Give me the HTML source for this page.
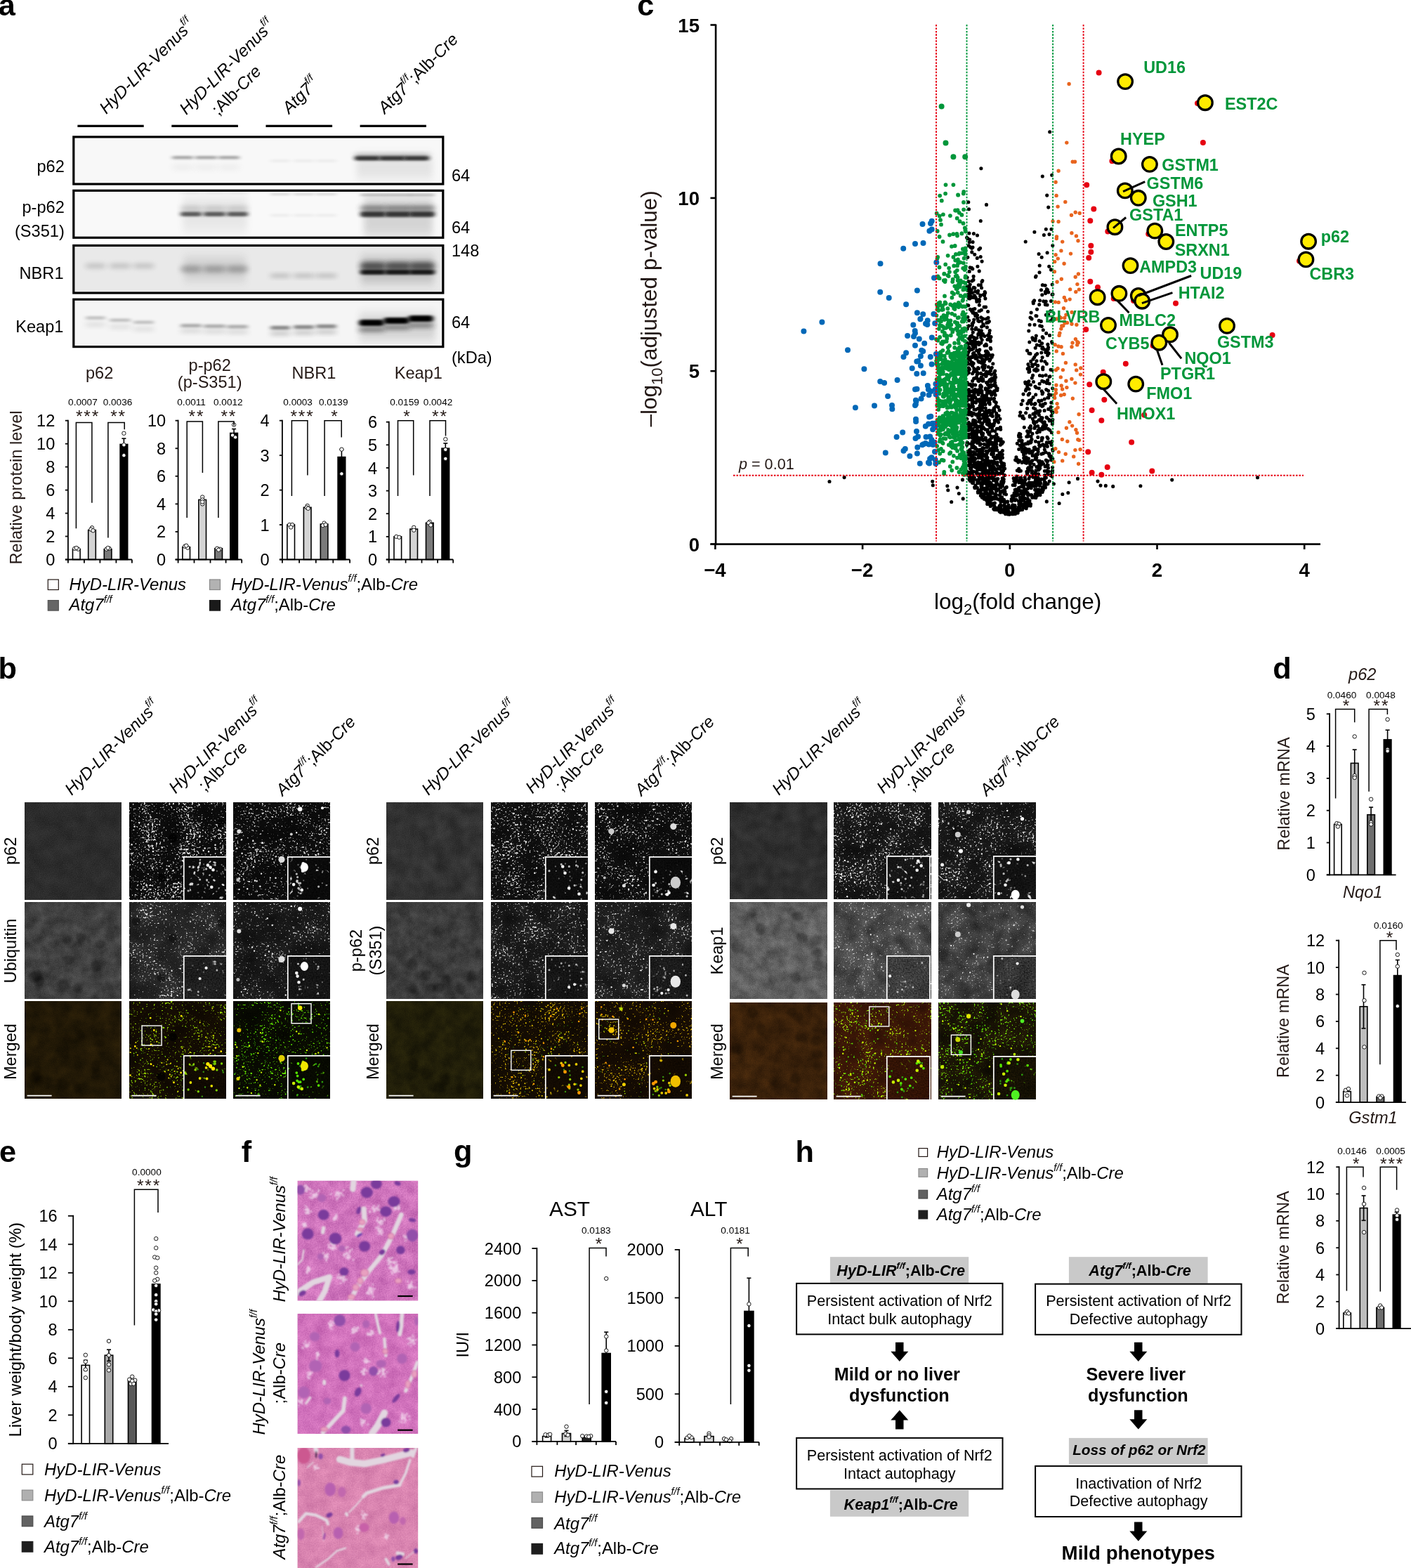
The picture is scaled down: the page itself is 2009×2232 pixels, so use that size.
<!DOCTYPE html>
<html lang="en"><head><meta charset="utf-8"><title>Figure</title>
<style>
html,body{margin:0;padding:0;background:#fff}
body{width:2009px;height:2232px;overflow:hidden}
svg{display:block;font-family:"Liberation Sans",sans-serif}
</style></head><body>
<svg width="2009" height="2232" viewBox="0 0 2009 2232">
<defs>
<filter id="b1" x="-20%" y="-100%" width="140%" height="300%"><feGaussianBlur stdDeviation="3 1.5"/></filter>
<filter id="b2" x="-20%" y="-100%" width="140%" height="300%"><feGaussianBlur stdDeviation="4 3"/></filter>
<filter id="b3" x="-20%" y="-100%" width="140%" height="300%"><feGaussianBlur stdDeviation="5 8"/></filter>
<filter id="sb" x="-5%" y="-5%" width="110%" height="110%"><feGaussianBlur stdDeviation="0.45"/></filter>
<filter id="sb3" x="-30%" y="-30%" width="160%" height="160%"><feGaussianBlur stdDeviation="1.6"/></filter>
<filter id="n1" x="0" y="0" width="100%" height="100%" color-interpolation-filters="sRGB"><feTurbulence type="fractalNoise" baseFrequency="0.85" numOctaves="1" seed="3"/><feColorMatrix values="1 0 0 0 0 1 0 0 0 0 1 0 0 0 0 0 0 0 0 1" result="f"/><feTurbulence type="fractalNoise" baseFrequency="0.05" numOctaves="2" seed="53"/><feColorMatrix values="1 0 0 0 0 1 0 0 0 0 1 0 0 0 0 0 0 0 0 1" result="b"/><feComposite in="f" in2="b" operator="arithmetic" k1="0" k2="0.65" k3="0.35" k4="0"/><feColorMatrix values="0.200 0 0 0 0.073 0.200 0 0 0 0.073 0.200 0 0 0 0.073 0 0 0 0 1" result="g"/></filter>
<filter id="n2" x="0" y="0" width="100%" height="100%" color-interpolation-filters="sRGB"><feTurbulence type="fractalNoise" baseFrequency="0.85" numOctaves="1" seed="8"/><feColorMatrix values="1 0 0 0 0 1 0 0 0 0 1 0 0 0 0 0 0 0 0 1" result="f"/><feTurbulence type="fractalNoise" baseFrequency="0.035" numOctaves="2" seed="58"/><feColorMatrix values="1 0 0 0 0 1 0 0 0 0 1 0 0 0 0 0 0 0 0 1" result="b"/><feComposite in="f" in2="b" operator="arithmetic" k1="0" k2="0.60" k3="0.40" k4="0"/><feColorMatrix values="0.120 0 0 0 -0.009 0.120 0 0 0 -0.009 0.120 0 0 0 -0.009 0 0 0 0 1" result="g"/><feTurbulence type="fractalNoise" baseFrequency="0.37" numOctaves="2" seed="15"/><feColorMatrix values="1 0 0 0 0 1 0 0 0 0 1 0 0 0 0 0 0 0 0 1" result="h"/><feComposite in="h" in2="b" operator="arithmetic" k1="0" k2="7.500" k3="2.500" k4="-5.810"/><feColorMatrix values="0.80 0 0 0 0 0.80 0 0 0 0 0.80 0 0 0 0 0 0 0 0 1"/><feGaussianBlur stdDeviation="0.5" result="s"/><feComposite in="g" in2="s" operator="arithmetic" k1="0" k2="1" k3="1" k4="0"/></filter>
<filter id="n3" x="0" y="0" width="100%" height="100%" color-interpolation-filters="sRGB"><feTurbulence type="fractalNoise" baseFrequency="0.5" numOctaves="1" seed="93"/><feColorMatrix values="1 0 0 0 0 1 0 0 0 0 1 0 0 0 0 0 0 0 0 1" result="f"/><feTurbulence type="fractalNoise" baseFrequency="0.03" numOctaves="2" seed="143"/><feColorMatrix values="1 0 0 0 0 1 0 0 0 0 1 0 0 0 0 0 0 0 0 1" result="b"/><feComposite in="f" in2="b" operator="arithmetic" k1="0" k2="0.70" k3="0.30" k4="0"/><feColorMatrix values="0.108 0 0 0 -0.011 0.108 0 0 0 -0.011 0.108 0 0 0 -0.011 0 0 0 0 1" result="g"/><feTurbulence type="fractalNoise" baseFrequency="0.16" numOctaves="2" seed="100"/><feColorMatrix values="1 0 0 0 0 1 0 0 0 0 1 0 0 0 0 0 0 0 0 1" result="h"/><feComposite in="h" in2="b" operator="arithmetic" k1="0" k2="7.000" k3="3.000" k4="-6.260"/><feColorMatrix values="0.80 0 0 0 0 0.80 0 0 0 0 0.80 0 0 0 0 0 0 0 0 1"/><feGaussianBlur stdDeviation="0.5" result="s"/><feComposite in="g" in2="s" operator="arithmetic" k1="0" k2="1" k3="1" k4="0"/></filter>
<filter id="n4" x="0" y="0" width="100%" height="100%" color-interpolation-filters="sRGB"><feTurbulence type="fractalNoise" baseFrequency="0.85" numOctaves="1" seed="13"/><feColorMatrix values="1 0 0 0 0 1 0 0 0 0 1 0 0 0 0 0 0 0 0 1" result="f"/><feTurbulence type="fractalNoise" baseFrequency="0.035" numOctaves="2" seed="63"/><feColorMatrix values="1 0 0 0 0 1 0 0 0 0 1 0 0 0 0 0 0 0 0 1" result="b"/><feComposite in="f" in2="b" operator="arithmetic" k1="0" k2="0.60" k3="0.40" k4="0"/><feColorMatrix values="0.120 0 0 0 -0.013 0.120 0 0 0 -0.013 0.120 0 0 0 -0.013 0 0 0 0 1" result="g"/><feTurbulence type="fractalNoise" baseFrequency="0.37" numOctaves="2" seed="20"/><feColorMatrix values="1 0 0 0 0 1 0 0 0 0 1 0 0 0 0 0 0 0 0 1" result="h"/><feComposite in="h" in2="b" operator="arithmetic" k1="0" k2="7.500" k3="2.500" k4="-6.060"/><feColorMatrix values="0.80 0 0 0 0 0.80 0 0 0 0 0.80 0 0 0 0 0 0 0 0 1"/><feGaussianBlur stdDeviation="0.5" result="s"/><feComposite in="g" in2="s" operator="arithmetic" k1="0" k2="1" k3="1" k4="0"/></filter>
<filter id="n5" x="0" y="0" width="100%" height="100%" color-interpolation-filters="sRGB"><feTurbulence type="fractalNoise" baseFrequency="0.5" numOctaves="1" seed="96"/><feColorMatrix values="1 0 0 0 0 1 0 0 0 0 1 0 0 0 0 0 0 0 0 1" result="f"/><feTurbulence type="fractalNoise" baseFrequency="0.03" numOctaves="2" seed="146"/><feColorMatrix values="1 0 0 0 0 1 0 0 0 0 1 0 0 0 0 0 0 0 0 1" result="b"/><feComposite in="f" in2="b" operator="arithmetic" k1="0" k2="0.70" k3="0.30" k4="0"/><feColorMatrix values="0.108 0 0 0 -0.015 0.108 0 0 0 -0.015 0.108 0 0 0 -0.015 0 0 0 0 1" result="g"/><feTurbulence type="fractalNoise" baseFrequency="0.16" numOctaves="2" seed="103"/><feColorMatrix values="1 0 0 0 0 1 0 0 0 0 1 0 0 0 0 0 0 0 0 1" result="h"/><feComposite in="h" in2="b" operator="arithmetic" k1="0" k2="7.000" k3="3.000" k4="-6.510"/><feColorMatrix values="0.80 0 0 0 0 0.80 0 0 0 0 0.80 0 0 0 0 0 0 0 0 1"/><feGaussianBlur stdDeviation="0.5" result="s"/><feComposite in="g" in2="s" operator="arithmetic" k1="0" k2="1" k3="1" k4="0"/></filter>
<filter id="n6" x="0" y="0" width="100%" height="100%" color-interpolation-filters="sRGB"><feTurbulence type="fractalNoise" baseFrequency="0.85" numOctaves="1" seed="14"/><feColorMatrix values="1 0 0 0 0 1 0 0 0 0 1 0 0 0 0 0 0 0 0 1" result="f"/><feTurbulence type="fractalNoise" baseFrequency="0.06" numOctaves="3" seed="64"/><feColorMatrix values="1 0 0 0 0 1 0 0 0 0 1 0 0 0 0 0 0 0 0 1" result="b"/><feComposite in="f" in2="b" operator="arithmetic" k1="0" k2="0.45" k3="0.55" k4="0"/><feColorMatrix values="0.340 0 0 0 0.081 0.340 0 0 0 0.081 0.340 0 0 0 0.081 0 0 0 0 1" result="g"/></filter>
<filter id="n7" x="0" y="0" width="100%" height="100%" color-interpolation-filters="sRGB"><feTurbulence type="fractalNoise" baseFrequency="0.85" numOctaves="1" seed="8"/><feColorMatrix values="1 0 0 0 0 1 0 0 0 0 1 0 0 0 0 0 0 0 0 1" result="f"/><feTurbulence type="fractalNoise" baseFrequency="0.035" numOctaves="2" seed="58"/><feColorMatrix values="1 0 0 0 0 1 0 0 0 0 1 0 0 0 0 0 0 0 0 1" result="b"/><feComposite in="f" in2="b" operator="arithmetic" k1="0" k2="0.50" k3="0.50" k4="0"/><feColorMatrix values="0.300 0 0 0 -0.001 0.300 0 0 0 -0.001 0.300 0 0 0 -0.001 0 0 0 0 1" result="g"/><feTurbulence type="fractalNoise" baseFrequency="0.37" numOctaves="2" seed="15"/><feColorMatrix values="1 0 0 0 0 1 0 0 0 0 1 0 0 0 0 0 0 0 0 1" result="h"/><feComposite in="h" in2="b" operator="arithmetic" k1="0" k2="6.000" k3="2.000" k4="-4.928"/><feColorMatrix values="0.80 0 0 0 0 0.80 0 0 0 0 0.80 0 0 0 0 0 0 0 0 1"/><feGaussianBlur stdDeviation="0.5" result="s"/><feComposite in="g" in2="s" operator="arithmetic" k1="0" k2="1" k3="1" k4="0"/></filter>
<filter id="n8" x="0" y="0" width="100%" height="100%" color-interpolation-filters="sRGB"><feTurbulence type="fractalNoise" baseFrequency="0.5" numOctaves="1" seed="93"/><feColorMatrix values="1 0 0 0 0 1 0 0 0 0 1 0 0 0 0 0 0 0 0 1" result="f"/><feTurbulence type="fractalNoise" baseFrequency="0.03" numOctaves="2" seed="143"/><feColorMatrix values="1 0 0 0 0 1 0 0 0 0 1 0 0 0 0 0 0 0 0 1" result="b"/><feComposite in="f" in2="b" operator="arithmetic" k1="0" k2="0.70" k3="0.30" k4="0"/><feColorMatrix values="0.270 0 0 0 -0.010 0.270 0 0 0 -0.010 0.270 0 0 0 -0.010 0 0 0 0 1" result="g"/><feTurbulence type="fractalNoise" baseFrequency="0.16" numOctaves="2" seed="100"/><feColorMatrix values="1 0 0 0 0 1 0 0 0 0 1 0 0 0 0 0 0 0 0 1" result="h"/><feComposite in="h" in2="b" operator="arithmetic" k1="0" k2="5.600" k3="2.400" k4="-5.288"/><feColorMatrix values="0.80 0 0 0 0 0.80 0 0 0 0 0.80 0 0 0 0 0 0 0 0 1"/><feGaussianBlur stdDeviation="0.5" result="s"/><feComposite in="g" in2="s" operator="arithmetic" k1="0" k2="1" k3="1" k4="0"/></filter>
<filter id="n9" x="0" y="0" width="100%" height="100%" color-interpolation-filters="sRGB"><feTurbulence type="fractalNoise" baseFrequency="0.85" numOctaves="1" seed="13"/><feColorMatrix values="1 0 0 0 0 1 0 0 0 0 1 0 0 0 0 0 0 0 0 1" result="f"/><feTurbulence type="fractalNoise" baseFrequency="0.035" numOctaves="2" seed="63"/><feColorMatrix values="1 0 0 0 0 1 0 0 0 0 1 0 0 0 0 0 0 0 0 1" result="b"/><feComposite in="f" in2="b" operator="arithmetic" k1="0" k2="0.50" k3="0.50" k4="0"/><feColorMatrix values="0.220 0 0 0 -0.016 0.220 0 0 0 -0.016 0.220 0 0 0 -0.016 0 0 0 0 1" result="g"/><feTurbulence type="fractalNoise" baseFrequency="0.37" numOctaves="2" seed="20"/><feColorMatrix values="1 0 0 0 0 1 0 0 0 0 1 0 0 0 0 0 0 0 0 1" result="h"/><feComposite in="h" in2="b" operator="arithmetic" k1="0" k2="6.000" k3="2.000" k4="-5.008"/><feColorMatrix values="0.80 0 0 0 0 0.80 0 0 0 0 0.80 0 0 0 0 0 0 0 0 1"/><feGaussianBlur stdDeviation="0.5" result="s"/><feComposite in="g" in2="s" operator="arithmetic" k1="0" k2="1" k3="1" k4="0"/></filter>
<filter id="n10" x="0" y="0" width="100%" height="100%" color-interpolation-filters="sRGB"><feTurbulence type="fractalNoise" baseFrequency="0.5" numOctaves="1" seed="96"/><feColorMatrix values="1 0 0 0 0 1 0 0 0 0 1 0 0 0 0 0 0 0 0 1" result="f"/><feTurbulence type="fractalNoise" baseFrequency="0.03" numOctaves="2" seed="146"/><feColorMatrix values="1 0 0 0 0 1 0 0 0 0 1 0 0 0 0 0 0 0 0 1" result="b"/><feComposite in="f" in2="b" operator="arithmetic" k1="0" k2="0.70" k3="0.30" k4="0"/><feColorMatrix values="0.198 0 0 0 -0.021 0.198 0 0 0 -0.021 0.198 0 0 0 -0.021 0 0 0 0 1" result="g"/><feTurbulence type="fractalNoise" baseFrequency="0.16" numOctaves="2" seed="103"/><feColorMatrix values="1 0 0 0 0 1 0 0 0 0 1 0 0 0 0 0 0 0 0 1" result="h"/><feComposite in="h" in2="b" operator="arithmetic" k1="0" k2="5.600" k3="2.400" k4="-5.368"/><feColorMatrix values="0.80 0 0 0 0 0.80 0 0 0 0 0.80 0 0 0 0 0 0 0 0 1"/><feGaussianBlur stdDeviation="0.5" result="s"/><feComposite in="g" in2="s" operator="arithmetic" k1="0" k2="1" k3="1" k4="0"/></filter>
<filter id="n11" x="0" y="0" width="100%" height="100%" color-interpolation-filters="sRGB"><feTurbulence type="fractalNoise" baseFrequency="0.85" numOctaves="1" seed="25"/><feColorMatrix values="1 0 0 0 0 1 0 0 0 0 1 0 0 0 0 0 0 0 0 1" result="f"/><feTurbulence type="fractalNoise" baseFrequency="0.05" numOctaves="3" seed="75"/><feColorMatrix values="1 0 0 0 0 1 0 0 0 0 1 0 0 0 0 0 0 0 0 1" result="b"/><feComposite in="f" in2="b" operator="arithmetic" k1="0" k2="0.40" k3="0.60" k4="0"/><feColorMatrix values="0.200 0 0 0 0.029 0.140 0 0 0 0.024 0.040 0 0 0 0.004 0 0 0 0 1" result="g"/></filter>
<filter id="n12" x="0" y="0" width="100%" height="100%" color-interpolation-filters="sRGB"><feTurbulence type="fractalNoise" baseFrequency="0.85" numOctaves="1" seed="8"/><feColorMatrix values="1 0 0 0 0 1 0 0 0 0 1 0 0 0 0 0 0 0 0 1" result="f"/><feTurbulence type="fractalNoise" baseFrequency="0.035" numOctaves="2" seed="58"/><feColorMatrix values="1 0 0 0 0 1 0 0 0 0 1 0 0 0 0 0 0 0 0 1" result="b"/><feComposite in="f" in2="b" operator="arithmetic" k1="0" k2="0.50" k3="0.50" k4="0"/><feColorMatrix values="0.140 0 0 0 0.008 0.098 0 0 0 -0.002 0.028 0 0 0 -0.002 0 0 0 0 1" result="g"/><feTurbulence type="fractalNoise" baseFrequency="0.37" numOctaves="2" seed="15"/><feColorMatrix values="1 0 0 0 0 1 0 0 0 0 1 0 0 0 0 0 0 0 0 1" result="h"/><feComposite in="h" in2="b" operator="arithmetic" k1="0" k2="7.500" k3="2.500" k4="-6.120"/><feColorMatrix values="0.50 0 0 0 0 0.78 0 0 0 0 0.00 0 0 0 0 0 0 0 0 1"/><feGaussianBlur stdDeviation="0.5" result="s"/><feComposite in="g" in2="s" operator="arithmetic" k1="0" k2="1" k3="1" k4="0"/></filter>
<filter id="n13" x="0" y="0" width="100%" height="100%" color-interpolation-filters="sRGB"><feTurbulence type="fractalNoise" baseFrequency="0.5" numOctaves="1" seed="93"/><feColorMatrix values="1 0 0 0 0 1 0 0 0 0 1 0 0 0 0 0 0 0 0 1" result="f"/><feTurbulence type="fractalNoise" baseFrequency="0.03" numOctaves="2" seed="143"/><feColorMatrix values="1 0 0 0 0 1 0 0 0 0 1 0 0 0 0 0 0 0 0 1" result="b"/><feComposite in="f" in2="b" operator="arithmetic" k1="0" k2="0.70" k3="0.30" k4="0"/><feColorMatrix values="0.126 0 0 0 0.004 0.088 0 0 0 -0.005 0.025 0 0 0 -0.005 0 0 0 0 1" result="g"/><feTurbulence type="fractalNoise" baseFrequency="0.16" numOctaves="2" seed="100"/><feColorMatrix values="1 0 0 0 0 1 0 0 0 0 1 0 0 0 0 0 0 0 0 1" result="h"/><feComposite in="h" in2="b" operator="arithmetic" k1="0" k2="7.000" k3="3.000" k4="-6.570"/><feColorMatrix values="0.50 0 0 0 0 0.78 0 0 0 0 0.00 0 0 0 0 0 0 0 0 1"/><feGaussianBlur stdDeviation="0.5" result="s"/><feComposite in="g" in2="s" operator="arithmetic" k1="0" k2="1" k3="1" k4="0"/></filter>
<filter id="n14" x="0" y="0" width="100%" height="100%" color-interpolation-filters="sRGB"><feTurbulence type="fractalNoise" baseFrequency="0.85" numOctaves="1" seed="13"/><feColorMatrix values="1 0 0 0 0 1 0 0 0 0 1 0 0 0 0 0 0 0 0 1" result="f"/><feTurbulence type="fractalNoise" baseFrequency="0.035" numOctaves="2" seed="63"/><feColorMatrix values="1 0 0 0 0 1 0 0 0 0 1 0 0 0 0 0 0 0 0 1" result="b"/><feComposite in="f" in2="b" operator="arithmetic" k1="0" k2="0.50" k3="0.50" k4="0"/><feColorMatrix values="0.096 0 0 0 -0.013 0.120 0 0 0 -0.017 0.024 0 0 0 -0.004 0 0 0 0 1" result="g"/><feTurbulence type="fractalNoise" baseFrequency="0.37" numOctaves="2" seed="20"/><feColorMatrix values="1 0 0 0 0 1 0 0 0 0 1 0 0 0 0 0 0 0 0 1" result="h"/><feComposite in="h" in2="b" operator="arithmetic" k1="0" k2="7.500" k3="2.500" k4="-6.150"/><feColorMatrix values="0.35 0 0 0 0 0.85 0 0 0 0 0.00 0 0 0 0 0 0 0 0 1"/><feGaussianBlur stdDeviation="0.5" result="s"/><feComposite in="g" in2="s" operator="arithmetic" k1="0" k2="1" k3="1" k4="0"/></filter>
<filter id="n15" x="0" y="0" width="100%" height="100%" color-interpolation-filters="sRGB"><feTurbulence type="fractalNoise" baseFrequency="0.5" numOctaves="1" seed="96"/><feColorMatrix values="1 0 0 0 0 1 0 0 0 0 1 0 0 0 0 0 0 0 0 1" result="f"/><feTurbulence type="fractalNoise" baseFrequency="0.03" numOctaves="2" seed="146"/><feColorMatrix values="1 0 0 0 0 1 0 0 0 0 1 0 0 0 0 0 0 0 0 1" result="b"/><feComposite in="f" in2="b" operator="arithmetic" k1="0" k2="0.70" k3="0.30" k4="0"/><feColorMatrix values="0.086 0 0 0 -0.016 0.108 0 0 0 -0.019 0.022 0 0 0 -0.007 0 0 0 0 1" result="g"/><feTurbulence type="fractalNoise" baseFrequency="0.16" numOctaves="2" seed="103"/><feColorMatrix values="1 0 0 0 0 1 0 0 0 0 1 0 0 0 0 0 0 0 0 1" result="h"/><feComposite in="h" in2="b" operator="arithmetic" k1="0" k2="7.000" k3="3.000" k4="-6.600"/><feColorMatrix values="0.35 0 0 0 0 0.85 0 0 0 0 0.00 0 0 0 0 0 0 0 0 1"/><feGaussianBlur stdDeviation="0.5" result="s"/><feComposite in="g" in2="s" operator="arithmetic" k1="0" k2="1" k3="1" k4="0"/></filter>
<filter id="n16" x="0" y="0" width="100%" height="100%" color-interpolation-filters="sRGB"><feTurbulence type="fractalNoise" baseFrequency="0.85" numOctaves="1" seed="40"/><feColorMatrix values="1 0 0 0 0 1 0 0 0 0 1 0 0 0 0 0 0 0 0 1" result="f"/><feTurbulence type="fractalNoise" baseFrequency="0.05" numOctaves="2" seed="90"/><feColorMatrix values="1 0 0 0 0 1 0 0 0 0 1 0 0 0 0 0 0 0 0 1" result="b"/><feComposite in="f" in2="b" operator="arithmetic" k1="0" k2="0.50" k3="0.50" k4="0"/><feColorMatrix values="0.250 0 0 0 0.071 0.250 0 0 0 0.071 0.250 0 0 0 0.071 0 0 0 0 1" result="g"/></filter>
<filter id="n17" x="0" y="0" width="100%" height="100%" color-interpolation-filters="sRGB"><feTurbulence type="fractalNoise" baseFrequency="0.85" numOctaves="1" seed="45"/><feColorMatrix values="1 0 0 0 0 1 0 0 0 0 1 0 0 0 0 0 0 0 0 1" result="f"/><feTurbulence type="fractalNoise" baseFrequency="0.035" numOctaves="2" seed="95"/><feColorMatrix values="1 0 0 0 0 1 0 0 0 0 1 0 0 0 0 0 0 0 0 1" result="b"/><feComposite in="f" in2="b" operator="arithmetic" k1="0" k2="0.60" k3="0.40" k4="0"/><feColorMatrix values="0.140 0 0 0 -0.007 0.140 0 0 0 -0.007 0.140 0 0 0 -0.007 0 0 0 0 1" result="g"/><feTurbulence type="fractalNoise" baseFrequency="0.37" numOctaves="2" seed="52"/><feColorMatrix values="1 0 0 0 0 1 0 0 0 0 1 0 0 0 0 0 0 0 0 1" result="h"/><feComposite in="h" in2="b" operator="arithmetic" k1="0" k2="7.500" k3="2.500" k4="-5.910"/><feColorMatrix values="0.80 0 0 0 0 0.80 0 0 0 0 0.80 0 0 0 0 0 0 0 0 1"/><feGaussianBlur stdDeviation="0.5" result="s"/><feComposite in="g" in2="s" operator="arithmetic" k1="0" k2="1" k3="1" k4="0"/></filter>
<filter id="n18" x="0" y="0" width="100%" height="100%" color-interpolation-filters="sRGB"><feTurbulence type="fractalNoise" baseFrequency="0.5" numOctaves="1" seed="124"/><feColorMatrix values="1 0 0 0 0 1 0 0 0 0 1 0 0 0 0 0 0 0 0 1" result="f"/><feTurbulence type="fractalNoise" baseFrequency="0.03" numOctaves="2" seed="174"/><feColorMatrix values="1 0 0 0 0 1 0 0 0 0 1 0 0 0 0 0 0 0 0 1" result="b"/><feComposite in="f" in2="b" operator="arithmetic" k1="0" k2="0.70" k3="0.30" k4="0"/><feColorMatrix values="0.126 0 0 0 -0.012 0.126 0 0 0 -0.012 0.126 0 0 0 -0.012 0 0 0 0 1" result="g"/><feTurbulence type="fractalNoise" baseFrequency="0.16" numOctaves="2" seed="131"/><feColorMatrix values="1 0 0 0 0 1 0 0 0 0 1 0 0 0 0 0 0 0 0 1" result="h"/><feComposite in="h" in2="b" operator="arithmetic" k1="0" k2="7.000" k3="3.000" k4="-6.360"/><feColorMatrix values="0.80 0 0 0 0 0.80 0 0 0 0 0.80 0 0 0 0 0 0 0 0 1"/><feGaussianBlur stdDeviation="0.5" result="s"/><feComposite in="g" in2="s" operator="arithmetic" k1="0" k2="1" k3="1" k4="0"/></filter>
<filter id="n19" x="0" y="0" width="100%" height="100%" color-interpolation-filters="sRGB"><feTurbulence type="fractalNoise" baseFrequency="0.85" numOctaves="1" seed="50"/><feColorMatrix values="1 0 0 0 0 1 0 0 0 0 1 0 0 0 0 0 0 0 0 1" result="f"/><feTurbulence type="fractalNoise" baseFrequency="0.035" numOctaves="2" seed="100"/><feColorMatrix values="1 0 0 0 0 1 0 0 0 0 1 0 0 0 0 0 0 0 0 1" result="b"/><feComposite in="f" in2="b" operator="arithmetic" k1="0" k2="0.60" k3="0.40" k4="0"/><feColorMatrix values="0.140 0 0 0 -0.015 0.140 0 0 0 -0.015 0.140 0 0 0 -0.015 0 0 0 0 1" result="g"/><feTurbulence type="fractalNoise" baseFrequency="0.37" numOctaves="2" seed="57"/><feColorMatrix values="1 0 0 0 0 1 0 0 0 0 1 0 0 0 0 0 0 0 0 1" result="h"/><feComposite in="h" in2="b" operator="arithmetic" k1="0" k2="7.500" k3="2.500" k4="-6.060"/><feColorMatrix values="0.80 0 0 0 0 0.80 0 0 0 0 0.80 0 0 0 0 0 0 0 0 1"/><feGaussianBlur stdDeviation="0.5" result="s"/><feComposite in="g" in2="s" operator="arithmetic" k1="0" k2="1" k3="1" k4="0"/></filter>
<filter id="n20" x="0" y="0" width="100%" height="100%" color-interpolation-filters="sRGB"><feTurbulence type="fractalNoise" baseFrequency="0.5" numOctaves="1" seed="127"/><feColorMatrix values="1 0 0 0 0 1 0 0 0 0 1 0 0 0 0 0 0 0 0 1" result="f"/><feTurbulence type="fractalNoise" baseFrequency="0.03" numOctaves="2" seed="177"/><feColorMatrix values="1 0 0 0 0 1 0 0 0 0 1 0 0 0 0 0 0 0 0 1" result="b"/><feComposite in="f" in2="b" operator="arithmetic" k1="0" k2="0.70" k3="0.30" k4="0"/><feColorMatrix values="0.126 0 0 0 -0.020 0.126 0 0 0 -0.020 0.126 0 0 0 -0.020 0 0 0 0 1" result="g"/><feTurbulence type="fractalNoise" baseFrequency="0.16" numOctaves="2" seed="134"/><feColorMatrix values="1 0 0 0 0 1 0 0 0 0 1 0 0 0 0 0 0 0 0 1" result="h"/><feComposite in="h" in2="b" operator="arithmetic" k1="0" k2="7.000" k3="3.000" k4="-6.510"/><feColorMatrix values="0.80 0 0 0 0 0.80 0 0 0 0 0.80 0 0 0 0 0 0 0 0 1"/><feGaussianBlur stdDeviation="0.5" result="s"/><feComposite in="g" in2="s" operator="arithmetic" k1="0" k2="1" k3="1" k4="0"/></filter>
<filter id="n21" x="0" y="0" width="100%" height="100%" color-interpolation-filters="sRGB"><feTurbulence type="fractalNoise" baseFrequency="0.85" numOctaves="1" seed="51"/><feColorMatrix values="1 0 0 0 0 1 0 0 0 0 1 0 0 0 0 0 0 0 0 1" result="f"/><feTurbulence type="fractalNoise" baseFrequency="0.06" numOctaves="3" seed="101"/><feColorMatrix values="1 0 0 0 0 1 0 0 0 0 1 0 0 0 0 0 0 0 0 1" result="b"/><feComposite in="f" in2="b" operator="arithmetic" k1="0" k2="0.45" k3="0.55" k4="0"/><feColorMatrix values="0.320 0 0 0 0.075 0.320 0 0 0 0.075 0.320 0 0 0 0.075 0 0 0 0 1" result="g"/></filter>
<filter id="n22" x="0" y="0" width="100%" height="100%" color-interpolation-filters="sRGB"><feTurbulence type="fractalNoise" baseFrequency="0.85" numOctaves="1" seed="45"/><feColorMatrix values="1 0 0 0 0 1 0 0 0 0 1 0 0 0 0 0 0 0 0 1" result="f"/><feTurbulence type="fractalNoise" baseFrequency="0.035" numOctaves="2" seed="95"/><feColorMatrix values="1 0 0 0 0 1 0 0 0 0 1 0 0 0 0 0 0 0 0 1" result="b"/><feComposite in="f" in2="b" operator="arithmetic" k1="0" k2="0.50" k3="0.50" k4="0"/><feColorMatrix values="0.250 0 0 0 -0.023 0.250 0 0 0 -0.023 0.250 0 0 0 -0.023 0 0 0 0 1" result="g"/><feTurbulence type="fractalNoise" baseFrequency="0.37" numOctaves="2" seed="52"/><feColorMatrix values="1 0 0 0 0 1 0 0 0 0 1 0 0 0 0 0 0 0 0 1" result="h"/><feComposite in="h" in2="b" operator="arithmetic" k1="0" k2="6.000" k3="2.000" k4="-4.848"/><feColorMatrix values="0.80 0 0 0 0 0.80 0 0 0 0 0.80 0 0 0 0 0 0 0 0 1"/><feGaussianBlur stdDeviation="0.5" result="s"/><feComposite in="g" in2="s" operator="arithmetic" k1="0" k2="1" k3="1" k4="0"/></filter>
<filter id="n23" x="0" y="0" width="100%" height="100%" color-interpolation-filters="sRGB"><feTurbulence type="fractalNoise" baseFrequency="0.5" numOctaves="1" seed="124"/><feColorMatrix values="1 0 0 0 0 1 0 0 0 0 1 0 0 0 0 0 0 0 0 1" result="f"/><feTurbulence type="fractalNoise" baseFrequency="0.03" numOctaves="2" seed="174"/><feColorMatrix values="1 0 0 0 0 1 0 0 0 0 1 0 0 0 0 0 0 0 0 1" result="b"/><feComposite in="f" in2="b" operator="arithmetic" k1="0" k2="0.70" k3="0.30" k4="0"/><feColorMatrix values="0.225 0 0 0 -0.026 0.225 0 0 0 -0.026 0.225 0 0 0 -0.026 0 0 0 0 1" result="g"/><feTurbulence type="fractalNoise" baseFrequency="0.16" numOctaves="2" seed="131"/><feColorMatrix values="1 0 0 0 0 1 0 0 0 0 1 0 0 0 0 0 0 0 0 1" result="h"/><feComposite in="h" in2="b" operator="arithmetic" k1="0" k2="5.600" k3="2.400" k4="-5.208"/><feColorMatrix values="0.80 0 0 0 0 0.80 0 0 0 0 0.80 0 0 0 0 0 0 0 0 1"/><feGaussianBlur stdDeviation="0.5" result="s"/><feComposite in="g" in2="s" operator="arithmetic" k1="0" k2="1" k3="1" k4="0"/></filter>
<filter id="n24" x="0" y="0" width="100%" height="100%" color-interpolation-filters="sRGB"><feTurbulence type="fractalNoise" baseFrequency="0.85" numOctaves="1" seed="50"/><feColorMatrix values="1 0 0 0 0 1 0 0 0 0 1 0 0 0 0 0 0 0 0 1" result="f"/><feTurbulence type="fractalNoise" baseFrequency="0.035" numOctaves="2" seed="100"/><feColorMatrix values="1 0 0 0 0 1 0 0 0 0 1 0 0 0 0 0 0 0 0 1" result="b"/><feComposite in="f" in2="b" operator="arithmetic" k1="0" k2="0.50" k3="0.50" k4="0"/><feColorMatrix values="0.280 0 0 0 -0.022 0.280 0 0 0 -0.022 0.280 0 0 0 -0.022 0 0 0 0 1" result="g"/><feTurbulence type="fractalNoise" baseFrequency="0.37" numOctaves="2" seed="57"/><feColorMatrix values="1 0 0 0 0 1 0 0 0 0 1 0 0 0 0 0 0 0 0 1" result="h"/><feComposite in="h" in2="b" operator="arithmetic" k1="0" k2="6.000" k3="2.000" k4="-4.928"/><feColorMatrix values="0.80 0 0 0 0 0.80 0 0 0 0 0.80 0 0 0 0 0 0 0 0 1"/><feGaussianBlur stdDeviation="0.5" result="s"/><feComposite in="g" in2="s" operator="arithmetic" k1="0" k2="1" k3="1" k4="0"/></filter>
<filter id="n25" x="0" y="0" width="100%" height="100%" color-interpolation-filters="sRGB"><feTurbulence type="fractalNoise" baseFrequency="0.5" numOctaves="1" seed="127"/><feColorMatrix values="1 0 0 0 0 1 0 0 0 0 1 0 0 0 0 0 0 0 0 1" result="f"/><feTurbulence type="fractalNoise" baseFrequency="0.03" numOctaves="2" seed="177"/><feColorMatrix values="1 0 0 0 0 1 0 0 0 0 1 0 0 0 0 0 0 0 0 1" result="b"/><feComposite in="f" in2="b" operator="arithmetic" k1="0" k2="0.70" k3="0.30" k4="0"/><feColorMatrix values="0.252 0 0 0 -0.028 0.252 0 0 0 -0.028 0.252 0 0 0 -0.028 0 0 0 0 1" result="g"/><feTurbulence type="fractalNoise" baseFrequency="0.16" numOctaves="2" seed="134"/><feColorMatrix values="1 0 0 0 0 1 0 0 0 0 1 0 0 0 0 0 0 0 0 1" result="h"/><feComposite in="h" in2="b" operator="arithmetic" k1="0" k2="5.600" k3="2.400" k4="-5.288"/><feColorMatrix values="0.80 0 0 0 0 0.80 0 0 0 0 0.80 0 0 0 0 0 0 0 0 1"/><feGaussianBlur stdDeviation="0.5" result="s"/><feComposite in="g" in2="s" operator="arithmetic" k1="0" k2="1" k3="1" k4="0"/></filter>
<filter id="n26" x="0" y="0" width="100%" height="100%" color-interpolation-filters="sRGB"><feTurbulence type="fractalNoise" baseFrequency="0.85" numOctaves="1" seed="62"/><feColorMatrix values="1 0 0 0 0 1 0 0 0 0 1 0 0 0 0 0 0 0 0 1" result="f"/><feTurbulence type="fractalNoise" baseFrequency="0.05" numOctaves="3" seed="112"/><feColorMatrix values="1 0 0 0 0 1 0 0 0 0 1 0 0 0 0 0 0 0 0 1" result="b"/><feComposite in="f" in2="b" operator="arithmetic" k1="0" k2="0.40" k3="0.60" k4="0"/><feColorMatrix values="0.200 0 0 0 0.029 0.180 0 0 0 0.028 0.050 0 0 0 0.010 0 0 0 0 1" result="g"/></filter>
<filter id="n27" x="0" y="0" width="100%" height="100%" color-interpolation-filters="sRGB"><feTurbulence type="fractalNoise" baseFrequency="0.85" numOctaves="1" seed="45"/><feColorMatrix values="1 0 0 0 0 1 0 0 0 0 1 0 0 0 0 0 0 0 0 1" result="f"/><feTurbulence type="fractalNoise" baseFrequency="0.035" numOctaves="2" seed="95"/><feColorMatrix values="1 0 0 0 0 1 0 0 0 0 1 0 0 0 0 0 0 0 0 1" result="b"/><feComposite in="f" in2="b" operator="arithmetic" k1="0" k2="0.50" k3="0.50" k4="0"/><feColorMatrix values="0.140 0 0 0 0.008 0.084 0 0 0 0.005 0.028 0 0 0 -0.002 0 0 0 0 1" result="g"/><feTurbulence type="fractalNoise" baseFrequency="0.37" numOctaves="2" seed="52"/><feColorMatrix values="1 0 0 0 0 1 0 0 0 0 1 0 0 0 0 0 0 0 0 1" result="h"/><feComposite in="h" in2="b" operator="arithmetic" k1="0" k2="7.500" k3="2.500" k4="-6.100"/><feColorMatrix values="0.75 0 0 0 0 0.65 0 0 0 0 0.00 0 0 0 0 0 0 0 0 1"/><feGaussianBlur stdDeviation="0.5" result="s"/><feComposite in="g" in2="s" operator="arithmetic" k1="0" k2="1" k3="1" k4="0"/></filter>
<filter id="n28" x="0" y="0" width="100%" height="100%" color-interpolation-filters="sRGB"><feTurbulence type="fractalNoise" baseFrequency="0.5" numOctaves="1" seed="124"/><feColorMatrix values="1 0 0 0 0 1 0 0 0 0 1 0 0 0 0 0 0 0 0 1" result="f"/><feTurbulence type="fractalNoise" baseFrequency="0.03" numOctaves="2" seed="174"/><feColorMatrix values="1 0 0 0 0 1 0 0 0 0 1 0 0 0 0 0 0 0 0 1" result="b"/><feComposite in="f" in2="b" operator="arithmetic" k1="0" k2="0.70" k3="0.30" k4="0"/><feColorMatrix values="0.126 0 0 0 0.004 0.076 0 0 0 0.001 0.025 0 0 0 -0.005 0 0 0 0 1" result="g"/><feTurbulence type="fractalNoise" baseFrequency="0.16" numOctaves="2" seed="131"/><feColorMatrix values="1 0 0 0 0 1 0 0 0 0 1 0 0 0 0 0 0 0 0 1" result="h"/><feComposite in="h" in2="b" operator="arithmetic" k1="0" k2="7.000" k3="3.000" k4="-6.550"/><feColorMatrix values="0.75 0 0 0 0 0.65 0 0 0 0 0.00 0 0 0 0 0 0 0 0 1"/><feGaussianBlur stdDeviation="0.5" result="s"/><feComposite in="g" in2="s" operator="arithmetic" k1="0" k2="1" k3="1" k4="0"/></filter>
<filter id="n29" x="0" y="0" width="100%" height="100%" color-interpolation-filters="sRGB"><feTurbulence type="fractalNoise" baseFrequency="0.85" numOctaves="1" seed="50"/><feColorMatrix values="1 0 0 0 0 1 0 0 0 0 1 0 0 0 0 0 0 0 0 1" result="f"/><feTurbulence type="fractalNoise" baseFrequency="0.035" numOctaves="2" seed="100"/><feColorMatrix values="1 0 0 0 0 1 0 0 0 0 1 0 0 0 0 0 0 0 0 1" result="b"/><feComposite in="f" in2="b" operator="arithmetic" k1="0" k2="0.50" k3="0.50" k4="0"/><feColorMatrix values="0.140 0 0 0 0.016 0.084 0 0 0 0.005 0.028 0 0 0 -0.002 0 0 0 0 1" result="g"/><feTurbulence type="fractalNoise" baseFrequency="0.37" numOctaves="2" seed="57"/><feColorMatrix values="1 0 0 0 0 1 0 0 0 0 1 0 0 0 0 0 0 0 0 1" result="h"/><feComposite in="h" in2="b" operator="arithmetic" k1="0" k2="7.500" k3="2.500" k4="-6.200"/><feColorMatrix values="0.75 0 0 0 0 0.65 0 0 0 0 0.00 0 0 0 0 0 0 0 0 1"/><feGaussianBlur stdDeviation="0.5" result="s"/><feComposite in="g" in2="s" operator="arithmetic" k1="0" k2="1" k3="1" k4="0"/></filter>
<filter id="n30" x="0" y="0" width="100%" height="100%" color-interpolation-filters="sRGB"><feTurbulence type="fractalNoise" baseFrequency="0.5" numOctaves="1" seed="127"/><feColorMatrix values="1 0 0 0 0 1 0 0 0 0 1 0 0 0 0 0 0 0 0 1" result="f"/><feTurbulence type="fractalNoise" baseFrequency="0.03" numOctaves="2" seed="177"/><feColorMatrix values="1 0 0 0 0 1 0 0 0 0 1 0 0 0 0 0 0 0 0 1" result="b"/><feComposite in="f" in2="b" operator="arithmetic" k1="0" k2="0.70" k3="0.30" k4="0"/><feColorMatrix values="0.126 0 0 0 0.008 0.076 0 0 0 0.001 0.025 0 0 0 -0.005 0 0 0 0 1" result="g"/><feTurbulence type="fractalNoise" baseFrequency="0.16" numOctaves="2" seed="134"/><feColorMatrix values="1 0 0 0 0 1 0 0 0 0 1 0 0 0 0 0 0 0 0 1" result="h"/><feComposite in="h" in2="b" operator="arithmetic" k1="0" k2="7.000" k3="3.000" k4="-6.650"/><feColorMatrix values="0.75 0 0 0 0 0.65 0 0 0 0 0.00 0 0 0 0 0 0 0 0 1"/><feGaussianBlur stdDeviation="0.5" result="s"/><feComposite in="g" in2="s" operator="arithmetic" k1="0" k2="1" k3="1" k4="0"/></filter>
<filter id="n31" x="0" y="0" width="100%" height="100%" color-interpolation-filters="sRGB"><feTurbulence type="fractalNoise" baseFrequency="0.85" numOctaves="1" seed="77"/><feColorMatrix values="1 0 0 0 0 1 0 0 0 0 1 0 0 0 0 0 0 0 0 1" result="f"/><feTurbulence type="fractalNoise" baseFrequency="0.05" numOctaves="2" seed="127"/><feColorMatrix values="1 0 0 0 0 1 0 0 0 0 1 0 0 0 0 0 0 0 0 1" result="b"/><feComposite in="f" in2="b" operator="arithmetic" k1="0" k2="0.50" k3="0.50" k4="0"/><feColorMatrix values="0.250 0 0 0 0.055 0.250 0 0 0 0.055 0.250 0 0 0 0.055 0 0 0 0 1" result="g"/></filter>
<filter id="n32" x="0" y="0" width="100%" height="100%" color-interpolation-filters="sRGB"><feTurbulence type="fractalNoise" baseFrequency="0.85" numOctaves="1" seed="82"/><feColorMatrix values="1 0 0 0 0 1 0 0 0 0 1 0 0 0 0 0 0 0 0 1" result="f"/><feTurbulence type="fractalNoise" baseFrequency="0.035" numOctaves="2" seed="132"/><feColorMatrix values="1 0 0 0 0 1 0 0 0 0 1 0 0 0 0 0 0 0 0 1" result="b"/><feComposite in="f" in2="b" operator="arithmetic" k1="0" k2="0.50" k3="0.50" k4="0"/><feColorMatrix values="0.200 0 0 0 -0.006 0.200 0 0 0 -0.006 0.200 0 0 0 -0.006 0 0 0 0 1" result="g"/><feTurbulence type="fractalNoise" baseFrequency="0.37" numOctaves="2" seed="89"/><feColorMatrix values="1 0 0 0 0 1 0 0 0 0 1 0 0 0 0 0 0 0 0 1" result="h"/><feComposite in="h" in2="b" operator="arithmetic" k1="0" k2="7.500" k3="2.500" k4="-5.910"/><feColorMatrix values="0.80 0 0 0 0 0.80 0 0 0 0 0.80 0 0 0 0 0 0 0 0 1"/><feGaussianBlur stdDeviation="0.5" result="s"/><feComposite in="g" in2="s" operator="arithmetic" k1="0" k2="1" k3="1" k4="0"/></filter>
<filter id="n33" x="0" y="0" width="100%" height="100%" color-interpolation-filters="sRGB"><feTurbulence type="fractalNoise" baseFrequency="0.5" numOctaves="1" seed="155"/><feColorMatrix values="1 0 0 0 0 1 0 0 0 0 1 0 0 0 0 0 0 0 0 1" result="f"/><feTurbulence type="fractalNoise" baseFrequency="0.03" numOctaves="2" seed="205"/><feColorMatrix values="1 0 0 0 0 1 0 0 0 0 1 0 0 0 0 0 0 0 0 1" result="b"/><feComposite in="f" in2="b" operator="arithmetic" k1="0" k2="0.70" k3="0.30" k4="0"/><feColorMatrix values="0.180 0 0 0 -0.012 0.180 0 0 0 -0.012 0.180 0 0 0 -0.012 0 0 0 0 1" result="g"/><feTurbulence type="fractalNoise" baseFrequency="0.16" numOctaves="2" seed="162"/><feColorMatrix values="1 0 0 0 0 1 0 0 0 0 1 0 0 0 0 0 0 0 0 1" result="h"/><feComposite in="h" in2="b" operator="arithmetic" k1="0" k2="7.000" k3="3.000" k4="-6.360"/><feColorMatrix values="0.80 0 0 0 0 0.80 0 0 0 0 0.80 0 0 0 0 0 0 0 0 1"/><feGaussianBlur stdDeviation="0.5" result="s"/><feComposite in="g" in2="s" operator="arithmetic" k1="0" k2="1" k3="1" k4="0"/></filter>
<filter id="n34" x="0" y="0" width="100%" height="100%" color-interpolation-filters="sRGB"><feTurbulence type="fractalNoise" baseFrequency="0.85" numOctaves="1" seed="87"/><feColorMatrix values="1 0 0 0 0 1 0 0 0 0 1 0 0 0 0 0 0 0 0 1" result="f"/><feTurbulence type="fractalNoise" baseFrequency="0.035" numOctaves="2" seed="137"/><feColorMatrix values="1 0 0 0 0 1 0 0 0 0 1 0 0 0 0 0 0 0 0 1" result="b"/><feComposite in="f" in2="b" operator="arithmetic" k1="0" k2="0.50" k3="0.50" k4="0"/><feColorMatrix values="0.200 0 0 0 -0.006 0.200 0 0 0 -0.006 0.200 0 0 0 -0.006 0 0 0 0 1" result="g"/><feTurbulence type="fractalNoise" baseFrequency="0.37" numOctaves="2" seed="94"/><feColorMatrix values="1 0 0 0 0 1 0 0 0 0 1 0 0 0 0 0 0 0 0 1" result="h"/><feComposite in="h" in2="b" operator="arithmetic" k1="0" k2="7.500" k3="2.500" k4="-6.060"/><feColorMatrix values="0.80 0 0 0 0 0.80 0 0 0 0 0.80 0 0 0 0 0 0 0 0 1"/><feGaussianBlur stdDeviation="0.5" result="s"/><feComposite in="g" in2="s" operator="arithmetic" k1="0" k2="1" k3="1" k4="0"/></filter>
<filter id="n35" x="0" y="0" width="100%" height="100%" color-interpolation-filters="sRGB"><feTurbulence type="fractalNoise" baseFrequency="0.5" numOctaves="1" seed="158"/><feColorMatrix values="1 0 0 0 0 1 0 0 0 0 1 0 0 0 0 0 0 0 0 1" result="f"/><feTurbulence type="fractalNoise" baseFrequency="0.03" numOctaves="2" seed="208"/><feColorMatrix values="1 0 0 0 0 1 0 0 0 0 1 0 0 0 0 0 0 0 0 1" result="b"/><feComposite in="f" in2="b" operator="arithmetic" k1="0" k2="0.70" k3="0.30" k4="0"/><feColorMatrix values="0.180 0 0 0 -0.012 0.180 0 0 0 -0.012 0.180 0 0 0 -0.012 0 0 0 0 1" result="g"/><feTurbulence type="fractalNoise" baseFrequency="0.16" numOctaves="2" seed="165"/><feColorMatrix values="1 0 0 0 0 1 0 0 0 0 1 0 0 0 0 0 0 0 0 1" result="h"/><feComposite in="h" in2="b" operator="arithmetic" k1="0" k2="7.000" k3="3.000" k4="-6.510"/><feColorMatrix values="0.80 0 0 0 0 0.80 0 0 0 0 0.80 0 0 0 0 0 0 0 0 1"/><feGaussianBlur stdDeviation="0.5" result="s"/><feComposite in="g" in2="s" operator="arithmetic" k1="0" k2="1" k3="1" k4="0"/></filter>
<filter id="n36" x="0" y="0" width="100%" height="100%" color-interpolation-filters="sRGB"><feTurbulence type="fractalNoise" baseFrequency="0.85" numOctaves="1" seed="88"/><feColorMatrix values="1 0 0 0 0 1 0 0 0 0 1 0 0 0 0 0 0 0 0 1" result="f"/><feTurbulence type="fractalNoise" baseFrequency="0.06" numOctaves="3" seed="138"/><feColorMatrix values="1 0 0 0 0 1 0 0 0 0 1 0 0 0 0 0 0 0 0 1" result="b"/><feComposite in="f" in2="b" operator="arithmetic" k1="0" k2="0.45" k3="0.55" k4="0"/><feColorMatrix values="0.450 0 0 0 0.148 0.450 0 0 0 0.148 0.450 0 0 0 0.148 0 0 0 0 1" result="g"/></filter>
<filter id="n37" x="0" y="0" width="100%" height="100%" color-interpolation-filters="sRGB"><feTurbulence type="fractalNoise" baseFrequency="0.85" numOctaves="1" seed="82"/><feColorMatrix values="1 0 0 0 0 1 0 0 0 0 1 0 0 0 0 0 0 0 0 1" result="f"/><feTurbulence type="fractalNoise" baseFrequency="0.045" numOctaves="3" seed="132"/><feColorMatrix values="1 0 0 0 0 1 0 0 0 0 1 0 0 0 0 0 0 0 0 1" result="b"/><feComposite in="f" in2="b" operator="arithmetic" k1="0" k2="0.45" k3="0.55" k4="0"/><feColorMatrix values="0.500 0 0 0 0.040 0.500 0 0 0 0.040 0.500 0 0 0 0.040 0 0 0 0 1" result="g"/><feTurbulence type="fractalNoise" baseFrequency="0.37" numOctaves="2" seed="89"/><feColorMatrix values="1 0 0 0 0 1 0 0 0 0 1 0 0 0 0 0 0 0 0 1" result="h"/><feComposite in="h" in2="b" operator="arithmetic" k1="0" k2="4.500" k3="1.500" k4="-3.816"/><feColorMatrix values="0.80 0 0 0 0 0.80 0 0 0 0 0.80 0 0 0 0 0 0 0 0 1"/><feGaussianBlur stdDeviation="0.5" result="s"/><feComposite in="g" in2="s" operator="arithmetic" k1="0" k2="1" k3="1" k4="0"/></filter>
<filter id="n38" x="0" y="0" width="100%" height="100%" color-interpolation-filters="sRGB"><feTurbulence type="fractalNoise" baseFrequency="0.5" numOctaves="1" seed="155"/><feColorMatrix values="1 0 0 0 0 1 0 0 0 0 1 0 0 0 0 0 0 0 0 1" result="f"/><feTurbulence type="fractalNoise" baseFrequency="0.03" numOctaves="2" seed="205"/><feColorMatrix values="1 0 0 0 0 1 0 0 0 0 1 0 0 0 0 0 0 0 0 1" result="b"/><feComposite in="f" in2="b" operator="arithmetic" k1="0" k2="0.70" k3="0.30" k4="0"/><feColorMatrix values="0.450 0 0 0 0.018 0.450 0 0 0 0.018 0.450 0 0 0 0.018 0 0 0 0 1" result="g"/><feTurbulence type="fractalNoise" baseFrequency="0.16" numOctaves="2" seed="162"/><feColorMatrix values="1 0 0 0 0 1 0 0 0 0 1 0 0 0 0 0 0 0 0 1" result="h"/><feComposite in="h" in2="b" operator="arithmetic" k1="0" k2="4.200" k3="1.800" k4="-4.086"/><feColorMatrix values="0.80 0 0 0 0 0.80 0 0 0 0 0.80 0 0 0 0 0 0 0 0 1"/><feGaussianBlur stdDeviation="0.5" result="s"/><feComposite in="g" in2="s" operator="arithmetic" k1="0" k2="1" k3="1" k4="0"/></filter>
<filter id="n39" x="0" y="0" width="100%" height="100%" color-interpolation-filters="sRGB"><feTurbulence type="fractalNoise" baseFrequency="0.85" numOctaves="1" seed="87"/><feColorMatrix values="1 0 0 0 0 1 0 0 0 0 1 0 0 0 0 0 0 0 0 1" result="f"/><feTurbulence type="fractalNoise" baseFrequency="0.04" numOctaves="3" seed="137"/><feColorMatrix values="1 0 0 0 0 1 0 0 0 0 1 0 0 0 0 0 0 0 0 1" result="b"/><feComposite in="f" in2="b" operator="arithmetic" k1="0" k2="0.40" k3="0.60" k4="0"/><feColorMatrix values="0.500 0 0 0 -0.007 0.500 0 0 0 -0.007 0.500 0 0 0 -0.007 0 0 0 0 1" result="g"/><feTurbulence type="fractalNoise" baseFrequency="0.37" numOctaves="2" seed="94"/><feColorMatrix values="1 0 0 0 0 1 0 0 0 0 1 0 0 0 0 0 0 0 0 1" result="h"/><feComposite in="h" in2="b" operator="arithmetic" k1="0" k2="4.500" k3="1.500" k4="-3.876"/><feColorMatrix values="0.80 0 0 0 0 0.80 0 0 0 0 0.80 0 0 0 0 0 0 0 0 1"/><feGaussianBlur stdDeviation="0.5" result="s"/><feComposite in="g" in2="s" operator="arithmetic" k1="0" k2="1" k3="1" k4="0"/></filter>
<filter id="n40" x="0" y="0" width="100%" height="100%" color-interpolation-filters="sRGB"><feTurbulence type="fractalNoise" baseFrequency="0.5" numOctaves="1" seed="158"/><feColorMatrix values="1 0 0 0 0 1 0 0 0 0 1 0 0 0 0 0 0 0 0 1" result="f"/><feTurbulence type="fractalNoise" baseFrequency="0.03" numOctaves="2" seed="208"/><feColorMatrix values="1 0 0 0 0 1 0 0 0 0 1 0 0 0 0 0 0 0 0 1" result="b"/><feComposite in="f" in2="b" operator="arithmetic" k1="0" k2="0.70" k3="0.30" k4="0"/><feColorMatrix values="0.450 0 0 0 -0.021 0.450 0 0 0 -0.021 0.450 0 0 0 -0.021 0 0 0 0 1" result="g"/><feTurbulence type="fractalNoise" baseFrequency="0.16" numOctaves="2" seed="165"/><feColorMatrix values="1 0 0 0 0 1 0 0 0 0 1 0 0 0 0 0 0 0 0 1" result="h"/><feComposite in="h" in2="b" operator="arithmetic" k1="0" k2="4.200" k3="1.800" k4="-4.146"/><feColorMatrix values="0.80 0 0 0 0 0.80 0 0 0 0 0.80 0 0 0 0 0 0 0 0 1"/><feGaussianBlur stdDeviation="0.5" result="s"/><feComposite in="g" in2="s" operator="arithmetic" k1="0" k2="1" k3="1" k4="0"/></filter>
<filter id="n41" x="0" y="0" width="100%" height="100%" color-interpolation-filters="sRGB"><feTurbulence type="fractalNoise" baseFrequency="0.85" numOctaves="1" seed="99"/><feColorMatrix values="1 0 0 0 0 1 0 0 0 0 1 0 0 0 0 0 0 0 0 1" result="f"/><feTurbulence type="fractalNoise" baseFrequency="0.05" numOctaves="3" seed="149"/><feColorMatrix values="1 0 0 0 0 1 0 0 0 0 1 0 0 0 0 0 0 0 0 1" result="b"/><feComposite in="f" in2="b" operator="arithmetic" k1="0" k2="0.40" k3="0.60" k4="0"/><feColorMatrix values="0.300 0 0 0 0.077 0.180 0 0 0 0.039 0.060 0 0 0 0.009 0 0 0 0 1" result="g"/></filter>
<filter id="n42" x="0" y="0" width="100%" height="100%" color-interpolation-filters="sRGB"><feTurbulence type="fractalNoise" baseFrequency="0.85" numOctaves="1" seed="82"/><feColorMatrix values="1 0 0 0 0 1 0 0 0 0 1 0 0 0 0 0 0 0 0 1" result="f"/><feTurbulence type="fractalNoise" baseFrequency="0.045" numOctaves="2" seed="132"/><feColorMatrix values="1 0 0 0 0 1 0 0 0 0 1 0 0 0 0 0 0 0 0 1" result="b"/><feComposite in="f" in2="b" operator="arithmetic" k1="0" k2="0.40" k3="0.60" k4="0"/><feColorMatrix values="0.300 0 0 0 0.085 0.135 0 0 0 0.023 0.045 0 0 0 0.005 0 0 0 0 1" result="g"/><feTurbulence type="fractalNoise" baseFrequency="0.37" numOctaves="2" seed="89"/><feColorMatrix values="1 0 0 0 0 1 0 0 0 0 1 0 0 0 0 0 0 0 0 1" result="h"/><feComposite in="h" in2="b" operator="arithmetic" k1="0" k2="7.500" k3="2.500" k4="-6.100"/><feColorMatrix values="0.40 0 0 0 0 0.85 0 0 0 0 0.00 0 0 0 0 0 0 0 0 1"/><feGaussianBlur stdDeviation="0.5" result="s"/><feComposite in="g" in2="s" operator="arithmetic" k1="0" k2="1" k3="1" k4="0"/></filter>
<filter id="n43" x="0" y="0" width="100%" height="100%" color-interpolation-filters="sRGB"><feTurbulence type="fractalNoise" baseFrequency="0.5" numOctaves="1" seed="155"/><feColorMatrix values="1 0 0 0 0 1 0 0 0 0 1 0 0 0 0 0 0 0 0 1" result="f"/><feTurbulence type="fractalNoise" baseFrequency="0.03" numOctaves="2" seed="205"/><feColorMatrix values="1 0 0 0 0 1 0 0 0 0 1 0 0 0 0 0 0 0 0 1" result="b"/><feComposite in="f" in2="b" operator="arithmetic" k1="0" k2="0.70" k3="0.30" k4="0"/><feColorMatrix values="0.270 0 0 0 0.065 0.122 0 0 0 0.014 0.041 0 0 0 -0.001 0 0 0 0 1" result="g"/><feTurbulence type="fractalNoise" baseFrequency="0.16" numOctaves="2" seed="162"/><feColorMatrix values="1 0 0 0 0 1 0 0 0 0 1 0 0 0 0 0 0 0 0 1" result="h"/><feComposite in="h" in2="b" operator="arithmetic" k1="0" k2="7.000" k3="3.000" k4="-6.550"/><feColorMatrix values="0.40 0 0 0 0 0.85 0 0 0 0 0.00 0 0 0 0 0 0 0 0 1"/><feGaussianBlur stdDeviation="0.5" result="s"/><feComposite in="g" in2="s" operator="arithmetic" k1="0" k2="1" k3="1" k4="0"/></filter>
<filter id="n44" x="0" y="0" width="100%" height="100%" color-interpolation-filters="sRGB"><feTurbulence type="fractalNoise" baseFrequency="0.85" numOctaves="1" seed="87"/><feColorMatrix values="1 0 0 0 0 1 0 0 0 0 1 0 0 0 0 0 0 0 0 1" result="f"/><feTurbulence type="fractalNoise" baseFrequency="0.045" numOctaves="2" seed="137"/><feColorMatrix values="1 0 0 0 0 1 0 0 0 0 1 0 0 0 0 0 0 0 0 1" result="b"/><feComposite in="f" in2="b" operator="arithmetic" k1="0" k2="0.40" k3="0.60" k4="0"/><feColorMatrix values="0.250 0 0 0 -0.023 0.175 0 0 0 -0.009 0.050 0 0 0 -0.005 0 0 0 0 1" result="g"/><feTurbulence type="fractalNoise" baseFrequency="0.37" numOctaves="2" seed="94"/><feColorMatrix values="1 0 0 0 0 1 0 0 0 0 1 0 0 0 0 0 0 0 0 1" result="h"/><feComposite in="h" in2="b" operator="arithmetic" k1="0" k2="7.500" k3="2.500" k4="-6.150"/><feColorMatrix values="0.35 0 0 0 0 0.85 0 0 0 0 0.00 0 0 0 0 0 0 0 0 1"/><feGaussianBlur stdDeviation="0.5" result="s"/><feComposite in="g" in2="s" operator="arithmetic" k1="0" k2="1" k3="1" k4="0"/></filter>
<filter id="n45" x="0" y="0" width="100%" height="100%" color-interpolation-filters="sRGB"><feTurbulence type="fractalNoise" baseFrequency="0.5" numOctaves="1" seed="158"/><feColorMatrix values="1 0 0 0 0 1 0 0 0 0 1 0 0 0 0 0 0 0 0 1" result="f"/><feTurbulence type="fractalNoise" baseFrequency="0.03" numOctaves="2" seed="208"/><feColorMatrix values="1 0 0 0 0 1 0 0 0 0 1 0 0 0 0 0 0 0 0 1" result="b"/><feComposite in="f" in2="b" operator="arithmetic" k1="0" k2="0.70" k3="0.30" k4="0"/><feColorMatrix values="0.225 0 0 0 -0.026 0.158 0 0 0 -0.012 0.045 0 0 0 -0.007 0 0 0 0 1" result="g"/><feTurbulence type="fractalNoise" baseFrequency="0.16" numOctaves="2" seed="165"/><feColorMatrix values="1 0 0 0 0 1 0 0 0 0 1 0 0 0 0 0 0 0 0 1" result="h"/><feComposite in="h" in2="b" operator="arithmetic" k1="0" k2="7.000" k3="3.000" k4="-6.600"/><feColorMatrix values="0.35 0 0 0 0 0.85 0 0 0 0 0.00 0 0 0 0 0 0 0 0 1"/><feGaussianBlur stdDeviation="0.5" result="s"/><feComposite in="g" in2="s" operator="arithmetic" k1="0" k2="1" k3="1" k4="0"/></filter>
<filter id="fb" x="0" y="0" width="100%" height="100%"><feGaussianBlur stdDeviation="1.1"/></filter>
<filter id="fb2" x="-30%" y="-30%" width="160%" height="160%"><feGaussianBlur stdDeviation="1.3"/></filter>
<filter id="n46" x="0" y="0" width="100%" height="100%" color-interpolation-filters="sRGB"><feTurbulence type="fractalNoise" baseFrequency="0.6" numOctaves="1" seed="200"/><feColorMatrix values="1 0 0 0 0 1 0 0 0 0 1 0 0 0 0 0 0 0 0 1" result="f"/><feTurbulence type="fractalNoise" baseFrequency="0.06" numOctaves="3" seed="250"/><feColorMatrix values="1 0 0 0 0 1 0 0 0 0 1 0 0 0 0 0 0 0 0 1" result="b"/><feComposite in="f" in2="b" operator="arithmetic" k1="0" k2="0.50" k3="0.50" k4="0"/><feColorMatrix values="0.350 0 0 0 0.637 0.385 0 0 0 0.262 0.297 0 0 0 0.589 0 0 0 0 1" result="g"/></filter>
<filter id="n47" x="0" y="0" width="100%" height="100%" color-interpolation-filters="sRGB"><feTurbulence type="fractalNoise" baseFrequency="0.6" numOctaves="1" seed="201"/><feColorMatrix values="1 0 0 0 0 1 0 0 0 0 1 0 0 0 0 0 0 0 0 1" result="f"/><feTurbulence type="fractalNoise" baseFrequency="0.06" numOctaves="3" seed="251"/><feColorMatrix values="1 0 0 0 0 1 0 0 0 0 1 0 0 0 0 0 0 0 0 1" result="b"/><feComposite in="f" in2="b" operator="arithmetic" k1="0" k2="0.50" k3="0.50" k4="0"/><feColorMatrix values="0.300 0 0 0 0.670 0.330 0 0 0 0.282 0.255 0 0 0 0.610 0 0 0 0 1" result="g"/></filter>
<filter id="n48" x="0" y="0" width="100%" height="100%" color-interpolation-filters="sRGB"><feTurbulence type="fractalNoise" baseFrequency="0.6" numOctaves="1" seed="202"/><feColorMatrix values="1 0 0 0 0 1 0 0 0 0 1 0 0 0 0 0 0 0 0 1" result="f"/><feTurbulence type="fractalNoise" baseFrequency="0.06" numOctaves="3" seed="252"/><feColorMatrix values="1 0 0 0 0 1 0 0 0 0 1 0 0 0 0 0 0 0 0 1" result="b"/><feComposite in="f" in2="b" operator="arithmetic" k1="0" k2="0.50" k3="0.50" k4="0"/><feColorMatrix values="0.250 0 0 0 0.726 0.275 0 0 0 0.380 0.212 0 0 0 0.584 0 0 0 0 1" result="g"/></filter>
</defs>
<rect width="2009" height="2232" fill="#fff"/>
<g id="pa">
<text x="-2.2" y="22.3" font-size="43.3" font-weight="bold">a</text>
<line x1="110.4" y1="179.3" x2="204.7" y2="179.3" stroke="#000" stroke-width="3.2"/>
<line x1="244.3" y1="179.3" x2="338.9" y2="179.3" stroke="#000" stroke-width="3.2"/>
<line x1="378.5" y1="179.3" x2="473.1" y2="179.3" stroke="#000" stroke-width="3.2"/>
<line x1="512.6" y1="179.3" x2="606.9" y2="179.3" stroke="#000" stroke-width="3.2"/>
<text x="0" y="0" font-size="24" transform="translate(151.3 163.3) rotate(-45)"><tspan font-style="italic">HyD-LIR-Venus</tspan><tspan font-style="italic" font-size="14.4" dy="-11.3">f/f</tspan></text>
<text x="0" y="0" font-size="24" transform="translate(265.3 164.3) rotate(-45)"><tspan font-style="italic">HyD-LIR-Venus</tspan><tspan font-style="italic" font-size="14.4" dy="-11.3">f/f</tspan></text>
<text x="0" y="0" font-size="24" transform="translate(311 165.3) rotate(-45)"><tspan>;Alb-</tspan><tspan font-style="italic">Cre</tspan></text>
<text x="0" y="0" font-size="24" transform="translate(411.7 163.1) rotate(-45)"><tspan font-style="italic">Atg7</tspan><tspan font-style="italic" font-size="14.4" dy="-11.3">f/f</tspan></text>
<text x="0" y="0" font-size="24" transform="translate(548 163.1) rotate(-45)"><tspan font-style="italic">Atg7</tspan><tspan font-style="italic" font-size="14.4" dy="-11.3">f/f</tspan><tspan dy="11.3">;Alb-</tspan><tspan font-style="italic">Cre</tspan></text>
<clipPath id="cb0"><rect x="103.2" y="193.3" width="529.2" height="70.3"/></clipPath>
<rect x="103.2" y="193.3" width="529.2" height="70.3" fill="#f8f8f8"/>
<g clip-path="url(#cb0)">
<rect x="245" y="222.1" width="30" height="4.5" rx="2.2" fill="#555" opacity="0.5" filter="url(#b1)"/>
<rect x="278" y="222.1" width="31" height="4.5" rx="2.2" fill="#555" opacity="0.5" filter="url(#b1)"/>
<rect x="311" y="222.1" width="30" height="4.5" rx="2.2" fill="#555" opacity="0.5" filter="url(#b1)"/>
<rect x="245" y="233" width="30" height="10" rx="5" fill="#888" opacity="0.08" filter="url(#b2)"/>
<rect x="278" y="233" width="31" height="10" rx="5" fill="#888" opacity="0.08" filter="url(#b2)"/>
<rect x="311" y="233" width="30" height="10" rx="5" fill="#888" opacity="0.08" filter="url(#b2)"/>
<rect x="385" y="227.2" width="28" height="3.5" rx="1.8" fill="#777" opacity="0.1" filter="url(#b1)"/>
<rect x="418" y="227.2" width="29" height="3.5" rx="1.8" fill="#777" opacity="0.1" filter="url(#b1)"/>
<rect x="450" y="227.2" width="29" height="3.5" rx="1.8" fill="#777" opacity="0.1" filter="url(#b1)"/>
<rect x="508" y="222" width="108" height="32" fill="#555" opacity="0.12" filter="url(#b3)"/>
<rect x="505" y="221.9" width="36" height="6.5" rx="3.2" fill="#1a1a1a" opacity="0.88" filter="url(#b1)"/>
<rect x="540" y="221.9" width="37" height="6.5" rx="3.2" fill="#1a1a1a" opacity="0.88" filter="url(#b1)"/>
<rect x="575" y="221.9" width="36" height="6.5" rx="3.2" fill="#1a1a1a" opacity="0.88" filter="url(#b1)"/>
<rect x="505" y="219" width="36" height="5" rx="2.5" fill="#444" opacity="0.4" filter="url(#b2)"/>
<rect x="540" y="219" width="37" height="5" rx="2.5" fill="#444" opacity="0.4" filter="url(#b2)"/>
<rect x="575" y="219" width="36" height="5" rx="2.5" fill="#444" opacity="0.4" filter="url(#b2)"/>
</g>
<rect x="104.8" y="194.9" width="526" height="67.1" fill="none" stroke="#000" stroke-width="3.2"/>
<clipPath id="cb1"><rect x="103.2" y="269.7" width="529.2" height="70.2"/></clipPath>
<rect x="103.2" y="269.7" width="529.2" height="70.2" fill="#f9f9f9"/>
<g clip-path="url(#cb1)">
<rect x="260" y="280" width="92" height="50" fill="#555" opacity="0.1" filter="url(#b3)"/>
<rect x="257" y="301.4" width="30" height="6.5" rx="3.2" fill="#2a2a2a" opacity="0.75" filter="url(#b1)"/>
<rect x="290" y="301.4" width="31" height="6.5" rx="3.2" fill="#2a2a2a" opacity="0.75" filter="url(#b1)"/>
<rect x="323" y="301.4" width="30" height="6.5" rx="3.2" fill="#2a2a2a" opacity="0.75" filter="url(#b1)"/>
<rect x="257" y="293" width="30" height="8" rx="4" fill="#777" opacity="0.3" filter="url(#b2)"/>
<rect x="290" y="293" width="31" height="8" rx="4" fill="#777" opacity="0.3" filter="url(#b2)"/>
<rect x="323" y="293" width="30" height="8" rx="4" fill="#777" opacity="0.3" filter="url(#b2)"/>
<rect x="385" y="304.8" width="28" height="3.5" rx="1.8" fill="#777" opacity="0.1" filter="url(#b1)"/>
<rect x="418" y="304.8" width="29" height="3.5" rx="1.8" fill="#777" opacity="0.1" filter="url(#b1)"/>
<rect x="450" y="304.8" width="29" height="3.5" rx="1.8" fill="#777" opacity="0.1" filter="url(#b1)"/>
<rect x="385" y="275.4" width="28" height="2.2" rx="1.1" fill="#555" opacity="0.3" filter="url(#b1)"/>
<rect x="418" y="275.4" width="29" height="2.2" rx="1.1" fill="#555" opacity="0.3" filter="url(#b1)"/>
<rect x="450" y="275.4" width="29" height="2.2" rx="1.1" fill="#555" opacity="0.3" filter="url(#b1)"/>
<rect x="257" y="273.9" width="30" height="2.2" rx="1.1" fill="#555" opacity="0.1" filter="url(#b1)"/>
<rect x="290" y="273.9" width="31" height="2.2" rx="1.1" fill="#555" opacity="0.1" filter="url(#b1)"/>
<rect x="323" y="273.9" width="30" height="2.2" rx="1.1" fill="#555" opacity="0.1" filter="url(#b1)"/>
<rect x="518" y="280" width="98" height="56" fill="#555" opacity="0.22" filter="url(#b3)"/>
<rect x="513" y="276.2" width="36" height="2.5" rx="1.2" fill="#333" opacity="0.35" filter="url(#b1)"/>
<rect x="548" y="276.2" width="37" height="2.5" rx="1.2" fill="#333" opacity="0.35" filter="url(#b1)"/>
<rect x="583" y="276.2" width="36" height="2.5" rx="1.2" fill="#333" opacity="0.35" filter="url(#b1)"/>
<rect x="513" y="293" width="36" height="7" rx="3.5" fill="#333" opacity="0.6" filter="url(#b2)"/>
<rect x="548" y="293" width="37" height="7" rx="3.5" fill="#333" opacity="0.6" filter="url(#b2)"/>
<rect x="583" y="293" width="36" height="7" rx="3.5" fill="#333" opacity="0.6" filter="url(#b2)"/>
<rect x="513" y="301" width="36" height="8" rx="4" fill="#1a1a1a" opacity="0.85" filter="url(#b1)"/>
<rect x="548" y="301" width="37" height="8" rx="4" fill="#1a1a1a" opacity="0.85" filter="url(#b1)"/>
<rect x="583" y="301" width="36" height="8" rx="4" fill="#1a1a1a" opacity="0.85" filter="url(#b1)"/>
</g>
<rect x="104.8" y="271.3" width="526" height="67" fill="none" stroke="#000" stroke-width="3.2"/>
<clipPath id="cb2"><rect x="103.2" y="347.9" width="529.2" height="70.7"/></clipPath>
<rect x="103.2" y="347.9" width="529.2" height="70.7" fill="#e9e9e9"/>
<g clip-path="url(#cb2)">
<rect x="122" y="375" width="28" height="7" rx="3.5" fill="#666" opacity="0.3" filter="url(#b2)"/>
<rect x="156" y="375" width="30" height="7" rx="3.5" fill="#666" opacity="0.3" filter="url(#b2)"/>
<rect x="190" y="375" width="29" height="7" rx="3.5" fill="#666" opacity="0.3" filter="url(#b2)"/>
<rect x="262" y="368" width="88" height="30" fill="#777" opacity="0.25" filter="url(#b3)"/>
<rect x="257" y="378" width="30" height="10" rx="5" fill="#444" opacity="0.35" filter="url(#b2)"/>
<rect x="290" y="378" width="31" height="10" rx="5" fill="#444" opacity="0.35" filter="url(#b2)"/>
<rect x="323" y="378" width="30" height="10" rx="5" fill="#444" opacity="0.35" filter="url(#b2)"/>
<rect x="385" y="390" width="28" height="5" rx="2.5" fill="#555" opacity="0.35" filter="url(#b2)"/>
<rect x="418" y="390" width="29" height="5" rx="2.5" fill="#555" opacity="0.35" filter="url(#b2)"/>
<rect x="450" y="390" width="29" height="5" rx="2.5" fill="#555" opacity="0.35" filter="url(#b2)"/>
<rect x="514" y="366" width="104" height="36" fill="#555" opacity="0.3" filter="url(#b3)"/>
<rect x="513" y="373" width="36" height="12" rx="6" fill="#222" opacity="0.7" filter="url(#b2)"/>
<rect x="548" y="373" width="37" height="12" rx="6" fill="#222" opacity="0.7" filter="url(#b2)"/>
<rect x="583" y="373" width="36" height="12" rx="6" fill="#222" opacity="0.7" filter="url(#b2)"/>
<rect x="513" y="384" width="36" height="7" rx="3.5" fill="#000" opacity="0.85" filter="url(#b1)"/>
<rect x="548" y="384" width="37" height="7" rx="3.5" fill="#000" opacity="0.85" filter="url(#b1)"/>
<rect x="583" y="384" width="36" height="7" rx="3.5" fill="#000" opacity="0.85" filter="url(#b1)"/>
</g>
<rect x="104.8" y="349.5" width="526" height="67.5" fill="none" stroke="#000" stroke-width="3.2"/>
<clipPath id="cb3"><rect x="103.2" y="424.6" width="529.2" height="70.6"/></clipPath>
<rect x="103.2" y="424.6" width="529.2" height="70.6" fill="#f5f5f5"/>
<g clip-path="url(#cb3)">
<rect x="122" y="450.2" width="28" height="4.5" rx="2.2" fill="#555" opacity="0.33" filter="url(#b1)"/>
<rect x="156" y="453.4" width="30" height="4.5" rx="2.2" fill="#555" opacity="0.33" filter="url(#b1)"/>
<rect x="190" y="456.6" width="29" height="4.5" rx="2.2" fill="#555" opacity="0.33" filter="url(#b1)"/>
<rect x="122" y="459.5" width="28" height="5" rx="2.5" fill="#777" opacity="0.22" filter="url(#b2)"/>
<rect x="156" y="462.7" width="30" height="5" rx="2.5" fill="#777" opacity="0.22" filter="url(#b2)"/>
<rect x="190" y="465.9" width="29" height="5" rx="2.5" fill="#777" opacity="0.22" filter="url(#b2)"/>
<rect x="257" y="461" width="30" height="5" rx="2.5" fill="#555" opacity="0.45" filter="url(#b1)"/>
<rect x="290" y="461.8" width="31" height="5" rx="2.5" fill="#555" opacity="0.45" filter="url(#b1)"/>
<rect x="323" y="462.6" width="30" height="5" rx="2.5" fill="#555" opacity="0.45" filter="url(#b1)"/>
<rect x="257" y="468.5" width="30" height="5" rx="2.5" fill="#777" opacity="0.28" filter="url(#b2)"/>
<rect x="290" y="469.3" width="31" height="5" rx="2.5" fill="#777" opacity="0.28" filter="url(#b2)"/>
<rect x="323" y="470.1" width="30" height="5" rx="2.5" fill="#777" opacity="0.28" filter="url(#b2)"/>
<rect x="385" y="463.8" width="28" height="5.5" rx="2.8" fill="#333" opacity="0.55" filter="url(#b1)"/>
<rect x="418" y="462.8" width="29" height="5.5" rx="2.8" fill="#333" opacity="0.55" filter="url(#b1)"/>
<rect x="450" y="461.8" width="29" height="5.5" rx="2.8" fill="#333" opacity="0.55" filter="url(#b1)"/>
<rect x="385" y="472" width="28" height="5" rx="2.5" fill="#555" opacity="0.35" filter="url(#b2)"/>
<rect x="418" y="471" width="29" height="5" rx="2.5" fill="#555" opacity="0.35" filter="url(#b2)"/>
<rect x="450" y="470" width="29" height="5" rx="2.5" fill="#555" opacity="0.35" filter="url(#b2)"/>
<rect x="512" y="448" width="108" height="36" fill="#555" opacity="0.22" filter="url(#b3)"/>
<rect x="511" y="455" width="36" height="9" rx="4.5" fill="#000" opacity="1" filter="url(#b1)"/>
<rect x="546" y="452" width="37" height="9" rx="4.5" fill="#000" opacity="1" filter="url(#b1)"/>
<rect x="581" y="449" width="36" height="9" rx="4.5" fill="#000" opacity="1" filter="url(#b1)"/>
<rect x="511" y="466" width="36" height="6" rx="3" fill="#222" opacity="0.55" filter="url(#b2)"/>
<rect x="546" y="463" width="37" height="6" rx="3" fill="#222" opacity="0.55" filter="url(#b2)"/>
<rect x="581" y="460" width="36" height="6" rx="3" fill="#222" opacity="0.55" filter="url(#b2)"/>
</g>
<rect x="104.8" y="426.2" width="526" height="67.4" fill="none" stroke="#000" stroke-width="3.2"/>
<text x="91.8" y="245.3" font-size="23.6" text-anchor="end">p62</text>
<text x="91.8" y="303.2" font-size="23.6" text-anchor="end">p-p62</text>
<text x="91.8" y="336.5" font-size="23.6" text-anchor="end">(S351)</text>
<text x="90.5" y="396.8" font-size="23.6" text-anchor="end">NBR1</text>
<text x="90.5" y="472.7" font-size="23.6" text-anchor="end">Keap1</text>
<text x="643" y="258" font-size="23.6">64</text>
<text x="643" y="331.7" font-size="23.6">64</text>
<text x="643" y="364.7" font-size="23.6">148</text>
<text x="643" y="466.8" font-size="23.6">64</text>
<text x="643" y="516.5" font-size="23.6">(kDa)</text>
<rect x="103.5" y="781.7" width="10.6" height="14.8" fill="#fff" stroke="#000" stroke-width="1.6"/>
<circle cx="106.3" cy="780.8" r="2.7" fill="#fff" stroke="#000" stroke-width="0.9"/>
<circle cx="111.3" cy="781.7" r="2.7" fill="#fff" stroke="#000" stroke-width="0.9"/>
<circle cx="108.8" cy="780" r="2.7" fill="#fff" stroke="#000" stroke-width="0.9"/>
<rect x="125.7" y="754.5" width="10.6" height="42" fill="#d4d4d4" stroke="#000" stroke-width="1.6"/>
<circle cx="131" cy="751.2" r="2.7" fill="#fff" stroke="#000" stroke-width="0.9"/>
<circle cx="129.5" cy="753.6" r="2.7" fill="#fff" stroke="#000" stroke-width="0.9"/>
<circle cx="132.5" cy="755.3" r="2.7" fill="#fff" stroke="#000" stroke-width="0.9"/>
<rect x="148.3" y="781.7" width="10.6" height="14.8" fill="#7a7a7a" stroke="#000" stroke-width="1.6"/>
<circle cx="151.6" cy="781.7" r="2.7" fill="#fff" stroke="#000" stroke-width="0.9"/>
<circle cx="155.6" cy="780.8" r="2.7" fill="#fff" stroke="#000" stroke-width="0.9"/>
<circle cx="153.6" cy="780" r="2.7" fill="#fff" stroke="#000" stroke-width="0.9"/>
<rect x="171.1" y="632.5" width="10.6" height="164" fill="#000" stroke="#000" stroke-width="1.6"/>
<line x1="176.4" y1="624.2" x2="176.4" y2="632.5" stroke="#000" stroke-width="1.6"/>
<line x1="173.4" y1="624.2" x2="179.4" y2="624.2" stroke="#000" stroke-width="1.6"/>
<circle cx="176.4" cy="616.8" r="2.7" fill="#fff" stroke="#000" stroke-width="0.9"/>
<circle cx="176.4" cy="633.3" r="2.7" fill="#fff" stroke="#000" stroke-width="0.9"/>
<circle cx="176.4" cy="648.2" r="2.7" fill="#fff" stroke="#000" stroke-width="0.9"/>
<line x1="96.9" y1="597.7" x2="96.9" y2="797.5" stroke="#000" stroke-width="1.8"/>
<line x1="92.9" y1="796.5" x2="187.9" y2="796.5" stroke="#000" stroke-width="1.8"/>
<line x1="92.9" y1="796.5" x2="96.9" y2="796.5" stroke="#000" stroke-width="1.8"/>
<text x="78.3" y="805" font-size="23.6" text-anchor="end">0</text>
<line x1="92.9" y1="763.5" x2="96.9" y2="763.5" stroke="#000" stroke-width="1.8"/>
<text x="78.3" y="772" font-size="23.6" text-anchor="end">2</text>
<line x1="92.9" y1="730.6" x2="96.9" y2="730.6" stroke="#000" stroke-width="1.8"/>
<text x="78.3" y="739.1" font-size="23.6" text-anchor="end">4</text>
<line x1="92.9" y1="697.6" x2="96.9" y2="697.6" stroke="#000" stroke-width="1.8"/>
<text x="78.3" y="706.1" font-size="23.6" text-anchor="end">6</text>
<line x1="92.9" y1="664.6" x2="96.9" y2="664.6" stroke="#000" stroke-width="1.8"/>
<text x="78.3" y="673.1" font-size="23.6" text-anchor="end">8</text>
<line x1="92.9" y1="631.7" x2="96.9" y2="631.7" stroke="#000" stroke-width="1.8"/>
<text x="78.3" y="640.2" font-size="23.6" text-anchor="end">10</text>
<line x1="92.9" y1="598.7" x2="96.9" y2="598.7" stroke="#000" stroke-width="1.8"/>
<text x="78.3" y="607.2" font-size="23.6" text-anchor="end">12</text>
<line x1="96.9" y1="796.5" x2="96.9" y2="801.5" stroke="#000" stroke-width="1.8"/>
<line x1="119.9" y1="796.5" x2="119.9" y2="801.5" stroke="#000" stroke-width="1.8"/>
<line x1="142.4" y1="796.5" x2="142.4" y2="801.5" stroke="#000" stroke-width="1.8"/>
<line x1="165.4" y1="796.5" x2="165.4" y2="801.5" stroke="#000" stroke-width="1.8"/>
<line x1="187.9" y1="796.5" x2="187.9" y2="801.5" stroke="#000" stroke-width="1.8"/>
<path d="M108.4 752.2V601.4H130.9V715.8" fill="none" stroke="#000" stroke-width="1.5"/>
<path d="M153.9 765.6V601.4H177.2V611.3" fill="none" stroke="#000" stroke-width="1.5"/>
<text x="117.9" y="577" font-size="13.6" text-anchor="middle">0.0007</text>
<text x="125" y="601" font-size="24.5" text-anchor="middle" fill="#231815" letter-spacing="1.8">***</text>
<text x="167.5" y="577" font-size="13.6" text-anchor="middle">0.0036</text>
<text x="168.5" y="601" font-size="24.5" text-anchor="middle" fill="#231815" letter-spacing="1.8">**</text>
<text x="141.6" y="539.3" font-size="23.6" text-anchor="middle" fill="#231815">p62</text>
<rect x="259.9" y="778.7" width="10.6" height="17.8" fill="#fff" stroke="#000" stroke-width="1.6"/>
<circle cx="263.2" cy="777.7" r="2.7" fill="#fff" stroke="#000" stroke-width="0.9"/>
<circle cx="267.2" cy="779.7" r="2.7" fill="#fff" stroke="#000" stroke-width="0.9"/>
<circle cx="265.2" cy="776.7" r="2.7" fill="#fff" stroke="#000" stroke-width="0.9"/>
<rect x="282.9" y="711.4" width="10.6" height="85.1" fill="#d4d4d4" stroke="#000" stroke-width="1.6"/>
<circle cx="288.2" cy="707.5" r="2.7" fill="#fff" stroke="#000" stroke-width="0.9"/>
<circle cx="288.2" cy="711.4" r="2.7" fill="#fff" stroke="#000" stroke-width="0.9"/>
<circle cx="288.2" cy="717.4" r="2.7" fill="#fff" stroke="#000" stroke-width="0.9"/>
<circle cx="288.2" cy="714.4" r="2.7" fill="#fff" stroke="#000" stroke-width="0.9"/>
<rect x="305.9" y="780.7" width="10.6" height="15.8" fill="#7a7a7a" stroke="#000" stroke-width="1.6"/>
<circle cx="309.2" cy="780.7" r="2.7" fill="#fff" stroke="#000" stroke-width="0.9"/>
<circle cx="313.2" cy="781.7" r="2.7" fill="#fff" stroke="#000" stroke-width="0.9"/>
<circle cx="311.2" cy="782.7" r="2.7" fill="#fff" stroke="#000" stroke-width="0.9"/>
<rect x="327.8" y="616.5" width="10.6" height="180" fill="#000" stroke="#000" stroke-width="1.6"/>
<line x1="333.1" y1="610.6" x2="333.1" y2="616.5" stroke="#000" stroke-width="1.6"/>
<line x1="330.1" y1="610.6" x2="336.1" y2="610.6" stroke="#000" stroke-width="1.6"/>
<circle cx="333.1" cy="604.6" r="2.7" fill="#fff" stroke="#000" stroke-width="0.9"/>
<circle cx="331.1" cy="619.5" r="2.7" fill="#fff" stroke="#000" stroke-width="0.9"/>
<circle cx="335.1" cy="622.4" r="2.7" fill="#fff" stroke="#000" stroke-width="0.9"/>
<line x1="253.6" y1="597.7" x2="253.6" y2="797.5" stroke="#000" stroke-width="1.8"/>
<line x1="249.6" y1="796.5" x2="344.2" y2="796.5" stroke="#000" stroke-width="1.8"/>
<line x1="249.6" y1="796.5" x2="253.6" y2="796.5" stroke="#000" stroke-width="1.8"/>
<text x="236.2" y="805" font-size="23.6" text-anchor="end">0</text>
<line x1="249.6" y1="756.9" x2="253.6" y2="756.9" stroke="#000" stroke-width="1.8"/>
<text x="236.2" y="765.4" font-size="23.6" text-anchor="end">2</text>
<line x1="249.6" y1="717.4" x2="253.6" y2="717.4" stroke="#000" stroke-width="1.8"/>
<text x="236.2" y="725.9" font-size="23.6" text-anchor="end">4</text>
<line x1="249.6" y1="677.8" x2="253.6" y2="677.8" stroke="#000" stroke-width="1.8"/>
<text x="236.2" y="686.3" font-size="23.6" text-anchor="end">6</text>
<line x1="249.6" y1="638.3" x2="253.6" y2="638.3" stroke="#000" stroke-width="1.8"/>
<text x="236.2" y="646.8" font-size="23.6" text-anchor="end">8</text>
<line x1="249.6" y1="598.7" x2="253.6" y2="598.7" stroke="#000" stroke-width="1.8"/>
<text x="236.2" y="607.2" font-size="23.6" text-anchor="end">10</text>
<line x1="253.6" y1="796.5" x2="253.6" y2="801.5" stroke="#000" stroke-width="1.8"/>
<line x1="276.5" y1="796.5" x2="276.5" y2="801.5" stroke="#000" stroke-width="1.8"/>
<line x1="299.5" y1="796.5" x2="299.5" y2="801.5" stroke="#000" stroke-width="1.8"/>
<line x1="321.6" y1="796.5" x2="321.6" y2="801.5" stroke="#000" stroke-width="1.8"/>
<line x1="344.2" y1="796.5" x2="344.2" y2="801.5" stroke="#000" stroke-width="1.8"/>
<path d="M266.2 737.1V599.9H288.4V673.1" fill="none" stroke="#000" stroke-width="1.5"/>
<path d="M310.9 737.1V599.9H333.1V605.8" fill="none" stroke="#000" stroke-width="1.5"/>
<text x="272.6" y="577" font-size="13.6" text-anchor="middle">0.0011</text>
<text x="279.9" y="601" font-size="24.5" text-anchor="middle" fill="#231815" letter-spacing="1.8">**</text>
<text x="324.8" y="577" font-size="13.6" text-anchor="middle">0.0012</text>
<text x="325.8" y="601" font-size="24.5" text-anchor="middle" fill="#231815" letter-spacing="1.8">**</text>
<text x="298.7" y="527.5" font-size="23.6" text-anchor="middle" fill="#231815">p-p62</text>
<text x="298.7" y="551.5" font-size="23.6" text-anchor="middle" fill="#231815">(p-S351)</text>
<rect x="408.9" y="747" width="10.6" height="49.4" fill="#fff" stroke="#000" stroke-width="1.6"/>
<circle cx="412.2" cy="747" r="2.7" fill="#fff" stroke="#000" stroke-width="0.9"/>
<circle cx="416.2" cy="747" r="2.7" fill="#fff" stroke="#000" stroke-width="0.9"/>
<circle cx="414.2" cy="750.5" r="2.7" fill="#fff" stroke="#000" stroke-width="0.9"/>
<rect x="432.4" y="722.3" width="10.6" height="74.2" fill="#d4d4d4" stroke="#000" stroke-width="1.6"/>
<circle cx="437.7" cy="719.9" r="2.7" fill="#fff" stroke="#000" stroke-width="0.9"/>
<circle cx="436.7" cy="722.3" r="2.7" fill="#fff" stroke="#000" stroke-width="0.9"/>
<circle cx="438.7" cy="723.8" r="2.7" fill="#fff" stroke="#000" stroke-width="0.9"/>
<rect x="456.3" y="746.1" width="10.6" height="50.4" fill="#7a7a7a" stroke="#000" stroke-width="1.6"/>
<circle cx="461.6" cy="744.6" r="2.7" fill="#fff" stroke="#000" stroke-width="0.9"/>
<circle cx="459.6" cy="748" r="2.7" fill="#fff" stroke="#000" stroke-width="0.9"/>
<circle cx="463.6" cy="747" r="2.7" fill="#fff" stroke="#000" stroke-width="0.9"/>
<rect x="481.1" y="650.6" width="10.6" height="145.9" fill="#000" stroke="#000" stroke-width="1.6"/>
<line x1="486.4" y1="639.7" x2="486.4" y2="650.6" stroke="#000" stroke-width="1.6"/>
<line x1="483.4" y1="639.7" x2="489.4" y2="639.7" stroke="#000" stroke-width="1.6"/>
<circle cx="486.4" cy="639.7" r="2.7" fill="#fff" stroke="#000" stroke-width="0.9"/>
<circle cx="486.4" cy="674.4" r="2.7" fill="#fff" stroke="#000" stroke-width="0.9"/>
<line x1="401.9" y1="597.7" x2="401.9" y2="797.5" stroke="#000" stroke-width="1.8"/>
<line x1="397.9" y1="796.5" x2="498.1" y2="796.5" stroke="#000" stroke-width="1.8"/>
<line x1="397.9" y1="796.5" x2="401.9" y2="796.5" stroke="#000" stroke-width="1.8"/>
<text x="383.7" y="805" font-size="23.6" text-anchor="end">0</text>
<line x1="397.9" y1="747" x2="401.9" y2="747" stroke="#000" stroke-width="1.8"/>
<text x="383.7" y="755.5" font-size="23.6" text-anchor="end">1</text>
<line x1="397.9" y1="697.6" x2="401.9" y2="697.6" stroke="#000" stroke-width="1.8"/>
<text x="383.7" y="706.1" font-size="23.6" text-anchor="end">2</text>
<line x1="397.9" y1="648.2" x2="401.9" y2="648.2" stroke="#000" stroke-width="1.8"/>
<text x="383.7" y="656.6" font-size="23.6" text-anchor="end">3</text>
<line x1="397.9" y1="598.7" x2="401.9" y2="598.7" stroke="#000" stroke-width="1.8"/>
<text x="383.7" y="607.2" font-size="23.6" text-anchor="end">4</text>
<line x1="401.9" y1="796.5" x2="401.9" y2="801.5" stroke="#000" stroke-width="1.8"/>
<line x1="426.1" y1="796.5" x2="426.1" y2="801.5" stroke="#000" stroke-width="1.8"/>
<line x1="449.8" y1="796.5" x2="449.8" y2="801.5" stroke="#000" stroke-width="1.8"/>
<line x1="474.3" y1="796.5" x2="474.3" y2="801.5" stroke="#000" stroke-width="1.8"/>
<line x1="498.1" y1="796.5" x2="498.1" y2="801.5" stroke="#000" stroke-width="1.8"/>
<path d="M415.4 705.9V598.8H437.9V676.6" fill="none" stroke="#000" stroke-width="1.5"/>
<path d="M462.1 705.9V598.8H486.2V622.4" fill="none" stroke="#000" stroke-width="1.5"/>
<text x="424.1" y="577" font-size="13.6" text-anchor="middle">0.0003</text>
<text x="430.5" y="601" font-size="24.5" text-anchor="middle" fill="#231815" letter-spacing="1.8">***</text>
<text x="474.7" y="577" font-size="13.6" text-anchor="middle">0.0139</text>
<text x="476.9" y="601" font-size="24.5" text-anchor="middle" fill="#231815" letter-spacing="1.8">*</text>
<text x="447" y="539.3" font-size="23.6" text-anchor="middle" fill="#231815">NBR1</text>
<rect x="561" y="763.9" width="10.6" height="32.6" fill="#fff" stroke="#000" stroke-width="1.6"/>
<circle cx="564.3" cy="763.9" r="2.7" fill="#fff" stroke="#000" stroke-width="0.9"/>
<circle cx="568.3" cy="764.8" r="2.7" fill="#fff" stroke="#000" stroke-width="0.9"/>
<rect x="583.9" y="753.1" width="10.6" height="43.4" fill="#d4d4d4" stroke="#000" stroke-width="1.6"/>
<circle cx="589.2" cy="750.8" r="2.7" fill="#fff" stroke="#000" stroke-width="0.9"/>
<circle cx="589.2" cy="754.7" r="2.7" fill="#fff" stroke="#000" stroke-width="0.9"/>
<rect x="606.5" y="744.3" width="10.6" height="52.2" fill="#7a7a7a" stroke="#000" stroke-width="1.6"/>
<circle cx="611.8" cy="742.7" r="2.7" fill="#fff" stroke="#000" stroke-width="0.9"/>
<circle cx="610.3" cy="744.3" r="2.7" fill="#fff" stroke="#000" stroke-width="0.9"/>
<circle cx="613.3" cy="747.5" r="2.7" fill="#fff" stroke="#000" stroke-width="0.9"/>
<rect x="629" y="638.2" width="10.6" height="158.3" fill="#000" stroke="#000" stroke-width="1.6"/>
<line x1="634.3" y1="631" x2="634.3" y2="638.2" stroke="#000" stroke-width="1.6"/>
<line x1="631.3" y1="631" x2="637.3" y2="631" stroke="#000" stroke-width="1.6"/>
<circle cx="634.3" cy="625.2" r="2.7" fill="#fff" stroke="#000" stroke-width="0.9"/>
<circle cx="634.3" cy="639.9" r="2.7" fill="#fff" stroke="#000" stroke-width="0.9"/>
<circle cx="634.3" cy="652.9" r="2.7" fill="#fff" stroke="#000" stroke-width="0.9"/>
<line x1="553.8" y1="599.7" x2="553.8" y2="797.5" stroke="#000" stroke-width="1.8"/>
<line x1="549.8" y1="796.5" x2="645.2" y2="796.5" stroke="#000" stroke-width="1.8"/>
<line x1="549.8" y1="796.5" x2="553.8" y2="796.5" stroke="#000" stroke-width="1.8"/>
<text x="537.2" y="805" font-size="23.6" text-anchor="end">0</text>
<line x1="549.8" y1="763.9" x2="553.8" y2="763.9" stroke="#000" stroke-width="1.8"/>
<text x="537.2" y="772.4" font-size="23.6" text-anchor="end">1</text>
<line x1="549.8" y1="731.2" x2="553.8" y2="731.2" stroke="#000" stroke-width="1.8"/>
<text x="537.2" y="739.7" font-size="23.6" text-anchor="end">2</text>
<line x1="549.8" y1="698.6" x2="553.8" y2="698.6" stroke="#000" stroke-width="1.8"/>
<text x="537.2" y="707.1" font-size="23.6" text-anchor="end">3</text>
<line x1="549.8" y1="666" x2="553.8" y2="666" stroke="#000" stroke-width="1.8"/>
<text x="537.2" y="674.5" font-size="23.6" text-anchor="end">4</text>
<line x1="549.8" y1="633.3" x2="553.8" y2="633.3" stroke="#000" stroke-width="1.8"/>
<text x="537.2" y="641.8" font-size="23.6" text-anchor="end">5</text>
<line x1="549.8" y1="600.7" x2="553.8" y2="600.7" stroke="#000" stroke-width="1.8"/>
<text x="537.2" y="609.2" font-size="23.6" text-anchor="end">6</text>
<line x1="553.8" y1="796.5" x2="553.8" y2="801.5" stroke="#000" stroke-width="1.8"/>
<line x1="577.6" y1="796.5" x2="577.6" y2="801.5" stroke="#000" stroke-width="1.8"/>
<line x1="600.5" y1="796.5" x2="600.5" y2="801.5" stroke="#000" stroke-width="1.8"/>
<line x1="623.1" y1="796.5" x2="623.1" y2="801.5" stroke="#000" stroke-width="1.8"/>
<line x1="645.2" y1="796.5" x2="645.2" y2="801.5" stroke="#000" stroke-width="1.8"/>
<path d="M566.5 705.9V598.8H588.7V676.6" fill="none" stroke="#000" stroke-width="1.5"/>
<path d="M612 705.9V598.8H634.5V620.4" fill="none" stroke="#000" stroke-width="1.5"/>
<text x="576" y="577" font-size="13.6" text-anchor="middle">0.0159</text>
<text x="579.8" y="601" font-size="24.5" text-anchor="middle" fill="#231815" letter-spacing="1.8">*</text>
<text x="623.5" y="577" font-size="13.6" text-anchor="middle">0.0042</text>
<text x="626.4" y="601" font-size="24.5" text-anchor="middle" fill="#231815" letter-spacing="1.8">**</text>
<text x="595.8" y="539.3" font-size="23.6" text-anchor="middle" fill="#231815">Keap1</text>
<text x="0" y="0" font-size="23.6" text-anchor="middle" fill="#231815" transform="translate(31.2 694) rotate(-90)">Relative protein level</text>
<rect x="68.3" y="825" width="15" height="14.5" fill="#fff" stroke="#231815" stroke-width="1.2"/>
<text x="98.5" y="839.6" font-size="23.9" font-style="italic">HyD-LIR-Venus</text>
<rect x="298.5" y="825" width="15" height="14.5" fill="#b2b2b2" stroke="#8a8a8a" stroke-width="1.2"/>
<text x="329.1" y="839.6" font-size="23.9"><tspan font-style="italic">HyD-LIR-Venus</tspan><tspan font-style="italic" font-size="14.3" dy="-11.2">f/f</tspan><tspan dy="11.2">;Alb-</tspan><tspan font-style="italic">Cre</tspan></text>
<rect x="68.3" y="854.6" width="15" height="14.5" fill="#666" stroke="#555" stroke-width="1.2"/>
<text x="98.5" y="869.2" font-size="23.9"><tspan font-style="italic">Atg7</tspan><tspan font-style="italic" font-size="14.3" dy="-11.2">f/f</tspan></text>
<rect x="298.5" y="854.6" width="15" height="14.5" fill="#1a1a1a" stroke="#1a1a1a" stroke-width="1.2"/>
<text x="329.1" y="869.2" font-size="23.9"><tspan font-style="italic">Atg7</tspan><tspan font-style="italic" font-size="14.3" dy="-11.2">f/f</tspan><tspan dy="11.2">;Alb-</tspan><tspan font-style="italic">Cre</tspan></text>
</g>
<g id="pc">
<text x="907.3" y="22.4" font-size="43.3" font-weight="bold">c</text>
<path d="M1428.2 729.1h0M1426.2 725.9h0M1427.3 728.7h0M1431.8 731h0M1423 727.9h0M1434.8 731.6h0M1431.5 731.6h0M1435.9 727.4h0M1416.3 725.5h0M1425.5 727.7h0M1437.1 731.1h0M1435.7 728.6h0M1434.4 730.9h0M1435.1 732h0M1424.6 729.2h0M1426.4 728.6h0M1426.3 728.8h0M1432.2 729.1h0M1415.6 725.3h0M1422.3 726.4h0M1433.7 730.1h0M1436 730.2h0M1428.4 726.9h0M1428.2 726.4h0M1418.7 725.6h0M1437.1 732.2h0M1448.2 725.9h0M1447.1 725.5h0M1442.2 731.7h0M1443.7 726.9h0M1440.5 731.6h0M1454.6 725.6h0M1440.2 731.4h0M1438.7 731.5h0M1442 726.7h0M1445.7 728.4h0M1445.5 730.9h0M1443.6 731.3h0M1441.6 731.4h0M1441.1 730.8h0M1455.6 725.5h0M1449.2 730.1h0M1442.4 730.8h0M1451.4 726.3h0M1445.5 731.5h0M1441 730.8h0M1444.8 726.9h0M1439.2 730.2h0M1442.3 731.6h0M1444.9 730.6h0M1444.5 729.7h0M1448.8 725.6h0M1403.7 711.2h0M1431.1 720.8h0M1399.6 703h0M1429.5 719.2h0M1398.2 707.1h0M1410.2 720.5h0M1408 703.6h0M1431.4 714.9h0M1414.8 724.4h0M1415.2 719.5h0M1411.7 719h0M1422.9 710.6h0M1416.2 721h0M1430.1 723.6h0M1404.5 711.6h0M1423.3 710.2h0M1424.2 702.7h0M1429.7 724.9h0M1433.1 714.4h0M1425.1 721h0M1429.5 711.2h0M1407.5 716.4h0M1404.7 701.2h0M1411.3 708.3h0M1435.2 721.9h0M1416.5 724.9h0M1398.2 708.1h0M1421.8 724.8h0M1409.7 713.5h0M1405.7 717.5h0M1422.5 723.5h0M1399.6 707.2h0M1406.4 707.2h0M1398 705.8h0M1413.5 716.7h0M1397.7 703.1h0M1409.2 715.1h0M1409.4 704.1h0M1419.3 709.9h0M1412 711h0M1420.3 723.4h0M1395.9 700.9h0M1418.1 707.4h0M1410.8 707.2h0M1407.3 714.5h0M1417.8 723.3h0M1422.3 724.6h0M1426.2 713.5h0M1414.3 708.1h0M1401.2 710.2h0M1435.9 719h0M1414.6 717.9h0M1430.5 720.3h0M1405.6 703h0M1405.7 714.4h0M1414.5 717.3h0M1423.1 720.4h0M1397.8 705.5h0M1416.7 703.6h0M1422.2 711h0M1422.4 722h0M1399.6 704.7h0M1398.4 707.8h0M1429.9 718.5h0M1424.9 714.2h0M1423.3 720.1h0M1415.3 709.9h0M1410 717.6h0M1412.9 701.1h0M1435.6 723.5h0M1432.5 703.8h0M1411.5 707.9h0M1411.4 717.7h0M1432.9 724.9h0M1434.7 714.1h0M1423.3 704.9h0M1434.8 721.9h0M1417 709.8h0M1409.7 709.8h0M1396.3 705.4h0M1425.9 708.5h0M1428.2 713.6h0M1425.4 725.1h0M1426.6 707.7h0M1424.5 718.6h0M1413.5 708.2h0M1406.6 710.2h0M1409.6 715.6h0M1429.9 703h0M1402.8 702.4h0M1423.6 722.1h0M1401.4 709.9h0M1416.4 716h0M1400.8 703.7h0M1412.8 702.1h0M1425.9 709.3h0M1402.6 707.5h0M1407.4 709.5h0M1410.9 720.1h0M1392.4 701.2h0M1406.8 712.1h0M1408 717.4h0M1418.4 704.2h0M1424.7 723.3h0M1407.3 711.8h0M1440.5 713.3h0M1442.8 705.4h0M1447.1 705.6h0M1463.8 717.1h0M1442.7 721.9h0M1465 712.6h0M1468.6 704.6h0M1461.6 702h0M1444.1 701.9h0M1453.9 719.9h0M1461.1 718.2h0M1459.5 709.6h0M1463.3 704.5h0M1450.8 717.7h0M1477.4 704.5h0M1462.8 720.2h0M1463.2 701.5h0M1447 711.2h0M1457.5 712.1h0M1440.8 710.4h0M1462.8 701.4h0M1465.5 715.5h0M1457.4 711.5h0M1442.5 708.3h0M1454.3 712.1h0M1480.3 701.8h0M1453.1 718.7h0M1450 722.2h0M1476.9 705.2h0M1450.4 713.6h0M1455.9 720.6h0M1445.9 702.5h0M1441 706.1h0M1445.2 720.5h0M1452.3 708.4h0M1458.9 716.6h0M1457.1 722.7h0M1451.9 722.3h0M1444.8 719.2h0M1455.1 712.3h0M1452.6 716.1h0M1445.2 712.3h0M1456.6 720.3h0M1459.7 709.6h0M1465.5 704.4h0M1449.9 704.2h0M1472 707.1h0M1453.7 703.1h0M1467.5 717.6h0M1467.2 720h0M1445.9 703.5h0M1460 719.4h0M1441.9 718.9h0M1457.5 704.8h0M1445.2 705.9h0M1461.8 715.4h0M1443.1 724.9h0M1474.9 708.5h0M1445.5 701.5h0M1466 712.9h0M1463.5 712.9h0M1440.9 720.7h0M1439.7 722.7h0M1458.1 711.7h0M1445 711.3h0M1444.5 720.8h0M1481 704.6h0M1444.5 702.5h0M1461.2 723.8h0M1465.5 713.9h0M1453.7 717.3h0M1454.7 712.6h0M1440.2 710.5h0M1472.6 708.1h0M1451.3 720.9h0M1456 707.1h0M1443.5 720.5h0M1440.1 712.7h0M1474.1 703.3h0M1473.3 708h0M1454.9 709.8h0M1458.3 710.6h0M1475.5 701.1h0M1465.8 719h0M1470.8 707h0M1456.7 705.3h0M1477.4 703.2h0M1469.6 708.2h0M1456.2 706.5h0M1442.7 707.5h0M1453.9 716.9h0M1446.4 725.1h0M1463.3 709.6h0M1466 719.6h0M1452.7 708.9h0M1400.9 684.4h0M1410.9 687.6h0M1394.2 676.1h0M1391.2 683.4h0M1430.6 676.6h0M1393.3 685.5h0M1412.6 694.4h0M1423.8 699.5h0M1427.4 691.4h0M1390.8 694.5h0M1404.9 687.1h0M1398 676.9h0M1394.4 676.2h0M1427.2 680.8h0M1392.5 686h0M1393.1 699.6h0M1410.3 696.8h0M1409.2 696.5h0M1429.1 685.6h0M1406.1 677.4h0M1400.8 687.7h0M1417.3 691.7h0M1401.3 684.6h0M1398.3 693.7h0M1433.2 693.4h0M1431.3 694.7h0M1398.4 696.8h0M1389.1 691.1h0M1429.2 682.3h0M1379.1 676.3h0M1393.6 698.9h0M1407.5 690.1h0M1415.9 676.7h0M1385.5 687.8h0M1405.3 682.9h0M1385.4 676.6h0M1425.5 685.8h0M1406.8 685.3h0M1430.8 695.7h0M1425.2 687.7h0M1398.5 689.8h0M1418 689.5h0M1409 686.4h0M1401.7 681.5h0M1378.7 676.1h0M1417.6 682.6h0M1393.5 697.9h0M1396.9 681.4h0M1418.1 691.8h0M1400.8 683.8h0M1398.5 686.1h0M1420.3 682.1h0M1387.9 694.6h0M1383 678.1h0M1430.9 699.7h0M1411.4 694h0M1426.2 685.3h0M1428.4 687.4h0M1402.5 698.6h0M1399 687.1h0M1408 691.5h0M1415.7 695.5h0M1387 682.3h0M1427.5 698.9h0M1396.7 680.8h0M1418.8 681.8h0M1418.4 690.2h0M1409.9 680.7h0M1381.3 684.6h0M1405.2 692.7h0M1383.2 682.3h0M1412.7 690.2h0M1394.4 698.3h0M1429.5 698.8h0M1405.9 686.8h0M1414.5 683.8h0M1427.3 681.6h0M1401.5 695.4h0M1418.5 698.7h0M1394.1 682.8h0M1425.3 693.7h0M1397 691.9h0M1426.3 691.7h0M1400.4 683.2h0M1380 678.1h0M1405.4 678.2h0M1413.4 680.9h0M1412.2 692.9h0M1382 677.7h0M1414.5 694.6h0M1413.5 691.7h0M1412.1 690.9h0M1405.9 695.9h0M1401 681.1h0M1399.5 680.1h0M1397.9 696.3h0M1414.2 679h0M1409.9 700.1h0M1402.1 687.3h0M1393.7 676.9h0M1428 680.9h0M1391.8 687.2h0M1429.5 698.6h0M1384.3 682.5h0M1404.3 698.6h0M1398.9 697.2h0M1417.7 684.7h0M1397.1 695.3h0M1393.2 687.8h0M1414.5 691h0M1392.6 676.8h0M1404 688.5h0M1393.5 682.9h0M1406.8 678.2h0M1394.4 680.3h0M1387.3 679.7h0M1383.5 680.2h0M1394.4 677.1h0M1395.7 687.8h0M1407.1 680.9h0M1424.4 690.3h0M1380 682.4h0M1423.5 691.4h0M1412 695.7h0M1387.6 693.5h0M1418.5 699.2h0M1403.3 697.9h0M1420.8 681.6h0M1411.8 699.2h0M1385.9 686.3h0M1428.3 699.8h0M1421.9 696.1h0M1398.9 694.9h0M1419.2 686h0M1418.8 696.1h0M1398 696.4h0M1405.4 693h0M1404 680.6h0M1391.4 694.3h0M1410.6 678.2h0M1384.3 687.2h0M1420 688.8h0M1392.4 699.5h0M1409.1 681h0M1404.7 687.7h0M1488.5 693.9h0M1454.5 684.5h0M1461.3 700.4h0M1480.5 691.5h0M1474.5 683.1h0M1448.1 696.8h0M1453.8 692.8h0M1471 679.3h0M1494.2 685h0M1466.6 694.1h0M1476.4 697h0M1476.5 700.7h0M1487.7 679.8h0M1452.9 698.7h0M1447.3 683h0M1465.3 688.9h0M1475.7 677.2h0M1459.2 679.6h0M1465 681.3h0M1447.6 678.1h0M1453.8 680.3h0M1468.7 687.3h0M1479.3 696.8h0M1456.2 693h0M1454.4 698.8h0M1477.6 689.2h0M1475 691.8h0M1458.7 698.1h0M1490.2 689.3h0M1478.2 680.3h0M1457.2 700.4h0M1454.8 683.2h0M1465.4 686.8h0M1484.2 700.4h0M1453.6 681h0M1457.1 685.5h0M1467.9 691.4h0M1457.4 693.3h0M1474.4 691h0M1450.6 694.4h0M1459.8 682.7h0M1474.2 677.4h0M1459.9 682.9h0M1447.4 680.3h0M1445.2 697.2h0M1479.6 684h0M1459.6 696.3h0M1475 680.1h0M1451 698.5h0M1446.6 696.8h0M1445 690.7h0M1466.4 678h0M1474.7 688.1h0M1486.7 681.8h0M1457.7 691.2h0M1442.2 690.5h0M1476.1 690.8h0M1487.3 676.5h0M1474.2 684.4h0M1455.2 700.2h0M1473 692.3h0M1457.9 698.1h0M1481.8 688.1h0M1475.9 680.4h0M1476.3 696.8h0M1473.1 678.4h0M1465.8 692h0M1473.6 697.2h0M1471.8 676.4h0M1486.8 683.1h0M1485.1 695.8h0M1452.3 685.2h0M1451.7 698.6h0M1477.9 686.5h0M1486.4 692.6h0M1464 691.8h0M1485.3 697.6h0M1482.3 697.4h0M1470.5 687.3h0M1455.4 686.9h0M1497.9 678.3h0M1475.3 680.6h0M1478.5 697.7h0M1484.3 693.6h0M1468.2 694.8h0M1452.5 680.2h0M1445.6 687.2h0M1448.6 699.9h0M1495.7 676.4h0M1458.2 684.5h0M1481.1 684.2h0M1470.5 691.3h0M1443.2 680.9h0M1462.9 695.8h0M1458.6 697.2h0M1450.8 686.7h0M1455.1 687.9h0M1458.9 686.7h0M1443.9 684.9h0M1449.7 684.2h0M1476.5 677.1h0M1462.3 689.1h0M1478 685.3h0M1482.8 682h0M1492 688.7h0M1489.4 680h0M1463 690.6h0M1488.6 686.8h0M1468.6 687.7h0M1486.7 690h0M1426.7 660.3h0M1381 640.3h0M1395.2 640h0M1410.1 639h0M1424.5 646.8h0M1404.1 669.9h0M1405.9 651.3h0M1391.4 673.5h0M1414.4 650.1h0M1406.5 661h0M1426.1 664.4h0M1377.9 631.2h0M1382.6 643.3h0M1385.6 655.3h0M1388.6 665.1h0M1380.9 648.1h0M1386.5 671.2h0M1399.4 670h0M1428.2 629.2h0M1411.9 664h0M1426.2 660.1h0M1384.8 632h0M1408.3 656.5h0M1426.2 647.2h0M1381.4 674.5h0M1401 660.9h0M1377.5 630h0M1416.5 652.8h0M1380.1 661.5h0M1415.6 631.9h0M1407.2 634.8h0M1418.5 652.8h0M1376.7 632.7h0M1394.4 666.1h0M1382.2 666.6h0M1424.3 673.6h0M1409.7 640.3h0M1382.3 631.7h0M1419.8 640.9h0M1379.3 641.8h0M1424.5 654.1h0M1411.5 665.1h0M1416.2 641.1h0M1415.8 667.1h0M1386.1 643.3h0M1392.6 657.7h0M1395.3 632.5h0M1411.9 664.8h0M1391.6 630.4h0M1393.9 662.4h0M1377.3 671.6h0M1399.2 654.4h0M1426.5 649.9h0M1411.6 646.5h0M1385.9 663.7h0M1413.2 671.8h0M1413.3 638.8h0M1398.5 662.3h0M1381.4 666.9h0M1425.2 627.4h0M1388.2 653.3h0M1379.8 657.1h0M1417.9 651.4h0M1393.2 648.7h0M1392.8 658.3h0M1399.1 637.5h0M1383.7 651.1h0M1399.1 642.3h0M1416.6 629.2h0M1417.8 637.6h0M1414.4 646.1h0M1387.1 654.4h0M1386 637.3h0M1401.7 664.4h0M1397 665.2h0M1427.4 651.5h0M1389.8 646.7h0M1382.3 647.8h0M1420.8 667.2h0M1401.7 675.2h0M1403.7 654.6h0M1386.1 663.1h0M1380.9 672.5h0M1398.2 648h0M1413.6 637.1h0M1411.5 668.9h0M1411.7 674h0M1399 645.5h0M1396.5 663h0M1385.1 671.7h0M1414.7 667.6h0M1391.5 668.2h0M1386.1 635.1h0M1406.3 673h0M1416.3 658.1h0M1424.7 628.2h0M1387.7 651.9h0M1418.2 627.5h0M1388.5 653.6h0M1415.9 674.1h0M1418.7 632.2h0M1411.5 656.7h0M1424.8 655.1h0M1376.6 674.4h0M1388.7 638.5h0M1414.6 664.7h0M1414.2 648.9h0M1379.6 653.3h0M1409.5 658.1h0M1394.2 627.7h0M1406.7 674.1h0M1425 644h0M1391.1 659.2h0M1395.3 633.5h0M1401.5 632.4h0M1383.8 656.7h0M1386.8 657.3h0M1409.3 665.4h0M1398.6 667h0M1417.7 668h0M1402.8 665.5h0M1403.7 660.9h0M1390.9 627.1h0M1415.2 633.6h0M1425.2 657.2h0M1407.2 642h0M1429.7 662.5h0M1414.2 667.1h0M1380 656.7h0M1412.1 640.8h0M1420.1 658.3h0M1406.6 629.9h0M1389.2 638.3h0M1426.6 631.4h0M1407 660.2h0M1382.1 672h0M1387.4 660h0M1425.9 650.5h0M1414.9 656.6h0M1421.4 674h0M1427.2 646.7h0M1404.9 660.7h0M1420.4 649.3h0M1412.6 641.2h0M1391.9 640.3h0M1417.7 668.8h0M1390.2 662.2h0M1406.7 656.1h0M1414 633.4h0M1409.2 661.7h0M1428.2 665.4h0M1394.7 674.9h0M1385.3 648.2h0M1409.7 628h0M1380.1 643h0M1391.5 665.4h0M1378.5 643.2h0M1413.5 633.3h0M1423 644.9h0M1406.3 655h0M1407.7 673.1h0M1401 659.9h0M1420.1 662.3h0M1402 656.2h0M1392.8 667.8h0M1424.4 664.2h0M1404.9 659.2h0M1397 668.6h0M1397.5 641.5h0M1427.4 641.6h0M1407.9 656.8h0M1406.6 673h0M1401.7 673.4h0M1401.9 647.2h0M1414.3 660h0M1409.9 674.9h0M1396.5 632.1h0M1392.5 663.2h0M1402.8 666.9h0M1378.5 645.7h0M1396.9 658.2h0M1386.7 629.6h0M1394.3 645.2h0M1405.1 655.8h0M1384.6 662.5h0M1405.6 632.7h0M1425.3 631.2h0M1400.9 669.4h0M1408.3 660.9h0M1417.9 627.9h0M1416.2 666.6h0M1414.1 642.5h0M1399.3 676h0M1414.8 656.7h0M1393 651.7h0M1394.2 649.1h0M1384.3 648.4h0M1407.9 628.3h0M1381.8 659h0M1390.1 660.6h0M1391 641.8h0M1384.3 628.6h0M1395 668.2h0M1397.3 651.9h0M1412.3 657.9h0M1398.3 639.2h0M1414.8 664.4h0M1418.7 660h0M1421.2 650.7h0M1426.8 672.9h0M1390.9 671h0M1403.9 670.5h0M1400.9 638h0M1382.9 668.1h0M1424.4 633.2h0M1400.7 663.6h0M1405.3 636.8h0M1413.1 640.8h0M1409 640.8h0M1387.9 659.6h0M1384.2 634.5h0M1404.5 648.1h0M1394 641.2h0M1385.5 635.1h0M1407.9 669.9h0M1414.4 643.1h0M1430.6 667h0M1379.2 647.2h0M1418.9 628.2h0M1404.2 642.2h0M1405.5 644.9h0M1377 630.1h0M1390.5 673.7h0M1428.5 670.2h0M1389.3 662h0M1419.6 627.1h0M1428.8 659.8h0M1401.3 649.3h0M1411 657.7h0M1383.8 636.6h0M1406.7 662.1h0M1387.3 645.6h0M1405 627.7h0M1397.8 641.9h0M1418.8 636.6h0M1423.7 667.4h0M1412.3 630.1h0M1421.6 652h0M1429.5 660.1h0M1419.9 648.2h0M1412.1 645.3h0M1402 664.8h0M1413.8 658h0M1427.2 673.5h0M1409.4 632.1h0M1419.3 672.2h0M1376.6 652.2h0M1382.8 666.1h0M1405 652.2h0M1405.1 636.3h0M1398.8 673.2h0M1394.1 643.7h0M1379.3 662.4h0M1376.7 633.5h0M1384.2 654.2h0M1417.3 640.3h0M1420.3 674.7h0M1426.2 670.2h0M1388.2 658.4h0M1400.2 660.8h0M1417.9 675.5h0M1427.2 628.8h0M1385.3 650.1h0M1388.6 637h0M1385.7 656.4h0M1486.9 635.3h0M1452.7 627.5h0M1468.1 629.2h0M1459.4 641.3h0M1448.3 631.2h0M1457.6 647.6h0M1464.7 656.9h0M1489 643.7h0M1479.3 658.1h0M1459.7 658.6h0M1463.8 631.5h0M1461.9 671.4h0M1457.4 639.5h0M1475.1 639.4h0M1455.4 642.5h0M1451.2 670.8h0M1468 658.8h0M1471.1 675.6h0M1462.1 656.2h0M1496.6 649.6h0M1492.5 666h0M1485.6 660.2h0M1498.4 670.7h0M1497.1 654.9h0M1466.4 665.2h0M1455.5 641.3h0M1481.3 662.6h0M1464 629.4h0M1463.4 667h0M1455.1 627.3h0M1465.9 644.8h0M1457.1 644.3h0M1493.1 645.7h0M1479.7 633.9h0M1475.8 651.2h0M1490.1 670.4h0M1470.1 642.1h0M1468.2 643.3h0M1457.1 657.1h0M1476.2 646.5h0M1446.9 650.7h0M1469.6 645.2h0M1477.4 646.8h0M1455.1 630.2h0M1498.8 653h0M1462.8 639.7h0M1498.6 639.8h0M1491.9 656.2h0M1498.6 669.8h0M1457.7 651.9h0M1480.8 634.7h0M1490.3 629.9h0M1473.4 636.8h0M1450.8 627.1h0M1484.1 633.2h0M1488.5 663.7h0M1474 653.7h0M1457.1 633.4h0M1479.5 662.3h0M1474.2 672.4h0M1472.3 637.3h0M1488.1 664.1h0M1487.1 633.9h0M1494.1 649h0M1454.5 636.8h0M1449.9 658h0M1462.3 674.2h0M1490.5 633.4h0M1453.4 670.3h0M1490.9 656.9h0M1493.9 645.7h0M1498.5 672.5h0M1478.6 665.9h0M1484.9 632.9h0M1480.7 666.4h0M1445.6 654.8h0M1461.6 659.3h0M1460.6 645h0M1482.8 646.3h0M1450.7 667.2h0M1470.8 641.9h0M1449.8 669.7h0M1478.9 629.7h0M1455.1 658.4h0M1483.2 627h0M1465.3 639.8h0M1466.6 660.8h0M1478.6 668.9h0M1489.3 655.1h0M1469.5 655.9h0M1496 651.1h0M1482.9 659h0M1475.9 664.5h0M1492.1 662h0M1491.1 661.9h0M1470.1 642.7h0M1467.3 630.1h0M1478.1 639.4h0M1448.3 654h0M1460 655.4h0M1496.7 654.3h0M1482.3 661.6h0M1458.9 642.9h0M1451.9 655.8h0M1460.1 631.9h0M1463.3 655.3h0M1491.3 635.6h0M1474.8 647h0M1493.3 671.2h0M1463.5 671.7h0M1484 657.6h0M1464.2 643.1h0M1496.5 631.8h0M1478.5 674.9h0M1464.5 652.9h0M1462 653.2h0M1478.1 643h0M1497.9 628.2h0M1467.9 627.2h0M1480.8 635.2h0M1499 641.5h0M1469 672.8h0M1480.4 656.3h0M1498.6 665.3h0M1464.2 665.7h0M1465.4 669h0M1450.7 639.5h0M1479.6 667.8h0M1485.3 645.4h0M1488.7 663.6h0M1487.3 640h0M1469.5 670.2h0M1491.2 675.3h0M1493.7 629.5h0M1462.6 674.9h0M1474 649.7h0M1487.4 670.6h0M1472 661.2h0M1475 669.9h0M1448.3 669.7h0M1461 650.8h0M1459.4 637.8h0M1447.6 655.7h0M1468.8 665.3h0M1470.1 648.6h0M1452.2 634.1h0M1454.9 634.2h0M1474.5 628.3h0M1478 656h0M1497.2 633.5h0M1423.9 596.2h0M1384.4 615.4h0M1388 572.5h0M1397.4 615.2h0M1420 624.7h0M1377.9 604.6h0M1382.6 579.3h0M1403.4 623.4h0M1411.2 621h0M1380 618.5h0M1398.8 602.5h0M1381 578.5h0M1393.3 556.8h0M1380.4 589.8h0M1407.6 597.6h0M1407.8 572.2h0M1401.5 599.6h0M1404.4 591.5h0M1400.2 595h0M1383.7 623.1h0M1397.9 622.2h0M1402.1 586.3h0M1419.4 610.3h0M1407 599.3h0M1410.6 591h0M1397.4 571.4h0M1404 626.1h0M1419.9 555.4h0M1378 582.9h0M1393.7 599.8h0M1407.7 599.5h0M1393.4 581.8h0M1398.5 603.5h0M1386.6 588.6h0M1420.9 622.9h0M1409.8 608.2h0M1399.9 568h0M1400.7 563.2h0M1390.3 605.7h0M1377.2 620.5h0M1404.1 565.3h0M1384.1 603.3h0M1390.7 568.5h0M1387 622.6h0M1393.4 623.2h0M1379.4 586h0M1421.3 579.6h0M1386 557.7h0M1423 583.9h0M1400.5 572.3h0M1377.1 576.6h0M1416 559h0M1399.3 569h0M1402.2 571.2h0M1400.8 593.7h0M1407.9 618.1h0M1417.5 572.5h0M1383.7 618.2h0M1395.1 577.6h0M1418.9 618.4h0M1378.4 603.9h0M1379.6 585.4h0M1402.8 611.2h0M1383 587.2h0M1382 617.7h0M1421.9 591.9h0M1403.7 594.9h0M1379.3 577h0M1389.4 590.3h0M1385.8 598.1h0M1387.8 619h0M1394.9 614.5h0M1406.2 611.9h0M1406.2 614.7h0M1396.5 583.1h0M1394.7 598.1h0M1402.7 564.5h0M1398.3 583.6h0M1403.4 554.3h0M1409.2 575.2h0M1388.1 607.5h0M1408.8 584.3h0M1384.2 622h0M1388.5 598.9h0M1392.7 594.8h0M1377.4 585.4h0M1398.1 559.6h0M1410.5 590.8h0M1415.6 571.1h0M1382.9 604.1h0M1390 624.2h0M1395.2 584.8h0M1415.7 602.2h0M1385.5 556.5h0M1415.5 567.2h0M1409.5 568.8h0M1397.1 612.1h0M1415.6 581.7h0M1393.3 570.3h0M1379.4 560.3h0M1403.1 575.8h0M1387.3 556.5h0M1382.5 605.3h0M1407.6 573.1h0M1424.4 608.4h0M1409.2 587.1h0M1410.5 605.1h0M1399.7 617.1h0M1409 606.6h0M1398.1 606.3h0M1411.8 562.2h0M1382.1 563.3h0M1395.4 581.8h0M1395.4 572.5h0M1379.7 578h0M1407.6 569.5h0M1379.2 622.8h0M1385.4 600h0M1400.9 609.5h0M1387.9 599.4h0M1395.9 557.1h0M1404.4 585h0M1378.6 609.6h0M1379 618.6h0M1418 578.2h0M1414.6 560.1h0M1415.9 585h0M1404.1 553.7h0M1417.1 562.3h0M1418.2 577.5h0M1395.9 624.6h0M1388.5 554.2h0M1384.8 563.6h0M1418.7 588.3h0M1412.7 587.8h0M1404.3 587.9h0M1412.2 589.9h0M1400.7 574.7h0M1418.8 590.9h0M1395.2 590.8h0M1393.5 554.9h0M1408.9 616.8h0M1389.2 602h0M1377.4 557.4h0M1379.3 556.6h0M1379 563.3h0M1399.9 625.3h0M1389.4 583.1h0M1392.4 581.5h0M1415.3 557.8h0M1378.1 588.4h0M1419.9 624.4h0M1378.1 562.6h0M1425.1 625h0M1388.7 565.5h0M1394.1 588.4h0M1384.1 570.8h0M1422.8 626.7h0M1377.4 568.1h0M1400.5 565.2h0M1405.6 602h0M1386.7 625.7h0M1394.6 607.4h0M1405.2 587.9h0M1399.1 576.9h0M1381.5 609.5h0M1416.7 613.8h0M1399.6 608.1h0M1404.1 568.9h0M1391.5 609.2h0M1397.5 607.6h0M1381.7 607.9h0M1412.2 613.2h0M1406.6 604.5h0M1389.6 573.1h0M1395 568.4h0M1386.9 621h0M1412.6 608.7h0M1376.9 596.2h0M1404.9 599.4h0M1376.8 559.5h0M1416.2 598.2h0M1385 568.4h0M1385.3 601.8h0M1408.3 598.7h0M1387 582.9h0M1384 591.6h0M1399.4 625.8h0M1420.4 598.7h0M1412.4 559.2h0M1381.7 611.6h0M1379 555.8h0M1379.4 601.5h0M1389 616.3h0M1409.8 556.9h0M1390.7 616.8h0M1387.1 561.6h0M1398.1 556.6h0M1417.2 599.3h0M1379 606.6h0M1415.4 621.5h0M1421.6 601.1h0M1414.1 604.1h0M1397.7 617.7h0M1394.6 586.9h0M1395.7 570.5h0M1415.4 556.8h0M1420.8 610.3h0M1386.7 603.9h0M1396.1 558.5h0M1407.2 614.9h0M1407 584.8h0M1377.5 568.2h0M1393.3 592.8h0M1398 564.3h0M1378.9 612.7h0M1418.5 554.5h0M1401.2 570.4h0M1416.7 623h0M1388 614h0M1424.7 611.2h0M1385.1 610.6h0M1391 589.9h0M1413.2 592.4h0M1409.2 625.7h0M1411.4 623.7h0M1403.2 581.1h0M1392.3 591.8h0M1405.2 603.4h0M1393 561.5h0M1396.2 596h0M1405.7 592.8h0M1408 559.3h0M1382.1 557.6h0M1411.6 561.6h0M1377.1 589.2h0M1414.9 605.5h0M1409 573.3h0M1413.8 583.7h0M1405.5 556.8h0M1390.3 619.6h0M1395.5 601.1h0M1379.6 590h0M1403.2 588.8h0M1399.6 626.7h0M1395.1 606.9h0M1398.9 580.1h0M1399.3 620.1h0M1391.5 591.2h0M1405.6 555.1h0M1418.8 594.1h0M1408.6 567.7h0M1384.3 565.5h0M1380.6 608h0M1401.1 589.5h0M1378.6 585.8h0M1398.6 590.6h0M1383.2 605.3h0M1405 589.6h0M1413 612.3h0M1384.1 565.1h0M1379.6 554.5h0M1384.6 576.2h0M1384 574.2h0M1411.5 567.6h0M1405.3 566.6h0M1379.9 608.8h0M1398.8 625.1h0M1385.3 601.4h0M1380 581.7h0M1390.3 557.9h0M1391.3 622h0M1377.2 618.7h0M1404.7 562.4h0M1389.9 613h0M1377 570.8h0M1415.3 580.8h0M1418.3 573.1h0M1385.5 562.7h0M1381.4 568.7h0M1378.7 584.7h0M1397.6 579.6h0M1405 598.4h0M1417 625.1h0M1408.9 568h0M1385.5 578.5h0M1396.4 575.5h0M1409.4 603.4h0M1392 612.9h0M1378.7 576.1h0M1379.5 602.4h0M1405.4 559.4h0M1391.2 556.4h0M1385.1 555.7h0M1408.9 602.2h0M1474.8 588.2h0M1492.1 624.2h0M1474.1 587.2h0M1464.8 571.8h0M1478.1 612.1h0M1465.7 609h0M1450.7 621.6h0M1476 600.5h0M1483.2 556.7h0M1470.4 596.2h0M1472.9 609.4h0M1460.4 555.9h0M1484 594.8h0M1478.8 570.4h0M1496.3 579.4h0M1465.8 560.1h0M1499 586.8h0M1460.6 587.8h0M1456.1 570.2h0M1476.5 615.7h0M1485.2 606.6h0M1467.8 573.1h0M1483.1 570.1h0M1474.1 574.6h0M1456 594.8h0M1497 591.7h0M1457 561.1h0M1461.8 621.5h0M1473.1 575.5h0M1470 617.3h0M1487.1 584.4h0M1482.1 597h0M1481.3 576.4h0M1484.3 623.4h0M1451.3 617.3h0M1452 591.8h0M1468 621.4h0M1456.2 592.2h0M1492.6 556.3h0M1479.4 590.8h0M1498.3 603.5h0M1463.9 617.9h0M1492.4 610.5h0M1471 589.2h0M1493.7 597.3h0M1488.8 607.8h0M1473.7 574.5h0M1471.6 599.8h0M1466.2 593.3h0M1471.6 580.7h0M1487.9 604.3h0M1473.8 593.2h0M1474.7 561.8h0M1494.2 599h0M1489.7 554.6h0M1483.2 597.1h0M1466.9 572h0M1496.8 573.3h0M1483.7 578.3h0M1482.4 594.6h0M1487.7 610.1h0M1498.2 586.9h0M1485 601.5h0M1469.1 625.6h0M1465.3 570.2h0M1462.6 581.4h0M1498.8 597.3h0M1494.8 612.3h0M1477.8 622.4h0M1491.8 566.1h0M1479.2 597.9h0M1488.2 574.2h0M1479.8 571.6h0M1484.5 608.2h0M1477.6 585.3h0M1461.2 553.8h0M1468.4 569.1h0M1496.9 573.1h0M1477.7 606.5h0M1475.1 587.7h0M1480.3 614.4h0M1484.1 560.8h0M1489.6 605.4h0M1457.8 595.7h0M1473.8 582h0M1498.7 587.6h0M1496.9 584.7h0M1487.3 600.7h0M1463.4 621.2h0M1484.8 575.7h0M1471.1 565.6h0M1467.4 606.6h0M1452.8 587.1h0M1482.4 599.1h0M1464.4 615.8h0M1496.2 562.3h0M1458.3 608.3h0M1452.8 618.1h0M1487.3 568.1h0M1473.8 607.2h0M1454.2 575.4h0M1492.8 566.3h0M1484.3 611.2h0M1468.5 575.1h0M1464.2 561.9h0M1466.2 591.8h0M1490.1 594.1h0M1480.7 584.7h0M1465.1 553.8h0M1480.2 610.3h0M1497.3 615.7h0M1471.7 601.6h0M1490.8 594.9h0M1484.8 559.1h0M1466.7 614.1h0M1463 574.6h0M1493.4 561.6h0M1467.4 610.1h0M1485.1 609.9h0M1483.5 623.3h0M1491 622.2h0M1479.4 586.6h0M1450.5 619.8h0M1498.4 600.7h0M1492.7 582.4h0M1453.2 622.2h0M1483.5 625.2h0M1462.6 613.8h0M1485 577.5h0M1473 603h0M1392.5 531.5h0M1400.2 526.6h0M1403.5 534.5h0M1416.8 533.6h0M1391.3 529.9h0M1411.5 533h0M1393.9 490.4h0M1401.3 515.1h0M1384.2 487.3h0M1388 506.9h0M1393.4 501.7h0M1398.7 522.4h0M1395.3 515.6h0M1392.8 513.8h0M1379.9 494.6h0M1416.8 536.3h0M1415.6 530.6h0M1388.9 494h0M1407.7 531.8h0M1381.6 488.7h0M1386.7 502.4h0M1394.8 497.9h0M1392.5 523.5h0M1376.7 487.8h0M1381.6 485.1h0M1406.5 547.4h0M1390.9 481.1h0M1401.4 514.8h0M1392.2 489.2h0M1408 479.7h0M1411 479.5h0M1399.9 541.9h0M1409 505.6h0M1378.5 511.3h0M1384.7 520.7h0M1390.8 509.1h0M1396.8 540.1h0M1386.8 486.3h0M1397.3 536.9h0M1400.2 512.7h0M1389.1 510.2h0M1408 551.6h0M1404.5 504.4h0M1385.4 547.5h0M1377.9 528.2h0M1410 511.6h0M1402.6 505.8h0M1385.3 492.7h0M1410.7 496.8h0M1384.1 550.4h0M1408.2 542.5h0M1410.7 550.7h0M1377.9 517.9h0M1404.5 529.1h0M1404.6 491.7h0M1389.5 505.9h0M1409.9 483.8h0M1398.3 511.3h0M1401.9 492h0M1405.3 500h0M1377.5 516.3h0M1404.2 535.2h0M1386.7 485.1h0M1409.3 548h0M1403.7 535.4h0M1386.1 490.5h0M1386.7 480.5h0M1398 506.5h0M1393.5 499.9h0M1396.1 548.5h0M1393.4 524.5h0M1417.8 549.3h0M1396.7 480.2h0M1409.4 528.5h0M1379.3 509.1h0M1395.3 539.6h0M1384.5 516h0M1404 511.1h0M1386.6 538.9h0M1381.5 547.1h0M1409.4 550.4h0M1381.8 518.3h0M1385 507.1h0M1385.5 496.6h0M1383 549.1h0M1410 542h0M1417.8 550.1h0M1396.9 488.1h0M1416.4 546.5h0M1389.3 490.3h0M1410.4 485.2h0M1404.5 544.6h0M1412.1 538.8h0M1389.8 538.1h0M1409.5 540.5h0M1398.7 513.3h0M1392.7 541.8h0M1398.3 515.3h0M1413.8 517.8h0M1405.6 507.4h0M1416.7 528.1h0M1389.7 487.3h0M1392.9 523.9h0M1406 483.4h0M1386.8 524.5h0M1386.9 525.4h0M1410.3 485.8h0M1403.3 531.9h0M1383.5 497.4h0M1378.9 501.2h0M1399.6 539.2h0M1383.9 489.9h0M1377.2 544.6h0M1380.8 498.2h0M1390.6 526.1h0M1379.6 482h0M1380.1 510.2h0M1381.4 479.1h0M1377.8 504.4h0M1399.4 542.3h0M1408.6 511.2h0M1410.2 495.2h0M1402 506.4h0M1390.7 529h0M1397.4 538.7h0M1376.9 489.5h0M1400.4 533.5h0M1405.2 501.6h0M1403.9 490.1h0M1400 511.7h0M1420.1 552.8h0M1403.2 552.7h0M1376.8 532.5h0M1411.2 505.8h0M1403.4 500h0M1386.1 517.3h0M1378.5 489.6h0M1401.6 521.8h0M1401.9 523.5h0M1394.5 498.1h0M1406.9 502.2h0M1377.5 495h0M1390.7 537.9h0M1416.4 540.9h0M1407.3 522.3h0M1390.7 498.9h0M1377.5 503h0M1413.7 548.6h0M1397.5 550.2h0M1386.7 492h0M1381.3 512.4h0M1410.8 525.4h0M1413.2 505.5h0M1416.2 535.9h0M1414.8 540.9h0M1409 513.6h0M1382.3 508.3h0M1410.6 527.4h0M1385.5 503.3h0M1390.8 487.6h0M1381 509.9h0M1377.3 502.8h0M1384.6 531.7h0M1394.8 506.1h0M1396.9 552.1h0M1391.1 533.4h0M1393.7 515.2h0M1412 548.5h0M1387.2 508h0M1382.8 479.7h0M1396.6 531.4h0M1383.2 515.5h0M1379.2 523.7h0M1398.1 517.1h0M1399.7 517.4h0M1409.3 479h0M1412.3 523.3h0M1407 502.8h0M1398.5 541.9h0M1384.4 508.4h0M1402.4 520h0M1380.4 525.7h0M1417.6 537.1h0M1393.3 487.4h0M1411.3 543.1h0M1384.4 487.1h0M1388.7 548.1h0M1397.3 537.1h0M1412.2 508.2h0M1398.2 483.7h0M1384.6 542.2h0M1416.7 544.8h0M1394.6 504.7h0M1383 486.3h0M1415.5 537.6h0M1394.8 508.3h0M1379.4 530.6h0M1389.6 537.5h0M1379.3 547.5h0M1388.5 482.8h0M1386.3 529.2h0M1382.9 486.1h0M1395.6 549.9h0M1393.6 542.5h0M1380.6 482.7h0M1480.4 534.5h0M1464.9 529.4h0M1490.1 497.9h0M1475.4 528h0M1488.8 501.4h0M1463.9 518.6h0M1463.4 545.8h0M1480.5 491.8h0M1474.7 505.3h0M1465.6 525.6h0M1485.1 480.9h0M1486.4 543.4h0M1484.1 508.7h0M1484.5 496h0M1498 488.1h0M1484.9 522.8h0M1475.1 525.2h0M1484.8 525.8h0M1472.6 526.8h0M1491.8 490.3h0M1493.2 502.9h0M1484.6 524.4h0M1470.6 534.3h0M1490.5 545.4h0M1474 484.8h0M1463.2 524.9h0M1483.7 542.4h0M1465.8 487h0M1489.1 534.1h0M1494 536.2h0M1477.6 526.8h0M1469.3 538h0M1470.1 521.5h0M1462.5 499h0M1491.5 505.7h0M1465.9 528.8h0M1459.7 544h0M1484.4 494.3h0M1475.3 551.8h0M1472.7 508.6h0M1474 550.3h0M1498 526.8h0M1496 526.3h0M1483.6 488.7h0M1490.9 543.6h0M1480.1 546.2h0M1460.1 545.7h0M1465.1 522.5h0M1484.2 479.6h0M1497.6 486.6h0M1485.9 496.9h0M1490.3 517.9h0M1466.9 503.4h0M1476 513.7h0M1487.8 514.8h0M1482.8 502h0M1492.6 494.6h0M1462.4 546.1h0M1462.7 549.4h0M1474.4 482h0M1477.7 520.4h0M1471 511.2h0M1474.2 495.3h0M1491.9 490.4h0M1479.3 552.8h0M1494.1 546h0M1467.5 547.8h0M1483.8 496.1h0M1476.7 503.6h0M1467.7 514.4h0M1469.5 518.7h0M1465 503h0M1464.9 542.7h0M1482.7 513.5h0M1498.6 552.7h0M1476.3 491.1h0M1491.7 541.1h0M1469.9 480.7h0M1492.3 497h0M1470.7 483.6h0M1463.4 544h0M1495 535.8h0M1480.1 485.6h0M1471.5 543.5h0M1484.4 535.1h0M1490.7 499.7h0M1477.3 520.6h0M1474 518.3h0M1385.1 445.3h0M1394.4 426.4h0M1401.1 437.1h0M1395.9 475.6h0M1407 452.4h0M1394.4 473.1h0M1380.3 409.3h0M1398.4 476.7h0M1396.8 451.7h0M1388.8 468.8h0M1392.2 417h0M1405.4 465.9h0M1383.6 477.9h0M1384.5 461.9h0M1401.6 420.5h0M1397.6 465h0M1383 422.2h0M1392.6 456.6h0M1391.7 452.7h0M1395.9 420.3h0M1378.4 419.1h0M1377.5 434.6h0M1397.6 409.7h0M1396.4 405.7h0M1400.2 419.5h0M1392.9 456.6h0M1384.3 417h0M1379.4 463.9h0M1388.6 415h0M1399.4 475.2h0M1393.7 457.4h0M1386.2 409.3h0M1401.8 418.4h0M1384.2 460.8h0M1399.7 453.8h0M1408.6 474.3h0M1389.3 448.5h0M1388.8 449.4h0M1408.4 457.5h0M1394.3 429.1h0M1394 442.7h0M1406.9 459h0M1397.6 457.1h0M1409.2 470.5h0M1406.6 443.5h0M1392.6 414h0M1389.8 446.2h0M1406.6 477.2h0M1387.7 420.9h0M1395.1 442.5h0M1389.2 423.5h0M1380.5 420.4h0M1383.1 412.9h0M1390.7 429.2h0M1387.9 439.6h0M1381.3 440.2h0M1402.2 415.6h0M1386.2 423.4h0M1378.8 434.8h0M1392.9 475.3h0M1377.9 451.2h0M1389.6 466.8h0M1383.8 468.3h0M1383.6 442.8h0M1379.7 456.3h0M1401.9 478.5h0M1379.5 424.8h0M1395.6 421.5h0M1385.3 473h0M1402.9 424.9h0M1387.9 409.9h0M1392.8 476.5h0M1404.2 454h0M1378 413.5h0M1393.5 469.8h0M1385.9 458.8h0M1397.4 470.9h0M1391.5 448.7h0M1387.7 446.8h0M1378.1 409.5h0M1380.5 411.9h0M1399.8 462.1h0M1386.3 445h0M1394.3 434.2h0M1393.3 405.7h0M1407.1 477.5h0M1384.3 463.5h0M1402.7 416.8h0M1399.8 461.5h0M1379 420.9h0M1404.8 459.5h0M1377.1 407.5h0M1390.2 426h0M1382.3 423.8h0M1397.3 441.3h0M1385.6 440.2h0M1386.8 455h0M1377.3 468.1h0M1400.6 463.4h0M1377.6 408h0M1380.2 410.6h0M1380.8 416.3h0M1403.6 437.1h0M1380.6 424.9h0M1402.6 417.1h0M1489.7 474.4h0M1495.8 442.9h0M1484.3 405.8h0M1489.2 429.1h0M1480.5 427.7h0M1471.3 431.7h0M1491.5 412.5h0M1483.8 419.7h0M1480.7 463.8h0M1485.8 428.7h0M1464.8 471h0M1475 449.6h0M1473.1 462.2h0M1489.4 448.3h0M1490.3 411.5h0M1494.5 477.4h0M1491 434h0M1479.7 433.6h0M1469 453.9h0M1471.1 429.9h0M1496.5 428.6h0M1487.5 429.6h0M1498 419.3h0M1498.9 418.9h0M1468.1 445h0M1488.3 433.6h0M1488.3 415.2h0M1467 452.1h0M1488.6 417.6h0M1488.2 406.2h0M1492.8 416h0M1484.7 405.8h0M1482.5 412.7h0M1475.3 478.1h0M1498.9 453h0M1475.9 449.8h0M1472.6 427.9h0M1479.3 456.4h0M1485.3 469.8h0M1492.8 447.7h0M1498.4 453.9h0M1483.3 464.5h0M1466.1 462.3h0M1495.7 456.7h0M1482.3 457.4h0M1476.5 440.3h0M1396.2 365.5h0M1391.9 379.3h0M1380.3 344.8h0M1383.7 353.3h0M1380.7 341h0M1398 401h0M1379.2 349.8h0M1379.9 332h0M1386.1 393.4h0M1383.8 358.9h0M1377.1 395.1h0M1391.3 367.4h0M1386.4 332.6h0M1384 399.9h0M1394.2 385.9h0M1384.8 382.7h0M1383.5 381.4h0M1376.6 338.2h0M1377.7 339.4h0M1380.2 386.4h0M1386 398.4h0M1398.8 399.5h0M1391.5 335h0M1385 352.1h0M1381.2 405h0M1379 400.6h0M1385.1 344.6h0M1398.1 372.1h0M1395.6 353.3h0M1377.9 366.2h0M1393.8 355h0M1381.7 351.8h0M1381.2 380.7h0M1387.8 362.3h0M1483.2 366.2h0M1496.5 383.9h0M1493.7 379.2h0M1480.2 378h0M1498.2 405h0M1498.8 349.5h0M1479.1 361.5h0M1475.1 393h0M1491.1 359.8h0M1486.4 334.5h0M1480 387.8h0M1474.5 394.2h0M1534.5 681.4h0M1522.1 686.8h0M1500.4 688.8h0M1563 685.1h0M1567 691.1h0M1574.3 691.4h0M1584.7 692.4h0M1623.9 691.8h0M1668.7 683.1h0M1790.5 679.7h0M1520.8 701.5h0M1512.8 703.5h0M1508.1 716.5h0M1487.3 686.4h0M1490.3 713.9h0M1181 685.5h0M1202.1 679.6h0M1327.7 685.2h0M1328.3 690.8h0M1348.8 691.8h0M1349.8 697.7h0M1363 694.1h0M1365.3 702.6h0M1354.7 714.5h0M1371.2 709.9h0M1370.5 682.9h0M1396.9 239.7h0M1404.5 291.4h0M1378.8 287.8h0M1379.5 297.7h0M1396.3 314.5h0M1494.7 187.7h0M1484.3 251h0M1497.7 249.3h0M1490.7 278.1h0M1492.7 295.1h0M1489.3 326.3h0M1497 326.3h0M1494 333.6h0M1472.9 330.3h0M1460.2 344h0" stroke="#000" stroke-width="5.1" stroke-linecap="round" fill="none"/>
<path d="M1363 651.7h0M1358.1 635.3h0M1374.6 671h0M1369.8 641.5h0M1342.7 642.2h0M1372.1 664h0M1338 628.4h0M1374.3 649.4h0M1374.5 661.5h0M1365.6 632.7h0M1365.5 672h0M1362.4 666h0M1352 645.7h0M1369.5 635.5h0M1357.9 648.8h0M1336.1 640.8h0M1370.9 665h0M1368.2 652.3h0M1373.6 648.8h0M1363.1 641.9h0M1372.9 673.6h0M1341.8 630h0M1372.8 675.9h0M1344.3 671.9h0M1373.1 652.6h0M1372.5 644.4h0M1355.2 669.5h0M1372.4 661.1h0M1374.7 651.9h0M1350.8 633.3h0M1360.1 636.2h0M1342.6 631.1h0M1370.3 636.4h0M1374.2 659h0M1360.7 638.4h0M1367.9 627.5h0M1340.8 654.8h0M1339.9 638.8h0M1373.8 653.3h0M1343.6 655.5h0M1361.4 634h0M1374.3 654.3h0M1356.3 637.2h0M1372.3 656h0M1374.1 653.5h0M1373.8 670.2h0M1372.5 655.1h0M1354.4 635.3h0M1357.1 633.3h0M1368.4 668.2h0M1355.6 634.7h0M1353.3 644.2h0M1370.8 673.7h0M1342.1 654.8h0M1369 646.9h0M1370.6 630.2h0M1374.8 666h0M1344.1 674.6h0M1374.8 668.5h0M1369.4 647.7h0M1338.2 645.8h0M1369 638.6h0M1351 633.2h0M1365.9 632.1h0M1355.7 629h0M1374.5 670.5h0M1369.5 646h0M1368.5 638.9h0M1337 658.2h0M1334.1 634.9h0M1353.8 630h0M1366.7 647.4h0M1356.3 657.4h0M1352.8 663.9h0M1370.1 591.3h0M1365.1 625.4h0M1342 605.4h0M1358.7 599.8h0M1357.1 596.9h0M1356.9 593.4h0M1369.7 599.6h0M1362.2 620.7h0M1336.2 583.1h0M1356.1 612.3h0M1361.5 601.3h0M1345.1 618h0M1370 622.6h0M1370.7 613.1h0M1373.8 617.3h0M1371.6 601h0M1354.9 595.1h0M1360.4 596h0M1367.7 596.6h0M1350.5 603.9h0M1348.1 616.2h0M1334.5 597.9h0M1357.3 596.4h0M1368 588.9h0M1362.5 608.4h0M1348.9 590.6h0M1335.7 617.7h0M1333.2 602.4h0M1364.4 596.2h0M1374.8 622.5h0M1348.9 597.7h0M1345.5 596.4h0M1347.7 605.3h0M1353.2 597h0M1351.6 599.8h0M1373.6 599.2h0M1349.7 593.5h0M1334.8 605.7h0M1371.8 603.1h0M1365.4 601.6h0M1339.6 618.6h0M1349.2 618.1h0M1358.8 618.4h0M1373.6 577.7h0M1374.9 584.5h0M1338.4 578.6h0M1353 604.7h0M1371.8 604.1h0M1362.1 609.3h0M1373.1 583.9h0M1360.8 600.2h0M1345 599.6h0M1366.7 597.3h0M1354.9 579.8h0M1357.4 613.4h0M1374.4 584.1h0M1360.1 594.9h0M1372 612.6h0M1362.2 615.4h0M1354.8 606h0M1353.9 613.5h0M1344.8 603.5h0M1369.7 587.2h0M1357.4 578.7h0M1369.1 610.3h0M1362.3 591.7h0M1369.1 593.1h0M1368.8 584.4h0M1362.2 583.9h0M1356 607h0M1357.4 601h0M1336 599.2h0M1373.6 590.2h0M1374.8 578.1h0M1343.5 624.2h0M1374.6 613.2h0M1359.8 618.1h0M1374.7 585.2h0M1374.8 618.6h0M1367 624.2h0M1334.8 602.6h0M1341.5 594.9h0M1338.3 597.7h0M1369.6 593.6h0M1360.4 608.4h0M1359.9 616.9h0M1368.5 587.1h0M1373.6 597.8h0M1371.2 614.9h0M1350.5 601.9h0M1350.5 615.6h0M1347.2 597.9h0M1366.4 577.7h0M1361.5 577.7h0M1371.5 601.7h0M1352.7 622.6h0M1374.6 621.7h0M1357.6 622.6h0M1368.8 617.1h0M1361.9 589h0M1350.9 619.5h0M1353.8 577.8h0M1357.8 604.9h0M1342.4 592.2h0M1369.3 588.1h0M1373.3 588.4h0M1359.2 620.5h0M1356.7 617.7h0M1336.3 612.8h0M1343.7 605.4h0M1361.6 580.2h0M1359.9 588.9h0M1372.9 607.1h0M1337.6 594.3h0M1367 592.9h0M1365.5 600.9h0M1346 607.5h0M1360.4 626.5h0M1372.3 601.6h0M1369.2 590.7h0M1369.3 606.9h0M1362.5 597.4h0M1362.8 593.1h0M1357.2 588.2h0M1359.9 621.6h0M1367.6 614.3h0M1360.4 580.1h0M1372.1 590.4h0M1373 595.8h0M1372.8 615.9h0M1338.5 625.6h0M1374.8 608.7h0M1351.8 590.6h0M1346.4 624.5h0M1369.8 623.5h0M1346.3 588.4h0M1359.2 615.3h0M1354.7 587.4h0M1371.3 600.9h0M1371.2 623.4h0M1355.1 601h0M1353.1 604.1h0M1352.7 599h0M1342.2 606.5h0M1340 600.6h0M1343 578.2h0M1350.4 588.7h0M1369.3 599.6h0M1351.9 621.7h0M1354.3 614.6h0M1354.5 599.7h0M1369.6 605.6h0M1350.1 611.8h0M1366.9 583.1h0M1361.8 611.3h0M1353.3 605.6h0M1346.3 589.5h0M1348.6 586.9h0M1361.8 578.9h0M1352.4 604.8h0M1342.9 611.3h0M1356.9 606.2h0M1365.2 601.2h0M1368.3 626.3h0M1335.9 603.3h0M1338.7 620h0M1368.3 587.8h0M1336.6 612.1h0M1343.2 593.6h0M1371.5 585.7h0M1373.5 601.9h0M1359.7 608.1h0M1367.9 586.5h0M1372.4 594h0M1374.2 614.1h0M1355.6 598.2h0M1363 591.7h0M1348.7 580.6h0M1340.4 598.8h0M1367.8 617.9h0M1354.9 599.6h0M1351 579.7h0M1346.6 616.7h0M1341.5 595.8h0M1369.1 599.6h0M1361 603.6h0M1355.8 609.4h0M1369.2 619.4h0M1374.7 621h0M1347.9 600.9h0M1338.8 607h0M1352 596.8h0M1339 612.7h0M1342 609.6h0M1335.8 614.8h0M1348.2 618h0M1364.4 619.1h0M1366.3 549.5h0M1371.9 550.8h0M1373.5 547.9h0M1365.6 518.7h0M1362.6 524.9h0M1340.1 505.5h0M1342.3 525.4h0M1337.1 510h0M1355.2 547h0M1365.2 572.4h0M1353.8 553.3h0M1347 577h0M1362.9 572h0M1342.2 541.7h0M1372.3 530.8h0M1369.7 528.3h0M1363.2 531.9h0M1361.8 506.9h0M1367.2 557.4h0M1365.8 506.8h0M1358 559.6h0M1336.5 528h0M1366.5 571.6h0M1359.7 524.1h0M1351.2 526.4h0M1374.3 570.7h0M1367.4 564.4h0M1368 564.1h0M1374.7 569.1h0M1346.8 538.8h0M1373.5 565.7h0M1373.8 523.7h0M1360 567.2h0M1345.4 555.6h0M1358.5 540.1h0M1374.7 549.9h0M1364.2 516.9h0M1373.3 516.4h0M1357.7 545.6h0M1373.9 566.1h0M1336.6 508.4h0M1357.5 503.6h0M1354.8 523.4h0M1371.6 542.2h0M1362 530.1h0M1374.5 527.4h0M1373.1 555.8h0M1360.5 521.1h0M1345.6 556.4h0M1367.9 539h0M1374.9 548.5h0M1374.5 573.1h0M1340.1 506.4h0M1336.5 537.3h0M1350.8 537.7h0M1362.3 569.8h0M1363.4 532.4h0M1366 529.3h0M1370.6 529.1h0M1362.6 541.3h0M1374.3 538.6h0M1349.1 559.6h0M1360.6 565.2h0M1354.4 504h0M1346.1 523.3h0M1364.3 506h0M1347 548.3h0M1360.9 575.6h0M1356.9 557.5h0M1341.1 523.4h0M1350.3 540.1h0M1351.9 571.7h0M1354.1 508.8h0M1359 541.3h0M1371.4 547.1h0M1344.8 562.9h0M1374.5 539.4h0M1342.8 532.1h0M1371.4 529.4h0M1371.3 507.2h0M1361.3 540h0M1368.7 565.3h0M1371.7 563.7h0M1352.7 574.5h0M1369.2 528.3h0M1362.8 507.2h0M1337.3 543.8h0M1361 529.5h0M1347.8 522.3h0M1374 554.7h0M1347.4 523.4h0M1373 533.1h0M1371.5 522.5h0M1353.8 518.6h0M1373.9 530.5h0M1348.2 550.5h0M1374.5 569.3h0M1341.6 547h0M1369.9 531h0M1342.5 571.5h0M1349.8 515.2h0M1347.2 562.2h0M1371.6 576.8h0M1335.5 553.9h0M1371.9 574.9h0M1346.6 523.3h0M1373.9 557.7h0M1334.7 514.4h0M1356.5 510.4h0M1347.8 571.2h0M1342.8 529.5h0M1359.4 521.4h0M1361.2 505.3h0M1353.1 544.6h0M1355.5 519.3h0M1368.6 508h0M1340.1 511.3h0M1374.6 551.9h0M1353.9 533.1h0M1356.9 506.6h0M1346.7 524h0M1351.6 565.1h0M1370.3 545.1h0M1365.3 557.2h0M1357.2 523.2h0M1374.3 553.8h0M1347 519.3h0M1345.3 515.7h0M1368.2 572.8h0M1367.7 543.3h0M1370.7 516.6h0M1361.7 576.4h0M1374.6 573.8h0M1354.7 532.7h0M1374 537.4h0M1358.5 536.1h0M1370.1 555h0M1360.3 566h0M1355.6 550.4h0M1368.4 527.7h0M1369 532.6h0M1370.7 522.4h0M1348 533.6h0M1358.1 518.4h0M1333.8 510.1h0M1365.4 519h0M1353.6 557.8h0M1371.5 568h0M1352.4 570.5h0M1337.6 548.9h0M1358.1 517.9h0M1366.8 552.4h0M1373.2 573.7h0M1367.6 513.1h0M1334.2 576.9h0M1345.9 549.4h0M1334.9 544h0M1360.7 571.6h0M1374.7 529.7h0M1366.2 509.7h0M1373.8 527.4h0M1373.7 571.7h0M1336.4 519.2h0M1358.2 509.8h0M1345.8 570.8h0M1345.5 540h0M1356.5 530.6h0M1372.4 564.9h0M1362.5 571.5h0M1335.7 556.2h0M1346.8 573.9h0M1373.3 568.7h0M1370.2 509.3h0M1355.6 533.5h0M1365.7 548h0M1350.1 567.1h0M1354.9 550h0M1373.9 517h0M1365.6 546.2h0M1353.9 508.6h0M1361.4 563h0M1358.9 576.4h0M1372.5 572.4h0M1357.8 540h0M1355.7 561.8h0M1349.7 554.5h0M1342.2 573.7h0M1371.6 544.3h0M1353.5 556h0M1338.2 570.5h0M1363.4 561.2h0M1361.4 572.2h0M1371.2 506.5h0M1357.4 564.3h0M1372.4 530.2h0M1354.7 561.3h0M1374.7 559.8h0M1340.7 526.2h0M1341.5 517.9h0M1367.2 561.8h0M1354.1 533.2h0M1357.1 531.2h0M1369.6 560.2h0M1374.2 571.3h0M1373.7 534.6h0M1335.4 512.7h0M1335 566.7h0M1374.9 531.4h0M1365.3 549.2h0M1374.1 554.7h0M1374.8 559.5h0M1360.3 544.4h0M1337.5 560.4h0M1359.6 512.1h0M1365.6 518.3h0M1345.8 521.9h0M1347.8 551.5h0M1371.6 551.6h0M1373.1 546.5h0M1369.2 524.5h0M1344.1 540.7h0M1338.4 533.3h0M1350.3 523.9h0M1350.4 522.8h0M1355.2 509.6h0M1357.3 528.7h0M1336.5 538.1h0M1371.1 555.3h0M1367.2 540.5h0M1353.1 524.7h0M1370.6 577.4h0M1363.9 531.8h0M1360.9 527.3h0M1350.4 569.3h0M1373.6 505.6h0M1354.2 532h0M1359.3 532.2h0M1333.6 540.1h0M1362.4 513.1h0M1351.6 517.4h0M1333.1 518h0M1370.5 572.2h0M1343.5 560.4h0M1370 509.2h0M1339.5 541.6h0M1355.5 524.1h0M1337.5 511.5h0M1335 570.8h0M1354.2 556h0M1367.8 521.9h0M1338.6 554.9h0M1334.4 519h0M1353.6 570.6h0M1335.6 522.9h0M1368.3 523.9h0M1371.6 570.1h0M1356.3 558.4h0M1372.2 553.7h0M1350.6 571.1h0M1372.9 517.3h0M1334.1 539.6h0M1358 550.8h0M1374.7 517.6h0M1345.9 513h0M1366 523.1h0M1336.5 541.2h0M1373.8 573h0M1335.8 530.2h0M1371.2 566.5h0M1345.1 543.5h0M1351.9 535.8h0M1370.8 573.7h0M1348.6 534.2h0M1373.6 570.8h0M1363.2 554.3h0M1371.7 552.9h0M1352.7 572h0M1353.2 507h0M1372.8 509.6h0M1365.2 532h0M1355 514.9h0M1338 532.1h0M1372.5 506.9h0M1373.7 545.2h0M1370.1 536.1h0M1365.5 525.9h0M1339.6 576.9h0M1368.7 568.2h0M1374.2 539.1h0M1349 520.5h0M1353.9 568.8h0M1358.2 568h0M1368.2 570.6h0M1357.5 544.2h0M1337.3 529.2h0M1365.7 552.7h0M1347.9 562.1h0M1370.5 550.4h0M1362.9 563.3h0M1362.2 515.7h0M1360.8 517.4h0M1369.1 534.5h0M1348.6 547.3h0M1361.5 571.3h0M1367.9 558.8h0M1370.9 552.5h0M1374.5 534.9h0M1368.8 559.9h0M1342.6 564.1h0M1339.6 526.8h0M1371.2 567.7h0M1359.2 554.4h0M1342.6 515.9h0M1374.8 514h0M1366.2 575.5h0M1374.9 545.8h0M1372.8 551.6h0M1370.5 512.9h0M1371.5 554h0M1373.1 514.8h0M1370.2 545h0M1333.3 559.3h0M1348 524.7h0M1334.3 551.3h0M1353.2 506.2h0M1374.4 560.7h0M1360.1 537.3h0M1333.1 513.8h0M1369.5 517.1h0M1354.3 504.8h0M1370.6 574.7h0M1344.8 506.7h0M1351.8 522.8h0M1336.7 575.8h0M1346.1 555.5h0M1360.1 537.6h0M1337.8 538.6h0M1364 515.8h0M1371.5 514.5h0M1366.8 551.7h0M1363.7 574h0M1334.8 577.4h0M1360.5 517.1h0M1368.8 573h0M1367.8 520.4h0M1362.7 570.5h0M1372.8 534.8h0M1357 549.7h0M1363.5 522.5h0M1369.1 504.3h0M1373.8 522.1h0M1357.5 509.9h0M1343.7 564.7h0M1372.7 512.2h0M1335.4 512.3h0M1345.1 551.2h0M1356.5 524.3h0M1367.1 548.9h0M1345.5 517.2h0M1374 507.7h0M1349.6 535.4h0M1374.7 561.4h0M1345.6 511.5h0M1366.4 524.8h0M1343.9 545.1h0M1348.7 570.6h0M1361.2 525.2h0M1353.3 507.1h0M1371 512.2h0M1367.8 547.4h0M1347 466.8h0M1338.3 430.3h0M1334.4 440.6h0M1347.9 449.4h0M1363.5 496.9h0M1373.3 467.5h0M1364.9 437h0M1373.8 485.6h0M1366.2 463.9h0M1353.2 433.5h0M1372 471.8h0M1350.5 500h0M1359.8 458.4h0M1363.4 466.2h0M1374.3 436.6h0M1344.9 486.5h0M1366.4 480.3h0M1367.7 471.7h0M1373.5 447.5h0M1349.1 462.6h0M1348.3 478.2h0M1353.8 477.4h0M1366.9 496h0M1354.3 462.2h0M1374.5 469.3h0M1340.9 463.8h0M1370.6 483.5h0M1369.8 457.7h0M1373.9 496.1h0M1339.9 457.4h0M1355.4 446.6h0M1341.8 439h0M1364.5 483.8h0M1336.4 431.6h0M1353.4 456.3h0M1373.6 478.3h0M1369.9 479.3h0M1352.2 456.9h0M1338.2 457.1h0M1370.6 503.6h0M1365 496.2h0M1361 436.1h0M1371.3 444.5h0M1344.6 477.4h0M1348.3 482h0M1352.2 459.3h0M1365.3 501.5h0M1364.8 430.8h0M1333 483h0M1350.1 460h0M1353.8 467.9h0M1368.4 474.8h0M1370 482.1h0M1373.7 452.3h0M1359.2 495h0M1345.6 430.5h0M1347.7 454.2h0M1359.1 488.4h0M1358.6 502.3h0M1373.1 501.2h0M1365.9 494.7h0M1370.3 468.5h0M1372.9 497.9h0M1333.9 433.4h0M1372.6 436.1h0M1340.1 488.7h0M1372.2 502.5h0M1335.1 455.6h0M1342.1 435.2h0M1348.1 480.1h0M1338.9 434.4h0M1346.6 431.9h0M1349.8 445.5h0M1356.2 472.4h0M1356.2 434.9h0M1361.8 501.7h0M1349.4 439.2h0M1336.9 468h0M1370.1 447.7h0M1340.6 451.8h0M1336.7 503.1h0M1341.9 471.7h0M1366.9 502.7h0M1370.3 481.2h0M1344.8 455h0M1338.3 455.6h0M1368 495.2h0M1344.9 474h0M1333.5 449.1h0M1358.2 439.1h0M1343.5 449h0M1351 465.2h0M1342.8 440.5h0M1374.6 492h0M1343.7 451.4h0M1341.7 489.6h0M1371.8 447.7h0M1352 492.2h0M1372 457.6h0M1370.4 436.5h0M1336.2 442h0M1349.8 494.7h0M1338 463h0M1363.3 470.8h0M1341.9 486.4h0M1338.2 480h0M1339.5 501.1h0M1348.7 502.2h0M1366.8 433.4h0M1363.2 459.9h0M1342.4 498.8h0M1344.4 467.1h0M1371.9 501h0M1343.6 486.6h0M1374.7 501.9h0M1364.3 475.7h0M1341.3 441.1h0M1347.7 485.9h0M1346.4 477.2h0M1374 454.9h0M1362.8 468.9h0M1357 469.7h0M1363.7 452.6h0M1343 465.2h0M1371 453.3h0M1368.6 493.4h0M1364.3 433.3h0M1335.1 438.6h0M1365 452h0M1359.5 448.6h0M1359.5 433.2h0M1350.7 456.6h0M1371.5 457.1h0M1362.6 461.6h0M1345.9 453.3h0M1365 488.4h0M1335.3 484.7h0M1361.7 467.4h0M1345.5 432.3h0M1359.4 440.1h0M1374.6 420.3h0M1365.2 400.1h0M1373.7 357.4h0M1363.7 416.5h0M1367.8 399.4h0M1374.8 379.6h0M1360.7 393.1h0M1335.9 395.5h0M1364.1 374.9h0M1373.3 421.3h0M1371.9 401.7h0M1335.2 365.9h0M1370.5 428.1h0M1360.2 387.2h0M1369.1 360.3h0M1371.9 374.3h0M1374.7 361.6h0M1344.2 389.9h0M1363.9 369.4h0M1366.7 408.2h0M1334.5 368.1h0M1360.2 370.6h0M1345.8 398.8h0M1355.7 416.5h0M1367.4 403.1h0M1358.2 378.4h0M1365.2 361.6h0M1356.2 401.1h0M1371.6 422.7h0M1371.2 381.8h0M1361.5 411.1h0M1357.4 365.9h0M1367.2 373.4h0M1351.1 381.6h0M1374.7 361.6h0M1374.2 362h0M1373.5 384.1h0M1362.8 384.8h0M1349.5 391.9h0M1346.2 376.4h0M1374.4 395h0M1355.4 423.7h0M1371.4 412.4h0M1335.4 393.4h0M1358 418.4h0M1374.2 402.9h0M1360.9 361.9h0M1374.4 411.6h0M1363 378.2h0M1366.8 405.7h0M1372.6 367.7h0M1374.8 356.8h0M1363.2 410.5h0M1365.5 401.5h0M1363.6 395h0M1351.9 387.1h0M1337.6 396.2h0M1367.6 421h0M1343.8 399.2h0M1359.3 407.3h0M1374.2 420.1h0M1344.3 389.6h0M1366.1 360.3h0M1337.5 380.5h0M1374.7 393.2h0M1345.5 401h0M1350.7 393.1h0M1363.7 399.2h0M1345 421.4h0M1349.6 363.8h0M1371.1 426.9h0M1362.2 392.4h0M1356.7 397.7h0M1372.5 409.2h0M1364.2 405.6h0M1372 288h0M1374.9 329.6h0M1360.1 299.5h0M1333.7 303.7h0M1374.4 328.1h0M1352 334.5h0M1373.8 324.4h0M1363 335.5h0M1340.8 285.7h0M1361.1 299.8h0M1337.6 337h0M1370.9 354.5h0M1357.3 333.2h0M1342.5 343.9h0M1359.7 350h0M1364.2 277.7h0M1340 319.7h0M1365.8 302.8h0M1364 277.4h0M1334.7 329h0M1363.5 299.1h0M1371.5 317.9h0M1346.1 275.6h0M1362.4 332.8h0M1337.7 307.4h0M1369.4 305.9h0M1366.6 315.2h0M1369.3 332.4h0M1374.5 353.4h0M1371.8 275.5h0M1352.9 307.1h0M1374.8 328.8h0M1355 350.8h0M1369.4 332.4h0M1362.7 310.7h0M1372.1 298.3h0M1342.9 305.3h0M1339 313.2h0M1346.5 263.1h0M1357.4 263.1h0M1338.2 278.6h0M1372.2 273h0" stroke="#00963a" stroke-width="5.8" stroke-linecap="round" fill="none"/>
<path d="M1340.6 151.6h0M1346.5 203.4h0M1357.4 223.2h0M1374.2 223.2h0" stroke="#00963a" stroke-width="8" stroke-linecap="round" fill="none"/>
<path d="M1512.7 655.9h0M1519.8 628.3h0M1528.7 649.9h0M1517.2 646.3h0M1507.5 643.6h0M1500.8 657.4h0M1530.9 640.6h0M1538.1 639.8h0M1502.8 638.8h0M1535.6 660.2h0M1533.5 616.2h0M1503.9 548.3h0M1526.6 606.1h0M1501.1 562.4h0M1505.1 574.6h0M1517.9 542.2h0M1512.3 625.5h0M1534.8 625.8h0M1525.9 539.4h0M1536.4 626.6h0M1522.9 600.8h0M1518.9 551.6h0M1507 615.4h0M1503.3 554.8h0M1536.1 589.7h0M1504.1 586.5h0M1510.6 562.7h0M1511.2 549h0M1530.9 545.1h0M1518.4 609.2h0M1503.3 582.9h0M1510.3 536.9h0M1501.7 566.5h0M1538.5 533.1h0M1503.5 559.4h0M1515.2 561.5h0M1506.1 580.1h0M1531.9 611.8h0M1527.3 567.3h0M1512.6 554h0M1508.9 474.1h0M1513.7 463.7h0M1508.5 451h0M1502.2 490.7h0M1506 524.4h0M1513.4 526.6h0M1533.7 490.9h0M1538.8 524h0M1531.2 518.9h0M1507 493h0M1510.8 468.1h0M1503.5 526.7h0M1526 461.3h0M1507.2 430.4h0M1510.4 452.5h0M1508.1 477.4h0M1535.2 487.7h0M1513.4 503.4h0M1514.5 438.7h0M1517.9 448.1h0M1526 493.8h0M1511.8 463.9h0M1502.4 429.9h0M1526.1 444.5h0M1515.4 458.3h0M1501.4 454.5h0M1532.9 462.2h0M1527 488h0M1516.5 459.7h0M1515.8 452.4h0M1517.4 516.4h0M1504.4 454h0M1531.4 482.8h0M1532.7 526.9h0M1511.1 493.7h0M1519.5 459.4h0M1504.2 499.9h0M1534 486.8h0M1525.9 331.7h0M1524.5 361.1h0M1504.3 339.6h0M1531.8 415.4h0M1517.4 427.8h0M1535.4 390h0M1506.3 368.1h0M1515.3 423.4h0M1515.1 375.3h0M1501.7 372.4h0M1531.2 394.3h0M1505.1 401.2h0M1536.4 412.1h0M1512.7 344.1h0M1511.3 397.2h0M1535 342.8h0M1532.4 335.9h0M1503.1 362.7h0M1504.5 336.9h0M1510.9 356.9h0M1523.2 426.1h0M1533.9 404.6h0M1523.7 411.9h0M1501.4 386.7h0M1522.1 119.5h0M1518.8 203.1h0M1527.2 230.2h0M1530.5 230.2h0M1507.1 243.3h0M1503.1 259.3h0M1504.1 278.4h0M1516.8 287.4h0M1506.1 294.1h0M1525.5 306.2h0M1531.2 302.2h0M1537.2 303.5h0M1499 314.9h0M1507.1 315.5h0" stroke="#e8641e" stroke-width="5.4" stroke-linecap="round" fill="none"/>
<path d="M1328.1 611.2h0M1312.2 498.7h0M1331.2 460.2h0M1326.4 626.1h0M1330.4 602.8h0M1332.9 504h0M1331.7 554.3h0M1328.6 604.3h0M1304.5 571.3h0M1324.8 507.9h0M1329.4 447h0M1317.7 630.9h0M1314.2 499.9h0M1314.2 561.2h0M1304.1 600.1h0M1310.9 506.9h0M1305.5 553.7h0M1303.9 569.7h0M1303.9 575.6h0M1322 603.4h0M1320.9 548.9h0M1308.8 482.4h0M1314.9 632.2h0M1325.6 556.9h0M1305.9 645.5h0M1314.2 447.2h0M1332.4 546.5h0M1327.6 602.7h0M1326.4 651.2h0M1325.3 592.7h0M1331.7 654.5h0M1320.7 456.3h0M1324.2 621.6h0M1323.1 593.5h0M1313.3 633.2h0M1318 460.8h0M1310.3 454.3h0M1321.8 554.3h0M1326.6 518.6h0M1324.1 653.1h0M1316.2 488.7h0M1309.8 659.8h0M1321.9 658.5h0M1328.4 633.1h0M1318.5 622h0M1307.1 513.9h0M1332.6 561.4h0M1332.3 660.1h0M1331 643.1h0M1331.4 608.1h0M1326.8 480.6h0M1311.6 567.4h0M1322.5 632.5h0M1323.1 659.6h0M1320.3 461.9h0M1317.8 606.7h0M1322.6 562.3h0M1314.7 531.3h0M1302.7 471.1h0M1310.5 453.9h0M1310.9 520.5h0M1330.6 629.7h0M1253.2 415.8h0M1265.7 424.1h0M1305.9 413.5h0M1290.1 433.3h0M1305.9 445.2h0M1170.4 458.4h0M1144.4 471.5h0M1300.3 462.6h0M1303 474.2h0M1292.1 478.1h0M1301 479.1h0M1207 498.2h0M1303 491.7h0M1290.1 502.2h0M1286.5 508.1h0M1305.3 514.4h0M1230.4 525.3h0M1298.7 524.3h0M1305.3 531.9h0M1253.2 543.1h0M1259.1 545.1h0M1277.6 541.1h0M1303 554.3h0M1264.1 563.9h0M1217.9 580.3h0M1245 577.4h0M1270 577h0M1270.3 582.3h0M1303 577h0M1304 596.8h0M1285.2 615.6h0M1276.6 621.9h0M1305 614h0M1307 621.5h0M1303.5 624h0M1306.3 636.7h0M1260.8 644.6h0M1288.8 639h0M1286.5 641.7h0M1295.4 649.2h0M1326.7 314.8h0M1325 318h0M1313.5 319.1h0M1326.7 326.4h0M1323.4 328.7h0M1303 347.1h0M1314.5 346.1h0M1286.2 353.7h0M1253.5 375.2h0M1333.3 373.5h0M1330 395.6h0" stroke="#0068b7" stroke-width="8" stroke-linecap="round" fill="none"/>
<path d="M1564.6 103.4h0M1712.9 203.1h0M1547.2 263.3h0M1557.3 297.5h0M1552.3 314.2h0M1553.3 349.7h0M1553.3 358.7h0M1550.2 367.1h0M1552.3 400.7h0M1563 408.9h0M1674 431.7h0M1583.4 229.2h0M1577.3 329.6h0M1635.2 333h0M1850 371.4h0M1705 147h0M1585.7 425h0M1614 428h0M1546.2 468.9h0M1602.8 517.8h0M1570.7 529.8h0M1551.2 547.2h0M1572.3 569h0M1554.6 584h0M1568.3 598.4h0M1629.2 590.7h0M1611.1 629.5h0M1549.2 643.3h0M1576.7 665h0M1554.6 672.7h0M1568.3 675.7h0M1640.3 670.4h0M1811.6 477h0M1641.6 492h0" stroke="#e60012" stroke-width="8" stroke-linecap="round" fill="none"/>
<line x1="1333" y1="35" x2="1333" y2="770.5" stroke="#e60012" stroke-width="1.9" stroke-dasharray="2.6 1.85"/>
<line x1="1542.6" y1="35" x2="1542.6" y2="770.5" stroke="#e60012" stroke-width="1.9" stroke-dasharray="2.6 1.85"/>
<line x1="1376.5" y1="35" x2="1376.5" y2="770.5" stroke="#00963a" stroke-width="1.9" stroke-dasharray="2.6 1.85"/>
<line x1="1499.1" y1="35" x2="1499.1" y2="770.5" stroke="#00963a" stroke-width="1.9" stroke-dasharray="2.6 1.85"/>
<line x1="1044" y1="676.7" x2="1856" y2="676.7" stroke="#e60012" stroke-width="1.9" stroke-dasharray="2.6 1.85"/>
<circle cx="1602.1" cy="116.1" r="10.3" fill="#ffec00" stroke="#000" stroke-width="3.3"/>
<circle cx="1715.9" cy="146.2" r="10.3" fill="#ffec00" stroke="#000" stroke-width="3.3"/>
<circle cx="1592.7" cy="222.5" r="10.3" fill="#ffec00" stroke="#000" stroke-width="3.3"/>
<circle cx="1636.9" cy="233.9" r="10.3" fill="#ffec00" stroke="#000" stroke-width="3.3"/>
<circle cx="1601.8" cy="271.4" r="10.3" fill="#ffec00" stroke="#000" stroke-width="3.3"/>
<circle cx="1620.8" cy="281.8" r="10.3" fill="#ffec00" stroke="#000" stroke-width="3.3"/>
<circle cx="1587.4" cy="323.2" r="10.3" fill="#ffec00" stroke="#000" stroke-width="3.3"/>
<circle cx="1644.3" cy="328.6" r="10.3" fill="#ffec00" stroke="#000" stroke-width="3.3"/>
<circle cx="1660.3" cy="344" r="10.3" fill="#ffec00" stroke="#000" stroke-width="3.3"/>
<circle cx="1863.1" cy="343.7" r="10.3" fill="#ffec00" stroke="#000" stroke-width="3.3"/>
<circle cx="1859.4" cy="369.4" r="10.3" fill="#ffec00" stroke="#000" stroke-width="3.3"/>
<circle cx="1609.5" cy="378.1" r="10.3" fill="#ffec00" stroke="#000" stroke-width="3.3"/>
<circle cx="1562.6" cy="423.2" r="10.3" fill="#ffec00" stroke="#000" stroke-width="3.3"/>
<circle cx="1593.4" cy="417.8" r="10.3" fill="#ffec00" stroke="#000" stroke-width="3.3"/>
<circle cx="1620.8" cy="421" r="10.3" fill="#ffec00" stroke="#000" stroke-width="3.3"/>
<circle cx="1626.2" cy="428.7" r="10.3" fill="#ffec00" stroke="#000" stroke-width="3.3"/>
<circle cx="1578" cy="462.9" r="10.3" fill="#ffec00" stroke="#000" stroke-width="3.3"/>
<circle cx="1666" cy="476.3" r="10.3" fill="#ffec00" stroke="#000" stroke-width="3.3"/>
<circle cx="1650.3" cy="487.7" r="10.3" fill="#ffec00" stroke="#000" stroke-width="3.3"/>
<circle cx="1747" cy="463.9" r="10.3" fill="#ffec00" stroke="#000" stroke-width="3.3"/>
<circle cx="1571.3" cy="543.2" r="10.3" fill="#ffec00" stroke="#000" stroke-width="3.3"/>
<circle cx="1617.2" cy="546.6" r="10.3" fill="#ffec00" stroke="#000" stroke-width="3.3"/>
<line x1="1599.1" y1="272.7" x2="1630.2" y2="258.7" stroke="#000" stroke-width="3"/>
<line x1="1585" y1="324.6" x2="1603.1" y2="309.5" stroke="#000" stroke-width="3"/>
<line x1="1620.8" y1="421" x2="1696.1" y2="392.5" stroke="#000" stroke-width="3"/>
<line x1="1625.9" y1="431.7" x2="1669.4" y2="416.6" stroke="#000" stroke-width="3"/>
<line x1="1591.4" y1="428.4" x2="1607.5" y2="445.2" stroke="#000" stroke-width="3"/>
<line x1="1664.3" y1="487.7" x2="1682.1" y2="510.4" stroke="#000" stroke-width="3"/>
<line x1="1647.6" y1="498.7" x2="1655" y2="519.8" stroke="#000" stroke-width="3"/>
<line x1="1571.3" y1="553.9" x2="1590.1" y2="574.7" stroke="#000" stroke-width="3"/>
<g fill="#00963a" font-weight="bold" font-size="23.4">
<text x="1628.2" y="103.7">UD16</text>
<text x="1744" y="155.6">EST2C</text>
<text x="1595.1" y="205.8">HYEP</text>
<text x="1654.3" y="243.3">GSTM1</text>
<text x="1632.6" y="268.7">GSTM6</text>
<text x="1640.9" y="293.8">GSH1</text>
<text x="1608.1" y="313.5">GSTA1</text>
<text x="1673" y="335.6">ENTP5</text>
<text x="1672.7" y="364.1">SRXN1</text>
<text x="1880.8" y="344.7">p62</text>
<text x="1864.4" y="398.2">CBR3</text>
<text x="1622.2" y="387.5">AMPD3</text>
<text x="1708.5" y="397.2">UD19</text>
<text x="1677.7" y="425">HTAI2</text>
<text x="1487.7" y="458.6">BLVRB</text>
<text x="1593.4" y="463.6">MBLC2</text>
<text x="1574" y="497">CYB5</text>
<text x="1732.9" y="495.4">GSTM3</text>
<text x="1686.4" y="518.1">NQO1</text>
<text x="1652" y="539.9">PTGR1</text>
<text x="1632.2" y="568.3">FMO1</text>
<text x="1590.1" y="597.4">HMOX1</text>
</g>
<line x1="1019.1" y1="34.6" x2="1019.1" y2="775.6" stroke="#000" stroke-width="2.6"/>
<line x1="1011.5" y1="774.6" x2="1880" y2="774.6" stroke="#000" stroke-width="2.6"/>
<line x1="1011.5" y1="774.6" x2="1019.1" y2="774.6" stroke="#000" stroke-width="2.6"/>
<text x="996" y="784.6" font-size="27.6" text-anchor="end" font-weight="bold">0</text>
<line x1="1011.5" y1="528.2" x2="1019.1" y2="528.2" stroke="#000" stroke-width="2.6"/>
<text x="996" y="538.2" font-size="27.6" text-anchor="end" font-weight="bold">5</text>
<line x1="1011.5" y1="281.9" x2="1019.1" y2="281.9" stroke="#000" stroke-width="2.6"/>
<text x="996" y="291.9" font-size="27.6" text-anchor="end" font-weight="bold">10</text>
<line x1="1011.5" y1="35.5" x2="1019.1" y2="35.5" stroke="#000" stroke-width="2.6"/>
<text x="996" y="45.5" font-size="27.6" text-anchor="end" font-weight="bold">15</text>
<line x1="1018.4" y1="774.6" x2="1018.4" y2="782" stroke="#000" stroke-width="2.6"/>
<text x="1017.9" y="821.3" font-size="27.6" text-anchor="middle" font-weight="bold">−4</text>
<line x1="1228.1" y1="774.6" x2="1228.1" y2="782" stroke="#000" stroke-width="2.6"/>
<text x="1227.6" y="821.3" font-size="27.6" text-anchor="middle" font-weight="bold">−2</text>
<line x1="1437.8" y1="774.6" x2="1437.8" y2="782" stroke="#000" stroke-width="2.6"/>
<text x="1437.8" y="821.3" font-size="27.6" text-anchor="middle" font-weight="bold">0</text>
<line x1="1647.5" y1="774.6" x2="1647.5" y2="782" stroke="#000" stroke-width="2.6"/>
<text x="1647.5" y="821.3" font-size="27.6" text-anchor="middle" font-weight="bold">2</text>
<line x1="1857.2" y1="774.6" x2="1857.2" y2="782" stroke="#000" stroke-width="2.6"/>
<text x="1857.2" y="821.3" font-size="27.6" text-anchor="middle" font-weight="bold">4</text>
<text x="1330" y="866.5" font-size="31.5">log<tspan font-size="22" dy="8">2</tspan><tspan dy="-8">(fold change)</tspan></text>
<text transform="translate(934.5 607.5) rotate(-90)" font-size="31.5" fill="#231815">–log<tspan font-size="22" dy="8">10</tspan><tspan dy="-8">(adjusted p-value)</tspan></text>
<text x="1052" y="667.7" font-size="21.6" fill="#231815"><tspan font-style="italic">p</tspan> = 0.01</text>
</g>
<g id="pb">
<text x="-2.5" y="965.7" font-size="43.3" font-weight="bold">b</text>
<rect x="35" y="1142" width="138" height="139" filter="url(#n1)"/>
<rect x="184" y="1142" width="138" height="139" filter="url(#n2)"/>
<circle cx="229.5" cy="1249.6" r="6" fill="#000" opacity="0.75" filter="url(#sb)"/>
<circle cx="246.1" cy="1193.1" r="6" fill="#000" opacity="0.75" filter="url(#sb)"/>
<circle cx="315.1" cy="1172.4" r="6" fill="#000" opacity="0.75" filter="url(#sb)"/>
<g filter="url(#sb)"><path d="M258.7 1225.4h0M275.5 1265.9h0M293 1199.4h0M257 1170.2h0M315.6 1154.3h0M201.5 1216.6h0M199 1195h0M268.2 1245.5h0M292.3 1271.6h0M265.4 1251.9h0M316.5 1216.8h0M274.9 1254h0M295.6 1177.4h0M245 1243.6h0M213.6 1159.7h0M251.2 1168.1h0M277.3 1270.2h0M246.5 1238.5h0M281 1213.4h0M236.1 1240.2h0M238.9 1240.8h0M206.4 1205.6h0M190.7 1220h0M204 1228.7h0M207.9 1166.7h0M267.6 1276.7h0M217.7 1245.3h0M204.2 1215.8h0M287 1215.5h0M230.9 1236.2h0M259.6 1232.2h0M250.3 1243h0M193.3 1264.3h0M220.6 1179.1h0M312.5 1276.7h0M266.1 1252.4h0M264.4 1227.6h0M262.6 1163.1h0M210.4 1176.9h0M235.6 1220.5h0M216.5 1225.7h0M266 1272.6h0M275 1176.8h0M242.6 1264.1h0M269.8 1250.9h0M215.8 1185h0M228.6 1229.1h0M196.6 1210.4h0M269.4 1273.2h0M292.1 1243h0M258.1 1255.4h0M190.7 1157.8h0M295.9 1272h0M191.7 1274.2h0M285.9 1262.5h0M190.6 1216.5h0M187.2 1255.5h0M279.9 1260.1h0M232.5 1268.5h0M193.8 1215.1h0M288.2 1209h0M252 1227.8h0M250.8 1251.6h0M265.5 1155.4h0M303.4 1232h0M244.9 1247.5h0M238 1264.7h0M275.7 1269.8h0M306.1 1218.5h0M211.1 1231h0M220.2 1192.6h0M247.7 1184h0M257.4 1220.8h0M282.5 1259h0M264.2 1177.9h0M232.2 1179.5h0M206 1239.7h0M234.7 1192.6h0M309.2 1225.3h0M214.8 1270.1h0M267.7 1158.9h0M281.8 1243.5h0M200 1225.9h0M278.9 1265.1h0M244.6 1240.1h0M256.8 1236.8h0M298.2 1145h0M260.5 1268.8h0M282.5 1183.2h0M228.4 1166.6h0M303.4 1190.9h0M276.8 1264.3h0M318.2 1223.7h0M201.1 1211.9h0" stroke="#bbb" stroke-width="1.2" stroke-linecap="round" fill="none" opacity="0.5"/>
<path d="M206.5 1266h0M223.2 1235.4h0M260.5 1247.3h0M185.5 1215h0M248.4 1242h0M185.8 1209.2h0M296.6 1207.1h0M241.7 1246.3h0M193.4 1200.9h0M283.4 1191.8h0M270.5 1215h0M277.3 1251.9h0M235 1242.5h0M218.5 1233.9h0M212 1209.9h0M213.8 1204.8h0M243.1 1230.6h0M303.9 1190.9h0M270.3 1253.5h0M284.4 1239.6h0M230.4 1230h0M262 1274.5h0M238.6 1225.4h0M251.9 1234.9h0M292.9 1193.4h0M253.6 1238.3h0M237.3 1232.3h0M223.1 1199.7h0M194.7 1208.9h0M278.5 1224.6h0M284.7 1172.2h0M298.7 1206.9h0M259.4 1209.1h0M302.4 1152.4h0M299.7 1216.5h0M241.9 1246.8h0M239.7 1240.3h0M240.2 1251.5h0M253.4 1270.5h0M243.7 1249.4h0M195.8 1218.8h0M314 1226.3h0M319.4 1231.2h0M185.5 1247.6h0M215.1 1231.8h0M214.2 1166.1h0M289 1261.8h0M192.3 1206.4h0M258.1 1163.2h0M215.2 1203.9h0M257.6 1244h0" stroke="#e0e0e0" stroke-width="1.7" stroke-linecap="round" fill="none" opacity="0.8"/>
<path d="M307 1208.6h0M277.8 1223.4h0M219.3 1183.5h0M247.5 1257.9h0M314.8 1213.7h0M216.8 1235.6h0M254.3 1256.2h0M253.5 1262.3h0M191.6 1176.5h0M297.1 1212.3h0M240.7 1232.9h0M270.6 1243.1h0M291.7 1207.5h0M306.5 1202.7h0M187.7 1215.2h0M237.4 1237.5h0M272.9 1249.8h0M283.6 1145.5h0M246.5 1239.4h0M217.9 1212h0M273.6 1274h0M289.7 1210.7h0M218 1207.7h0M187.6 1202.3h0M273.8 1263.1h0" stroke="#fff" stroke-width="2.4" stroke-linecap="round" fill="none" opacity="0.95"/>
</g>
<rect x="261" y="1219" width="61" height="62" filter="url(#n3)"/>
<g filter="url(#sb)"><path d="M287.8 1277.7h0M317.8 1243.4h0M317.1 1241h0M290.1 1230.3h0M292 1264.5h0M281.5 1239.3h0M289.7 1242.8h0M303.7 1231.2h0M274.4 1233.5h0M315.6 1231h0M308.3 1268.9h0M308.9 1240h0M282.3 1270.7h0M305 1228.1h0" stroke="#bbb" stroke-width="2.3" stroke-linecap="round" fill="none" opacity="0.5"/>
<path d="M306.2 1231.3h0M268.1 1268h0M306.3 1228.1h0M293.6 1236.9h0M284.6 1252h0M271.4 1258h0M294.6 1252.5h0M300.1 1235.7h0" stroke="#e0e0e0" stroke-width="3.2" stroke-linecap="round" fill="none" opacity="0.8"/>
<path d="M301.3 1262.8h0M303.5 1238.2h0M299.5 1234.5h0M295.9 1231.6h0" stroke="#fff" stroke-width="4.6" stroke-linecap="round" fill="none" opacity="0.95"/>
</g>
<path d="M261.8 1281V1219.8H322" fill="none" stroke="#fff" stroke-width="1.7"/>
<rect x="332" y="1142" width="138" height="139" filter="url(#n4)"/>
<g filter="url(#sb)"><path d="M378 1228.5h0M450.7 1220.6h0M466.6 1218.9h0M377.3 1226.5h0M336.8 1206h0M431.6 1160.4h0M354.3 1204.1h0M400.5 1275.9h0M366.9 1207h0M399.1 1198h0M377 1204.4h0M347.3 1225.1h0M462.9 1174.4h0M351 1221.2h0M444.4 1229.9h0M346.6 1205.2h0M453.4 1199h0M335.5 1244.5h0M454.2 1218.1h0M356.9 1216.7h0M396.8 1196h0M371.9 1199.3h0M465.4 1160.4h0M346.1 1218.7h0M364.5 1250.2h0M383 1209.6h0M380.7 1236.5h0M366.3 1192.2h0M428.3 1216.8h0M353.6 1235.6h0M362.5 1199.2h0M357.6 1208.2h0M361.2 1202.1h0M369.4 1212.6h0M345.7 1220.3h0M408 1160h0M366.8 1210.1h0M468.3 1160.5h0M375 1213.5h0M353.5 1245.1h0M451.6 1221.8h0M457.4 1167.1h0M380.7 1222.7h0M351.8 1182.3h0M452.8 1263.2h0M430.1 1251.2h0M354.8 1259.2h0M433.6 1226.6h0M402.8 1215.7h0M443.4 1208.1h0M411.1 1152.5h0M428.9 1223.6h0M382.4 1233.5h0M353.8 1206.3h0M345.7 1273.6h0M365.9 1176.1h0M363.1 1204.2h0M466.9 1211.3h0M364.5 1165.6h0M429.7 1242.4h0M376.1 1219.6h0M340.6 1239.2h0M423.8 1164.2h0M435.5 1215.5h0M358.2 1217.7h0M339.9 1219.8h0M401.1 1226.6h0M383 1212.5h0M387.7 1175h0M461.5 1180.5h0M364 1186h0M334.1 1246.1h0M455 1224.8h0M415.1 1204.1h0M338.3 1251.5h0M337 1227.1h0M457.6 1230.7h0M406.7 1274.4h0M369.8 1241.1h0M336.9 1236.7h0M335.1 1200.8h0M385.4 1242.5h0" stroke="#bbb" stroke-width="1.2" stroke-linecap="round" fill="none" opacity="0.5"/>
<path d="M444.3 1246.7h0M418.4 1266.2h0M367.4 1274.6h0M415.4 1168.9h0M413.6 1192.4h0M432.1 1238.1h0M428.5 1188.8h0M400.6 1230.4h0M352.8 1192.7h0M445.2 1186.2h0M409 1160.4h0M393.2 1208.6h0M415.2 1158.3h0M417.4 1196.9h0M347.7 1235.3h0M415.8 1169.8h0M429.1 1166.3h0M363.7 1269h0M460 1221.6h0M393.2 1197.7h0M411 1157.5h0M339.5 1147.6h0M373.9 1182.6h0M339.4 1225.5h0M450.8 1176.9h0M467.1 1166.5h0M383.1 1269.2h0M353.8 1201.1h0M399.6 1151.6h0M361.3 1217h0M367.4 1216.1h0M465.6 1208.4h0M355.1 1205.4h0M345.7 1235.7h0M371 1187.1h0M357.9 1272.9h0M335.2 1203.9h0M432.4 1266h0M436.9 1212h0M391.3 1261.3h0M399.4 1155.3h0M337.4 1220.3h0M425.6 1188.2h0M454 1160.7h0M399.4 1228.2h0" stroke="#e0e0e0" stroke-width="1.7" stroke-linecap="round" fill="none" opacity="0.8"/>
<path d="M365.6 1254.2h0M373.3 1199.5h0M422.2 1185.2h0M352.2 1265.3h0M340.9 1250.5h0M374.2 1200.1h0M370.4 1261.8h0M372.1 1243.6h0M453.3 1215.5h0M449.5 1216.9h0M443.2 1228.4h0M340.5 1266.1h0M337.3 1207.8h0M344.6 1214.7h0M392.5 1249.8h0M399.8 1195h0M360.3 1197.1h0M363 1253.4h0M361.1 1233.9h0M456 1199.3h0M434.1 1222.7h0M365.6 1211.5h0" stroke="#fff" stroke-width="2.4" stroke-linecap="round" fill="none" opacity="0.95"/>
<circle cx="427.2" cy="1151.7" r="3.2" fill="#fff"/><circle cx="340.3" cy="1183.4" r="3" fill="#ddd"/><circle cx="401" cy="1223.4" r="4.6" fill="#ddd"/><circle cx="459" cy="1150.3" r="2" fill="#fff"/><circle cx="414.8" cy="1187.5" r="2" fill="#ccc"/><circle cx="338.9" cy="1252.4" r="2.5" fill="#bbb"/></g>
<rect x="409" y="1219" width="61" height="62" filter="url(#n5)"/>
<g filter="url(#sb)"><path d="M428.9 1267.3h0M436.1 1223.6h0M438.1 1264.7h0M449.9 1231.5h0M428.1 1263.1h0M427.2 1234.5h0M425.5 1263.6h0M423.7 1275.4h0M458.9 1257.2h0M433.8 1234.3h0M453.2 1235.1h0M426.5 1267h0M424.5 1231h0M432.2 1253.3h0" stroke="#bbb" stroke-width="2.3" stroke-linecap="round" fill="none" opacity="0.5"/>
<path d="M423.6 1248.6h0M422.3 1244.1h0M425.5 1257.2h0M425.7 1265.1h0M453.6 1262.1h0M423.1 1255.3h0M427.6 1257.2h0M424.8 1264.3h0" stroke="#e0e0e0" stroke-width="3.2" stroke-linecap="round" fill="none" opacity="0.8"/>
<path d="M431 1239.7h0M431.7 1229.3h0M429.7 1266.9h0M418.1 1259.1h0" stroke="#fff" stroke-width="4.6" stroke-linecap="round" fill="none" opacity="0.95"/>
<ellipse cx="433.4" cy="1234.5" rx="5.5" ry="6.5" fill="#fff"/></g>
<path d="M409.8 1281V1219.8H470" fill="none" stroke="#fff" stroke-width="1.7"/>
<rect x="35" y="1284" width="138" height="138" filter="url(#n6)"/>
<ellipse cx="115.5" cy="1334.7" rx="6" ry="7" fill="#000" opacity="0.22" filter="url(#sb3)"/>
<ellipse cx="142.1" cy="1344" rx="7.7" ry="6.5" fill="#000" opacity="0.22" filter="url(#sb3)"/>
<ellipse cx="95.5" cy="1337.4" rx="6.4" ry="6.7" fill="#000" opacity="0.22" filter="url(#sb3)"/>
<ellipse cx="56.1" cy="1396.5" rx="7.5" ry="7.5" fill="#000" opacity="0.22" filter="url(#sb3)"/>
<ellipse cx="136.1" cy="1375.5" rx="6.9" ry="8.7" fill="#000" opacity="0.22" filter="url(#sb3)"/>
<ellipse cx="110.7" cy="1406.9" rx="6.8" ry="7.1" fill="#000" opacity="0.22" filter="url(#sb3)"/>
<ellipse cx="52.8" cy="1388.9" rx="7.9" ry="8.4" fill="#000" opacity="0.22" filter="url(#sb3)"/>
<ellipse cx="89.4" cy="1402.4" rx="8.3" ry="8.4" fill="#000" opacity="0.22" filter="url(#sb3)"/>
<ellipse cx="49.1" cy="1391.1" rx="8.9" ry="8.2" fill="#000" opacity="0.22" filter="url(#sb3)"/>
<ellipse cx="97.4" cy="1366.9" rx="6.8" ry="6.6" fill="#000" opacity="0.22" filter="url(#sb3)"/>
<rect x="184" y="1284" width="138" height="138" filter="url(#n7)"/>
<circle cx="229.5" cy="1391.6" r="6" fill="#000" opacity="0.35" filter="url(#sb)"/>
<circle cx="246.1" cy="1335.1" r="6" fill="#000" opacity="0.35" filter="url(#sb)"/>
<circle cx="315.1" cy="1314.4" r="6" fill="#000" opacity="0.35" filter="url(#sb)"/>
<circle cx="193.7" cy="1311.6" r="6" fill="#000" opacity="0.35" filter="url(#sb)"/>
<g filter="url(#sb)"><path d="M243.8 1380.6h0M302.4 1411.8h0M258.7 1367.4h0M275.5 1407.9h0M293 1341.4h0M257 1312.2h0M315.6 1296.3h0M201.5 1358.6h0M224.6 1380.3h0M269.8 1299.7h0M301.9 1352.2h0M234.4 1369.3h0M276.9 1296.1h0M229.2 1399h0M307.2 1355.5h0M271.4 1393.4h0M245 1385.6h0M213.6 1301.7h0M251.2 1310.1h0M277.3 1412.2h0M246.5 1380.5h0M281 1355.4h0M236.1 1382.2h0M238.9 1382.8h0M218.4 1370h0M256.7 1395.2h0M312.8 1365.9h0M262.3 1382h0M224 1385.6h0M199.8 1331.9h0M236.6 1397.2h0M227.5 1381.9h0M251.3 1403.8h0M200.3 1375.7h0M313.4 1348h0M219.7 1392.8h0M286.9 1400h0M243 1355.3h0M202.2 1337.1h0M256.9 1409h0M296.8 1386h0M224.5 1310.4h0M273 1416.1h0M267.7 1369.6h0M256.5 1374.8h0M265.9 1405.4h0M311.3 1360.3h0M314.6 1358.2h0M313.5 1372.5h0M201.6 1331.4h0M272 1380.6h0M292.1 1385h0M258.1 1397.4h0M190.7 1299.8h0" stroke="#aaa" stroke-width="1.2" stroke-linecap="round" fill="none" opacity="0.5"/>
<path d="M295.9 1414h0M191.7 1416.2h0M285.9 1404.5h0M190.6 1358.5h0M203.3 1346.7h0M283.2 1403.7h0M295.8 1420h0M257.1 1355.2h0M281.8 1391.9h0M203.4 1411.7h0M240.7 1390.8h0M286.6 1402.9h0M303.4 1374h0M244.9 1389.5h0M238 1406.7h0M275.7 1411.8h0M306.1 1360.5h0M211.1 1373h0M187.2 1360.4h0M193.4 1343.1h0M196.9 1371.7h0M287.3 1310.8h0M277.1 1385.3h0M298.7 1357.4h0M201.2 1329.8h0M292.9 1366.7h0M241.4 1384.7h0" stroke="#ddd" stroke-width="1.6" stroke-linecap="round" fill="none" opacity="0.75"/>
<path d="M200 1367.9h0M278.9 1407.1h0M244.6 1382.1h0M256.8 1378.8h0M298.2 1287h0M259.4 1404.7h0M289.2 1371.4h0M318.6 1355.2h0M220.7 1386.3h0" stroke="#fff" stroke-width="2.2" stroke-linecap="round" fill="none" opacity="0.95"/>
</g>
<rect x="261" y="1360" width="61" height="62" filter="url(#n8)"/>
<g filter="url(#sb)"><path d="M287.8 1418.7h0M317.8 1384.4h0M317.1 1382h0M290.1 1371.3h0M292 1405.5h0M281.5 1380.3h0M289.7 1383.8h0M303.7 1372.2h0M274.4 1374.5h0M315.6 1372h0M308.3 1409.9h0" stroke="#aaa" stroke-width="2.3" stroke-linecap="round" fill="none" opacity="0.5"/>
<path d="M308.9 1381h0M282.3 1411.7h0M305 1369.1h0M306.2 1372.3h0M268.1 1409h0M306.3 1369.1h0" stroke="#ddd" stroke-width="3" stroke-linecap="round" fill="none" opacity="0.75"/>
<path d="M293.6 1377.9h0M284.6 1393h0" stroke="#fff" stroke-width="4.2" stroke-linecap="round" fill="none" opacity="0.95"/>
</g>
<path d="M261.8 1422V1360.8H322" fill="none" stroke="#fff" stroke-width="1.7"/>
<rect x="332" y="1284" width="138" height="138" filter="url(#n9)"/>
<g filter="url(#sb)"><path d="M377.7 1352.6h0M381.1 1335.6h0M352.3 1354.9h0M380.8 1329.3h0M347.6 1418.6h0M380.1 1349.2h0M355.6 1371h0M384.1 1345.1h0M360.2 1419.2h0M436.5 1296.2h0M392.2 1309.2h0M339.8 1299.3h0M346.9 1376.5h0M399.2 1290.5h0M368.6 1396.3h0M413.1 1341.9h0M440.2 1369.1h0M339.7 1341h0M335.8 1359.8h0M457.4 1318.1h0M359.8 1408.7h0M371.9 1341.3h0M465.4 1302.4h0M346.1 1360.7h0M344.9 1405.5h0M357.1 1334.4h0M417.3 1304.8h0M347.4 1411.4h0M335 1348.4h0M437.4 1367.3h0M430.1 1412.9h0M357.6 1350.2h0M376.4 1330.2h0M349 1389h0M457.8 1310.7h0M408 1302h0M338.8 1353.7h0M358.5 1389.2h0M407.1 1308.7h0M346.5 1348.4h0M375 1355.5h0M353.5 1387.1h0M337.7 1393.6h0M442.3 1372.1h0" stroke="#bbb" stroke-width="1.2" stroke-linecap="round" fill="none" opacity="0.5"/>
<path d="M457.3 1323.9h0M373.6 1343.4h0M387.1 1369.3h0M354.8 1401.2h0M433.6 1368.6h0M402.8 1357.7h0M443.4 1350.1h0M411.1 1294.5h0M428.9 1365.6h0M382.4 1375.5h0M353.8 1348.3h0M345.7 1415.6h0M365.9 1318.1h0M365.7 1363.7h0M348.1 1404.7h0M355.6 1316.6h0M350.7 1377.5h0M418.2 1321.2h0M436.1 1348.6h0M411.9 1420.6h0M405.5 1406h0M423.8 1306.2h0M435.5 1357.5h0M342.8 1350.7h0" stroke="#e0e0e0" stroke-width="1.7" stroke-linecap="round" fill="none" opacity="0.8"/>
<path d="M380.7 1307.3h0M401.1 1368.6h0M383 1354.5h0M387.7 1317h0M359.1 1348.4h0M349.3 1408h0M381.7 1346.5h0M362.1 1353.6h0M458.4 1388.2h0M377.7 1359.9h0M457.6 1372.7h0M406.7 1416.4h0" stroke="#fff" stroke-width="2.4" stroke-linecap="round" fill="none" opacity="0.95"/>
<circle cx="427.2" cy="1293.7" r="3" fill="#fff"/><circle cx="340.3" cy="1325.4" r="3" fill="#ddd"/><circle cx="401" cy="1365.4" r="4.6" fill="#e0e0e0"/><circle cx="338.9" cy="1394.4" r="2.5" fill="#bbb"/></g>
<rect x="409" y="1360" width="61" height="62" filter="url(#n10)"/>
<g filter="url(#sb)"><path d="M428.9 1408.3h0M436.1 1364.6h0M438.1 1405.7h0M449.9 1372.5h0M428.1 1404.1h0M427.2 1375.5h0M425.5 1404.6h0M423.7 1416.4h0M458.9 1398.2h0" stroke="#bbb" stroke-width="2.3" stroke-linecap="round" fill="none" opacity="0.5"/>
<path d="M433.8 1375.3h0M453.2 1376.1h0M426.5 1408h0M424.5 1372h0M432.2 1394.3h0" stroke="#e0e0e0" stroke-width="3.2" stroke-linecap="round" fill="none" opacity="0.8"/>
<path d="M423.6 1389.6h0M422.3 1385.1h0M425.5 1398.2h0" stroke="#fff" stroke-width="4.6" stroke-linecap="round" fill="none" opacity="0.95"/>
<ellipse cx="433.4" cy="1375.5" rx="5.5" ry="6.5" fill="#fff"/></g>
<path d="M409.8 1422V1360.8H470" fill="none" stroke="#fff" stroke-width="1.7"/>
<rect x="35" y="1425" width="138" height="139" filter="url(#n11)"/>
<ellipse cx="115.5" cy="1476" rx="6" ry="7" fill="#000" opacity="0.22" filter="url(#sb3)"/>
<ellipse cx="142.1" cy="1485.4" rx="7.7" ry="6.5" fill="#000" opacity="0.22" filter="url(#sb3)"/>
<ellipse cx="95.5" cy="1478.8" rx="6.4" ry="6.7" fill="#000" opacity="0.22" filter="url(#sb3)"/>
<ellipse cx="56.1" cy="1538.4" rx="7.5" ry="7.5" fill="#000" opacity="0.22" filter="url(#sb3)"/>
<ellipse cx="136.1" cy="1517.2" rx="6.9" ry="8.7" fill="#000" opacity="0.22" filter="url(#sb3)"/>
<ellipse cx="110.7" cy="1548.9" rx="6.8" ry="7.1" fill="#000" opacity="0.22" filter="url(#sb3)"/>
<ellipse cx="52.8" cy="1530.7" rx="7.9" ry="8.4" fill="#000" opacity="0.22" filter="url(#sb3)"/>
<ellipse cx="89.4" cy="1544.4" rx="8.3" ry="8.4" fill="#000" opacity="0.22" filter="url(#sb3)"/>
<ellipse cx="49.1" cy="1532.9" rx="8.9" ry="8.2" fill="#000" opacity="0.22" filter="url(#sb3)"/>
<line x1="38.6" y1="1559.7" x2="73.6" y2="1559.7" stroke="#fff" stroke-width="1.8"/>
<rect x="184" y="1425" width="138" height="139" filter="url(#n12)"/>
<circle cx="229.5" cy="1532.6" r="6" fill="#000" opacity="0.75" filter="url(#sb)"/>
<circle cx="246.1" cy="1476.1" r="6" fill="#000" opacity="0.75" filter="url(#sb)"/>
<g filter="url(#sb)"><path d="M258.7 1508.4h0M275.5 1548.9h0M293 1482.4h0M257 1453.2h0M315.6 1437.3h0M201.5 1499.6h0M199 1478h0M268.2 1528.5h0M292.3 1554.6h0M265.4 1534.9h0M316.5 1499.8h0M274.9 1537h0M295.6 1460.4h0M245 1526.6h0M213.6 1442.7h0M251.2 1451.1h0M277.3 1553.2h0M246.5 1521.5h0M281 1496.4h0M236.1 1523.2h0M238.9 1523.8h0M206.4 1488.6h0M190.7 1503h0M204 1511.7h0M207.9 1449.7h0M267.6 1559.7h0M217.7 1528.3h0M204.2 1498.8h0M287 1498.5h0M230.9 1519.2h0M259.6 1515.2h0M250.3 1526h0M193.3 1547.3h0M220.6 1462.1h0M312.5 1559.7h0M266.1 1535.4h0M264.4 1510.6h0M262.6 1446.1h0M210.4 1459.9h0M235.6 1503.5h0M216.5 1508.7h0M266 1555.6h0M275 1459.8h0M242.6 1547.1h0M269.8 1533.9h0M215.8 1468h0M228.6 1512.1h0M196.6 1493.4h0M269.4 1556.2h0M292.1 1526h0M258.1 1538.4h0M190.7 1440.8h0" stroke="#3fae10" stroke-width="1.3" stroke-linecap="round" fill="none" opacity="0.8"/>
<path d="M295.9 1555h0M191.7 1557.2h0M285.9 1545.5h0M190.6 1499.5h0M187.2 1538.5h0M279.9 1543.1h0M232.5 1551.5h0M193.8 1498.1h0M288.2 1492h0M252 1510.8h0M250.8 1534.6h0M265.5 1438.4h0M303.4 1515h0M244.9 1530.5h0M238 1547.7h0M275.7 1552.8h0M306.1 1501.5h0M211.1 1514h0M220.2 1475.6h0M247.7 1467h0M257.4 1503.8h0M282.5 1542h0M264.2 1460.9h0M232.2 1462.5h0M206 1522.7h0M234.7 1475.6h0M309.2 1508.3h0M214.8 1553.1h0M267.7 1441.9h0M281.8 1526.5h0M200 1508.9h0M278.9 1548.1h0M244.6 1523.1h0M256.8 1519.8h0M298.2 1428h0M260.5 1551.8h0M282.5 1466.2h0M228.4 1449.6h0M303.4 1473.9h0M276.8 1547.3h0M318.2 1506.7h0M201.1 1494.9h0M206.5 1549h0M223.2 1518.4h0M260.5 1530.3h0" stroke="#7ed600" stroke-width="1.8" stroke-linecap="round" fill="none" opacity="0.95"/>
<path d="M185.5 1498h0M248.4 1525h0M185.8 1492.2h0M296.6 1490.1h0M241.7 1529.3h0M193.4 1483.9h0M283.4 1474.8h0M270.5 1498h0M277.3 1534.9h0M235 1525.5h0M218.5 1516.9h0M212 1492.9h0M213.8 1487.8h0M243.1 1513.6h0M303.9 1473.9h0M270.3 1536.5h0M284.4 1522.6h0M230.4 1513h0M262 1557.5h0M238.6 1508.4h0M251.9 1517.9h0M292.9 1476.4h0M253.6 1521.3h0M237.3 1515.3h0M223.1 1482.7h0M194.7 1491.9h0M278.5 1507.6h0M284.7 1455.2h0M298.7 1489.9h0M259.4 1492.1h0M302.4 1435.4h0M299.7 1499.5h0M241.9 1529.8h0M239.7 1523.3h0M240.2 1534.5h0M253.4 1553.5h0M243.7 1532.4h0M195.8 1501.8h0" stroke="#e6e000" stroke-width="2" stroke-linecap="round" fill="none"/>
<path d="M314 1509.3h0M319.4 1514.2h0M185.5 1530.6h0M215.1 1514.8h0M214.2 1449.1h0M289 1544.8h0M192.3 1489.4h0M258.1 1446.2h0M215.2 1486.9h0M257.6 1527h0M307 1491.6h0M277.8 1506.4h0M219.3 1466.5h0M247.5 1540.9h0M314.8 1496.7h0" stroke="#ffe800" stroke-width="2.8" stroke-linecap="round" fill="none"/>
</g>
<rect x="202.1" y="1460.1" width="28" height="28" fill="none" stroke="#fff" stroke-width="1.4"/>
<rect x="261" y="1502" width="61" height="62" filter="url(#n13)"/>
<g filter="url(#sb)"><path d="M287.8 1560.7h0M317.8 1526.4h0M317.1 1524h0M290.1 1513.3h0M292 1547.5h0M281.5 1522.3h0M289.7 1525.8h0M303.7 1514.2h0M274.4 1516.5h0" stroke="#3fae10" stroke-width="2.5" stroke-linecap="round" fill="none" opacity="0.8"/>
<path d="M315.6 1514h0M308.3 1551.9h0M308.9 1523h0M282.3 1553.7h0M305 1511.1h0M306.2 1514.3h0M268.1 1551h0M306.3 1511.1h0" stroke="#7ed600" stroke-width="3.4" stroke-linecap="round" fill="none" opacity="0.95"/>
<path d="M293.6 1519.9h0M284.6 1535h0M271.4 1541h0M294.6 1535.5h0M300.1 1518.7h0M301.3 1545.8h0" stroke="#e6e000" stroke-width="3.8" stroke-linecap="round" fill="none"/>
<path d="M303.5 1521.2h0M299.5 1517.5h0M295.9 1514.6h0" stroke="#ffe800" stroke-width="5.3" stroke-linecap="round" fill="none"/>
</g>
<path d="M261.8 1564V1502.8H322" fill="none" stroke="#fff" stroke-width="1.7"/>
<line x1="187.6" y1="1559.7" x2="222.6" y2="1559.7" stroke="#fff" stroke-width="1.8"/>
<rect x="332" y="1425" width="138" height="139" filter="url(#n14)"/>
<g filter="url(#sb)"><path d="M378 1511.5h0M450.7 1503.6h0M466.6 1501.9h0M377.3 1509.5h0M336.8 1489h0M431.6 1443.4h0M354.3 1487.1h0M400.5 1558.9h0M366.9 1490h0M399.1 1481h0M377 1487.4h0M347.3 1508.1h0M462.9 1457.4h0M351 1504.2h0M444.4 1512.9h0M346.6 1488.2h0M453.4 1482h0M335.5 1527.5h0M454.2 1501.1h0M356.9 1499.7h0M396.8 1479h0M371.9 1482.3h0M465.4 1443.4h0M346.1 1501.7h0M364.5 1533.2h0M383 1492.6h0M380.7 1519.5h0M366.3 1475.2h0M428.3 1499.8h0M353.6 1518.6h0M362.5 1482.2h0M357.6 1491.2h0M361.2 1485.1h0M369.4 1495.6h0M345.7 1503.3h0M408 1443h0M366.8 1493.1h0M468.3 1443.5h0M375 1496.5h0M353.5 1528.1h0M451.6 1504.8h0M457.4 1450.1h0M380.7 1505.7h0M351.8 1465.3h0M452.8 1546.2h0M430.1 1534.2h0M354.8 1542.2h0M433.6 1509.6h0M402.8 1498.7h0M443.4 1491.1h0M411.1 1435.5h0M428.9 1506.6h0M382.4 1516.5h0M353.8 1489.3h0M345.7 1556.6h0M365.9 1459.1h0M363.1 1487.2h0M466.9 1494.3h0M364.5 1448.6h0M429.7 1525.4h0M376.1 1502.6h0M340.6 1522.2h0M423.8 1447.2h0" stroke="#2fb010" stroke-width="1.4" stroke-linecap="round" fill="none" opacity="0.85"/>
<path d="M435.5 1498.5h0M358.2 1500.7h0M339.9 1502.8h0M401.1 1509.6h0M383 1495.5h0M387.7 1458h0M461.5 1463.5h0M364 1469h0M334.1 1529.1h0M455 1507.8h0M415.1 1487.1h0M338.3 1534.5h0M337 1510.1h0M457.6 1513.7h0M406.7 1557.4h0M369.8 1524.1h0M336.9 1519.7h0M335.1 1483.8h0M385.4 1525.5h0M444.3 1529.7h0M418.4 1549.2h0M367.4 1557.6h0M415.4 1451.9h0M413.6 1475.4h0M432.1 1521.1h0M428.5 1471.8h0M400.6 1513.4h0M352.8 1475.7h0M445.2 1469.2h0M409 1443.4h0M393.2 1491.6h0M415.2 1441.3h0M417.4 1479.9h0M347.7 1518.3h0M415.8 1452.8h0M429.1 1449.3h0M363.7 1552h0M460 1504.6h0M393.2 1480.7h0M411 1440.5h0M339.5 1430.6h0M373.9 1465.6h0M339.4 1508.5h0M450.8 1459.9h0M467.1 1449.5h0M383.1 1552.2h0M353.8 1484.1h0M399.6 1434.6h0M361.3 1500h0" stroke="#55e000" stroke-width="2" stroke-linecap="round" fill="none"/>
<path d="M367.4 1499.1h0M465.6 1491.4h0M355.1 1488.4h0M345.7 1518.7h0M371 1470.1h0M357.9 1555.9h0M335.2 1486.9h0M432.4 1549h0M436.9 1495h0M391.3 1544.3h0M399.4 1438.3h0M337.4 1503.3h0M425.6 1471.2h0M454 1443.7h0M399.4 1511.2h0M365.6 1537.2h0M373.3 1482.5h0M422.2 1468.2h0M352.2 1548.3h0M340.9 1533.5h0M374.2 1483.1h0M370.4 1544.8h0M372.1 1526.6h0M453.3 1498.5h0M449.5 1499.9h0M443.2 1511.4h0M340.5 1549.1h0M337.3 1490.8h0" stroke="#c8f000" stroke-width="2.4" stroke-linecap="round" fill="none"/>
<circle cx="427.2" cy="1434.7" r="3.2" fill="#f0e800"/><circle cx="340.3" cy="1466.4" r="3" fill="#e8c000"/><circle cx="401" cy="1506.4" r="4.6" fill="#e0d000"/><circle cx="338.9" cy="1535.4" r="2.5" fill="#d8d000"/></g>
<rect x="415" y="1428.7" width="28" height="28" fill="none" stroke="#fff" stroke-width="1.4"/>
<rect x="409" y="1502" width="61" height="62" filter="url(#n15)"/>
<g filter="url(#sb)"><path d="M428.9 1550.3h0M436.1 1506.6h0M438.1 1547.7h0M449.9 1514.5h0M428.1 1546.1h0M427.2 1517.5h0M425.5 1546.6h0M423.7 1558.4h0M458.9 1540.2h0M433.8 1517.3h0M453.2 1518.1h0M426.5 1550h0" stroke="#2fb010" stroke-width="2.7" stroke-linecap="round" fill="none" opacity="0.85"/>
<path d="M424.5 1514h0M432.2 1536.3h0M423.6 1531.6h0M422.3 1527.1h0M425.5 1540.2h0M425.7 1548.1h0M453.6 1545.1h0M423.1 1538.3h0M427.6 1540.2h0" stroke="#55e000" stroke-width="3.8" stroke-linecap="round" fill="none"/>
<path d="M424.8 1547.3h0M431 1522.7h0M431.7 1512.3h0M429.7 1549.9h0M418.1 1542.1h0" stroke="#c8f000" stroke-width="4.6" stroke-linecap="round" fill="none"/>
<ellipse cx="433.4" cy="1517.5" rx="5.5" ry="6.5" fill="#f0e800"/></g>
<path d="M409.8 1564V1502.8H470" fill="none" stroke="#fff" stroke-width="1.7"/>
<line x1="335.6" y1="1559.7" x2="370.6" y2="1559.7" stroke="#fff" stroke-width="1.8"/>
<rect x="550" y="1142" width="138" height="139" filter="url(#n16)"/>
<rect x="699" y="1142" width="138" height="139" filter="url(#n17)"/>
<g filter="url(#sb)"><path d="M776.7 1228.8h0M752.6 1239.7h0M723.2 1217.4h0M814.6 1172.4h0M776.4 1192.8h0M765.2 1262h0M737.7 1192.3h0M747.9 1202.4h0M808.4 1163.9h0M810.4 1188.3h0M808.4 1255.6h0M771.1 1208.2h0M748.2 1211.3h0M746.5 1149.1h0M803.2 1177.8h0M808.2 1176.8h0M783.8 1239.9h0M756 1169.8h0M731 1207.7h0M747.3 1271h0M751.1 1156h0M754.3 1168.1h0M766.2 1216.2h0M793.4 1177.3h0M728.9 1213.7h0M792.3 1200.4h0M769.9 1235.3h0M727.4 1195.5h0M797.1 1207.4h0M778.8 1275.5h0M770.8 1220.9h0M758.3 1224.2h0M753 1148.9h0M760.1 1224.9h0M784.5 1207.9h0M749.8 1241.6h0M795.1 1174.6h0M770.4 1152.8h0M806.3 1200h0M744.1 1233.8h0M771.5 1218.6h0M779.7 1207.7h0M740.7 1154h0M736.3 1182.1h0M762.7 1202.8h0M829.1 1233.5h0M783.6 1255h0M769.7 1184.9h0M811.7 1247h0M780 1197h0M796.8 1189.1h0M730.4 1166.6h0M782 1219.2h0M760.4 1255.4h0M716.4 1201.4h0M721.8 1270.2h0M772.8 1250.8h0M779.1 1229.2h0M774.2 1211.7h0M802.8 1196.5h0M831.4 1262.9h0M785.3 1216.9h0M790 1207.8h0M744.3 1247.8h0M748.2 1214.4h0M798.9 1187.3h0M807.8 1227.1h0M822.3 1203.5h0M808.2 1234.2h0M781 1216.4h0M797 1193.9h0M767 1227.6h0M788.1 1211.2h0M731.6 1268.1h0M758.8 1225.9h0M790.5 1207.2h0M800.8 1193.5h0M784.5 1214.2h0M741.8 1244.8h0M769.8 1156.2h0M800.2 1195h0M784 1163.4h0" stroke="#bbb" stroke-width="1.2" stroke-linecap="round" fill="none" opacity="0.5"/>
<path d="M760.8 1236.6h0M757.9 1269.2h0M742.3 1251h0M739.6 1197.4h0M748.6 1266.8h0M827.1 1266.1h0M753.7 1265.7h0M719.9 1210.3h0M740 1273.6h0M767.4 1276.5h0M747.4 1259.3h0M706.5 1212.2h0M791.9 1237.6h0M816.7 1260.2h0M715.9 1203.9h0M710.1 1195.2h0M804.2 1189.3h0M788.8 1154.5h0M817.7 1213.6h0M795.6 1200.1h0M748.8 1173.3h0M801.3 1223.5h0M748.9 1210.5h0M809.6 1185.7h0M795 1191.5h0M747 1196.9h0M772.8 1224.8h0M764.2 1226.5h0M739.2 1260.7h0M752.5 1198.7h0M781.1 1238h0M730.8 1256.3h0M821.7 1260.4h0M780.3 1263.1h0M809.4 1194.4h0M761.2 1218.9h0M770.9 1195.4h0M774 1201.7h0M718.7 1199.4h0M759.9 1259.9h0M729.2 1250.3h0M796.5 1197.4h0M785 1209.9h0M824.1 1171h0M754.6 1197.3h0" stroke="#e0e0e0" stroke-width="1.7" stroke-linecap="round" fill="none" opacity="0.8"/>
<path d="M725.3 1272.5h0M748.8 1198.5h0M825.4 1160h0M738.1 1186.9h0M784.3 1163.6h0M793.2 1153h0M731.6 1157.9h0M818.9 1231.8h0M828.3 1152.7h0M748 1162.5h0M781.1 1254.4h0M776.8 1249.4h0M773.9 1221.3h0M737.3 1269.1h0M826.7 1255.3h0M761.3 1242.7h0M731.6 1236.5h0M815.9 1180.3h0M776 1231.5h0M779.5 1274.8h0M700.6 1203.2h0M764 1235.5h0" stroke="#fff" stroke-width="2.4" stroke-linecap="round" fill="none" opacity="0.95"/>
</g>
<rect x="776" y="1219" width="61" height="62" filter="url(#n18)"/>
<g filter="url(#sb)"><path d="M811.6 1247.6h0M805 1271.1h0M829.5 1236.1h0M802.1 1234.4h0M820.6 1260.2h0M811 1241.4h0M790.9 1233.4h0M803 1239.7h0M805 1229.5h0M810.8 1266.2h0M795.8 1250.6h0M823 1268.1h0M810.3 1261.1h0M811.7 1253.5h0" stroke="#bbb" stroke-width="2.3" stroke-linecap="round" fill="none" opacity="0.5"/>
<path d="M820.5 1231.9h0M829.7 1242.2h0M827.8 1252.3h0M782 1239.7h0M810.3 1233.4h0M826.9 1262.1h0M799.2 1230.3h0M818.1 1260.3h0" stroke="#e0e0e0" stroke-width="3.2" stroke-linecap="round" fill="none" opacity="0.8"/>
<path d="M810.1 1264.2h0M824.5 1272.5h0M801.2 1233.5h0M804.5 1242.8h0" stroke="#fff" stroke-width="4.6" stroke-linecap="round" fill="none" opacity="0.95"/>
</g>
<path d="M776.8 1281V1219.8H837" fill="none" stroke="#fff" stroke-width="1.7"/>
<rect x="847" y="1142" width="138" height="139" filter="url(#n19)"/>
<g filter="url(#sb)"><path d="M864.6 1171h0M868 1167.6h0M920 1233.6h0M860.1 1220.3h0M893.4 1212.2h0M951.5 1193.9h0M889.3 1270.4h0M855 1242.5h0M934.8 1278.5h0M869.2 1273.1h0M876.5 1172h0M868.4 1197.8h0M929.8 1205.8h0M858.4 1220.3h0M951.4 1200.3h0M912.6 1271.5h0M866.4 1184.1h0M937.9 1165.6h0M913.7 1254.5h0M939.7 1155.9h0M939.9 1258h0M869.5 1156.3h0M911.2 1278.3h0M868.4 1180.2h0M924 1163.3h0M916.3 1201.6h0M928.5 1148.8h0M909.9 1216.7h0M863.6 1242.6h0M860 1152.7h0M856.5 1176.5h0M934.9 1186.4h0M869.5 1199.5h0M904.4 1216.1h0M907.1 1195.4h0M861.5 1180.2h0M905.8 1201.3h0M892.8 1165.9h0M884.2 1151.9h0M881.4 1237.1h0M945.9 1159.5h0M951.6 1217.1h0M889.8 1273.6h0M859.9 1185.1h0M920.6 1229.9h0M930.9 1163.7h0M920.6 1152.7h0M946.1 1244.4h0M853.4 1194.4h0M855.3 1162.1h0M927.1 1264.1h0M889.2 1270.3h0M943.7 1269.6h0M895 1184.1h0M910.4 1260.1h0M939.2 1167.5h0M919.2 1205.5h0M916.7 1199.8h0M925.9 1263.4h0M977.8 1255.4h0M868.7 1175.6h0M850 1167h0M851.9 1174.7h0M863.8 1181.3h0M912.9 1233.1h0M873.1 1189.5h0" stroke="#bbb" stroke-width="1.2" stroke-linecap="round" fill="none" opacity="0.5"/>
<path d="M876.8 1183.1h0M880.9 1175.4h0M850 1223.2h0M850.9 1235.7h0M972.7 1268.7h0M920.9 1235.4h0M862.7 1161.7h0M874.1 1165h0M914.4 1237.9h0M946.7 1269h0M937.3 1261.8h0M923.7 1246.4h0M924.2 1175.6h0M905.8 1216.3h0M890.9 1235.4h0M928.1 1207.4h0M864.3 1196.9h0M939.7 1196.2h0M951.4 1155.7h0M870.5 1263h0M852.9 1179.6h0M884.4 1194.8h0M916.3 1223.2h0M912.7 1239.4h0M867.8 1177.7h0M883.6 1183.6h0M915.7 1212.5h0M932.5 1151.8h0M964.9 1199h0M857.7 1168.2h0M856.6 1161.1h0M882.2 1267.2h0M862.6 1229.8h0M940.3 1272.5h0M867.5 1233.9h0M872.5 1163.9h0" stroke="#e0e0e0" stroke-width="1.7" stroke-linecap="round" fill="none" opacity="0.8"/>
<path d="M951.3 1277.7h0M856.2 1150.5h0M901.6 1208h0M920.2 1167.9h0M889.6 1253.2h0M893.9 1167.3h0M929.6 1168.6h0M939.2 1270.8h0M980.8 1255.3h0M975.7 1198h0M868.1 1170.2h0M865 1163.5h0M908.3 1252.1h0M919.6 1271.3h0M870.6 1187.6h0M853.9 1162.5h0M879.4 1147.5h0M895.1 1265.7h0" stroke="#fff" stroke-width="2.4" stroke-linecap="round" fill="none" opacity="0.95"/>
<circle cx="870.5" cy="1183.4" r="4.2" fill="#ccc"/><circle cx="958.8" cy="1176.5" r="4.5" fill="#ddd"/><circle cx="888.4" cy="1260.7" r="2.5" fill="#ddd"/><circle cx="860.8" cy="1249.6" r="2" fill="#bbb"/></g>
<rect x="924" y="1219" width="61" height="62" filter="url(#n20)"/>
<g filter="url(#sb)"><path d="M939.2 1266.4h0M953.6 1245.1h0M935.5 1270.5h0M929.8 1275h0M947.7 1268.1h0M944.2 1249.9h0M941.4 1265.3h0M954.1 1262.3h0M938.3 1276.4h0M933.2 1270.1h0M944.3 1255.1h0M935.8 1264.2h0M976.4 1247.2h0M931.6 1266.6h0" stroke="#bbb" stroke-width="2.3" stroke-linecap="round" fill="none" opacity="0.5"/>
<path d="M936.1 1268h0M978.1 1275.9h0M948.2 1273h0M942.3 1272.8h0M951.6 1268.1h0M952.8 1258.6h0M933.6 1257.1h0M930.3 1259.5h0" stroke="#e0e0e0" stroke-width="3.2" stroke-linecap="round" fill="none" opacity="0.8"/>
<path d="M952.5 1270.9h0M933.4 1240.9h0M950 1273.3h0M930.6 1260h0" stroke="#fff" stroke-width="4.6" stroke-linecap="round" fill="none" opacity="0.95"/>
<ellipse cx="961.8" cy="1256.2" rx="7.2" ry="8.5" fill="#ccc"/></g>
<path d="M924.8 1281V1219.8H985" fill="none" stroke="#fff" stroke-width="1.7"/>
<rect x="550" y="1284" width="138" height="138" filter="url(#n21)"/>
<ellipse cx="607.1" cy="1388.3" rx="7.5" ry="7.4" fill="#000" opacity="0.22" filter="url(#sb3)"/>
<ellipse cx="587.9" cy="1372.9" rx="6.8" ry="8.9" fill="#000" opacity="0.22" filter="url(#sb3)"/>
<ellipse cx="588.7" cy="1407.5" rx="6.3" ry="7.3" fill="#000" opacity="0.22" filter="url(#sb3)"/>
<ellipse cx="625.2" cy="1406.2" rx="8.5" ry="6.9" fill="#000" opacity="0.22" filter="url(#sb3)"/>
<ellipse cx="634.7" cy="1395.2" rx="6.5" ry="8.5" fill="#000" opacity="0.22" filter="url(#sb3)"/>
<ellipse cx="655.9" cy="1407.8" rx="6.7" ry="8.2" fill="#000" opacity="0.22" filter="url(#sb3)"/>
<ellipse cx="614" cy="1406.8" rx="8.3" ry="6.1" fill="#000" opacity="0.22" filter="url(#sb3)"/>
<ellipse cx="671.2" cy="1391.2" rx="6.9" ry="8.9" fill="#000" opacity="0.22" filter="url(#sb3)"/>
<rect x="699" y="1284" width="138" height="138" filter="url(#n22)"/>
<g filter="url(#sb)"><path d="M776.7 1370.8h0M752.6 1381.7h0M723.2 1359.4h0M814.6 1314.4h0M776.4 1334.8h0M765.2 1404h0M737.7 1334.3h0M747.9 1344.4h0M808.4 1305.9h0M810.4 1330.3h0M808.4 1397.6h0M771.1 1350.2h0M748.2 1353.3h0M746.5 1291.1h0M803.2 1319.8h0M808.2 1318.8h0M783.8 1381.9h0M756 1311.8h0M731 1349.7h0M747.3 1413h0M751.1 1298h0M754.3 1310.1h0M766.2 1358.2h0M793.4 1319.3h0M728.9 1355.7h0M792.3 1342.4h0M769.9 1377.3h0M727.4 1337.5h0M797.1 1349.4h0M778.8 1417.5h0M770.8 1362.9h0M758.3 1366.2h0M753 1290.9h0M760.1 1366.9h0M784.5 1349.9h0M749.8 1383.6h0M795.1 1316.6h0M770.4 1294.8h0M806.3 1342h0M744.1 1375.8h0M771.5 1360.6h0M779.7 1349.7h0M740.7 1296h0M736.3 1324.1h0M762.7 1344.8h0M829.1 1375.5h0M783.6 1397h0M769.7 1326.9h0M811.7 1389h0M780 1339h0M796.8 1331.1h0M730.4 1308.6h0M782 1361.2h0M760.4 1397.4h0M716.4 1343.4h0M721.8 1412.2h0M772.8 1392.8h0M779.1 1371.2h0M774.2 1353.7h0M802.8 1338.5h0M831.4 1404.9h0M785.3 1358.9h0M790 1349.8h0M744.3 1389.8h0M748.2 1356.4h0M798.9 1329.3h0" stroke="#aaa" stroke-width="1.2" stroke-linecap="round" fill="none" opacity="0.5"/>
<path d="M807.8 1369.1h0M822.3 1345.5h0M808.2 1376.2h0M781 1358.4h0M797 1335.9h0M767 1369.6h0M788.1 1353.2h0M731.6 1410.1h0M758.8 1367.9h0M790.5 1349.2h0M800.8 1335.5h0M784.5 1356.2h0M741.8 1386.8h0M769.8 1298.2h0M800.2 1337h0M784 1305.4h0M760.8 1378.6h0M757.9 1411.2h0M742.3 1393h0M739.6 1339.4h0M748.6 1408.8h0M827.1 1408.1h0M753.7 1407.7h0M719.9 1352.3h0M740 1415.6h0M767.4 1418.5h0M747.4 1401.3h0M706.5 1354.2h0M791.9 1379.6h0M816.7 1402.2h0M715.9 1345.9h0M710.1 1337.2h0M804.2 1331.3h0" stroke="#ddd" stroke-width="1.6" stroke-linecap="round" fill="none" opacity="0.75"/>
<path d="M788.8 1296.5h0M817.7 1355.6h0M795.6 1342.1h0M748.8 1315.3h0M801.3 1365.5h0M748.9 1352.5h0M809.6 1327.7h0M795 1333.5h0M747 1338.9h0M772.8 1366.8h0M764.2 1368.5h0" stroke="#fff" stroke-width="2.2" stroke-linecap="round" fill="none" opacity="0.95"/>
</g>
<rect x="776" y="1360" width="61" height="62" filter="url(#n23)"/>
<g filter="url(#sb)"><path d="M811.6 1388.6h0M805 1412.1h0M829.5 1377.1h0M802.1 1375.4h0M820.6 1401.2h0M811 1382.4h0M790.9 1374.4h0M803 1380.7h0M805 1370.5h0M810.8 1407.2h0M795.8 1391.6h0M823 1409.1h0M810.3 1402.1h0M811.7 1394.5h0" stroke="#aaa" stroke-width="2.3" stroke-linecap="round" fill="none" opacity="0.5"/>
<path d="M820.5 1372.9h0M829.7 1383.2h0M827.8 1393.3h0M782 1380.7h0M810.3 1374.4h0M826.9 1403.1h0M799.2 1371.3h0" stroke="#ddd" stroke-width="3" stroke-linecap="round" fill="none" opacity="0.75"/>
<path d="M818.1 1401.3h0M810.1 1405.2h0" stroke="#fff" stroke-width="4.2" stroke-linecap="round" fill="none" opacity="0.95"/>
</g>
<path d="M776.8 1422V1360.8H837" fill="none" stroke="#fff" stroke-width="1.7"/>
<rect x="847" y="1284" width="138" height="138" filter="url(#n24)"/>
<g filter="url(#sb)"><path d="M864.6 1313h0M868 1309.6h0M920 1375.6h0M860.1 1362.3h0M893.4 1354.2h0M951.5 1335.9h0M889.3 1412.4h0M855 1384.5h0M934.8 1420.5h0M869.2 1415.1h0M876.5 1314h0M868.4 1339.8h0M929.8 1347.8h0M858.4 1362.3h0M951.4 1342.3h0M912.6 1413.5h0M866.4 1326.1h0M937.9 1307.6h0M913.7 1396.5h0M939.7 1297.9h0M939.9 1400h0M869.5 1298.3h0M911.2 1420.3h0M868.4 1322.2h0M924 1305.3h0M916.3 1343.6h0M928.5 1290.8h0M909.9 1358.7h0M863.6 1384.6h0M860 1294.7h0M856.5 1318.5h0M934.9 1328.4h0M869.5 1341.5h0M904.4 1358.1h0M907.1 1337.4h0M861.5 1322.2h0M905.8 1343.3h0M892.8 1307.9h0M884.2 1293.9h0M881.4 1379.1h0M945.9 1301.5h0M951.6 1359.1h0M889.8 1415.6h0M859.9 1327.1h0M920.6 1371.9h0M930.9 1305.7h0M920.6 1294.7h0M946.1 1386.4h0M853.4 1336.4h0M855.3 1304.1h0M927.1 1406.1h0M889.2 1412.3h0M943.7 1411.6h0M895 1326.1h0" stroke="#aaa" stroke-width="1.2" stroke-linecap="round" fill="none" opacity="0.5"/>
<path d="M910.4 1402.1h0M939.2 1309.5h0M919.2 1347.5h0M916.7 1341.8h0M925.9 1405.4h0M977.8 1397.4h0M868.7 1317.6h0M850 1309h0M851.9 1316.7h0M863.8 1323.3h0M912.9 1375.1h0M873.1 1331.5h0M876.8 1325.1h0M880.9 1317.4h0M850 1365.2h0M850.9 1377.7h0M972.7 1410.7h0M920.9 1377.4h0M862.7 1303.7h0M874.1 1307h0M914.4 1379.9h0M946.7 1411h0M937.3 1403.8h0M923.7 1388.4h0M924.2 1317.6h0M905.8 1358.3h0M890.9 1377.4h0" stroke="#ddd" stroke-width="1.6" stroke-linecap="round" fill="none" opacity="0.75"/>
<path d="M928.1 1349.4h0M864.3 1338.9h0M939.7 1338.2h0M951.4 1297.7h0M870.5 1405h0M852.9 1321.6h0M884.4 1336.8h0M916.3 1365.2h0M912.7 1381.4h0" stroke="#fff" stroke-width="2.2" stroke-linecap="round" fill="none" opacity="0.95"/>
<circle cx="870.5" cy="1325.4" r="4.2" fill="#e8e8e8"/><circle cx="958.8" cy="1318.5" r="4.5" fill="#e8e8e8"/><circle cx="888.4" cy="1402.7" r="2.5" fill="#ddd"/></g>
<rect x="924" y="1360" width="61" height="62" filter="url(#n25)"/>
<g filter="url(#sb)"><path d="M939.2 1407.4h0M953.6 1386.1h0M935.5 1411.5h0M929.8 1416h0M947.7 1409.1h0M944.2 1390.9h0M941.4 1406.3h0M954.1 1403.3h0M938.3 1417.4h0M933.2 1411.1h0M944.3 1396.1h0" stroke="#aaa" stroke-width="2.3" stroke-linecap="round" fill="none" opacity="0.5"/>
<path d="M935.8 1405.2h0M976.4 1388.2h0M931.6 1407.6h0M936.1 1409h0M978.1 1416.9h0M948.2 1414h0" stroke="#ddd" stroke-width="3" stroke-linecap="round" fill="none" opacity="0.75"/>
<path d="M942.3 1413.8h0M951.6 1409.1h0" stroke="#fff" stroke-width="4.2" stroke-linecap="round" fill="none" opacity="0.95"/>
<ellipse cx="961.8" cy="1397.2" rx="7.2" ry="8.5" fill="#e8e8e8"/></g>
<path d="M924.8 1422V1360.8H985" fill="none" stroke="#fff" stroke-width="1.7"/>
<rect x="550" y="1425" width="138" height="139" filter="url(#n26)"/>
<ellipse cx="607.1" cy="1530.1" rx="7.5" ry="7.4" fill="#000" opacity="0.22" filter="url(#sb3)"/>
<ellipse cx="587.9" cy="1514.5" rx="6.8" ry="8.9" fill="#000" opacity="0.22" filter="url(#sb3)"/>
<ellipse cx="588.7" cy="1549.5" rx="6.3" ry="7.3" fill="#000" opacity="0.22" filter="url(#sb3)"/>
<ellipse cx="625.2" cy="1548.1" rx="8.5" ry="6.9" fill="#000" opacity="0.22" filter="url(#sb3)"/>
<ellipse cx="634.7" cy="1537.1" rx="6.5" ry="8.5" fill="#000" opacity="0.22" filter="url(#sb3)"/>
<ellipse cx="655.9" cy="1549.8" rx="6.7" ry="8.2" fill="#000" opacity="0.22" filter="url(#sb3)"/>
<line x1="553.6" y1="1559.7" x2="588.6" y2="1559.7" stroke="#fff" stroke-width="1.8"/>
<rect x="699" y="1425" width="138" height="139" filter="url(#n27)"/>
<g filter="url(#sb)"><path d="M776.7 1511.8h0M752.6 1522.7h0M723.2 1500.4h0M814.6 1455.4h0M776.4 1475.8h0M765.2 1545h0M737.7 1475.3h0M747.9 1485.4h0M808.4 1446.9h0M810.4 1471.3h0M808.4 1538.6h0M771.1 1491.2h0M748.2 1494.3h0M746.5 1432.1h0M803.2 1460.8h0M808.2 1459.8h0M783.8 1522.9h0M756 1452.8h0M731 1490.7h0M747.3 1554h0M751.1 1439h0M754.3 1451.1h0M766.2 1499.2h0M793.4 1460.3h0M728.9 1496.7h0M792.3 1483.4h0M769.9 1518.3h0M727.4 1478.5h0M797.1 1490.4h0M778.8 1558.5h0M770.8 1503.9h0M758.3 1507.2h0M753 1431.9h0M760.1 1507.9h0M784.5 1490.9h0M749.8 1524.6h0M795.1 1457.6h0M770.4 1435.8h0M806.3 1483h0M744.1 1516.8h0M771.5 1501.6h0M779.7 1490.7h0" stroke="#3fae10" stroke-width="1.3" stroke-linecap="round" fill="none" opacity="0.8"/>
<path d="M740.7 1437h0M736.3 1465.1h0M762.7 1485.8h0M829.1 1516.5h0M783.6 1538h0M769.7 1467.9h0M811.7 1530h0M780 1480h0M796.8 1472.1h0M730.4 1449.6h0M782 1502.2h0M760.4 1538.4h0M716.4 1484.4h0M721.8 1553.2h0M772.8 1533.8h0M779.1 1512.2h0M774.2 1494.7h0M802.8 1479.5h0M831.4 1545.9h0M785.3 1499.9h0M790 1490.8h0M744.3 1530.8h0M748.2 1497.4h0M798.9 1470.3h0M807.8 1510.1h0M822.3 1486.5h0M808.2 1517.2h0M781 1499.4h0M797 1476.9h0M767 1510.6h0M788.1 1494.2h0M731.6 1551.1h0M758.8 1508.9h0M790.5 1490.2h0M800.8 1476.5h0" stroke="#9ad000" stroke-width="1.8" stroke-linecap="round" fill="none" opacity="0.95"/>
<path d="M784.5 1497.2h0M741.8 1527.8h0M769.8 1439.2h0M800.2 1478h0M784 1446.4h0M760.8 1519.6h0M757.9 1552.2h0M742.3 1534h0M739.6 1480.4h0M748.6 1549.8h0M827.1 1549.1h0M753.7 1548.7h0M719.9 1493.3h0M740 1556.6h0M767.4 1559.5h0M747.4 1542.3h0M706.5 1495.2h0M791.9 1520.6h0M816.7 1543.2h0M715.9 1486.9h0M710.1 1478.2h0M804.2 1472.3h0M788.8 1437.5h0M817.7 1496.6h0M795.6 1483.1h0M748.8 1456.3h0M801.3 1506.5h0M748.9 1493.5h0M809.6 1468.7h0M795 1474.5h0M747 1479.9h0M772.8 1507.8h0M764.2 1509.5h0M739.2 1543.7h0M752.5 1481.7h0M781.1 1521h0M730.8 1539.3h0M821.7 1543.4h0M780.3 1546.1h0M809.4 1477.4h0M761.2 1501.9h0M770.9 1478.4h0" stroke="#e8c800" stroke-width="2" stroke-linecap="round" fill="none"/>
<path d="M774 1484.7h0M718.7 1482.4h0M759.9 1542.9h0M729.2 1533.3h0M796.5 1480.4h0M785 1492.9h0M824.1 1454h0M754.6 1480.3h0M725.3 1555.5h0M748.8 1481.5h0M825.4 1443h0M738.1 1469.9h0M784.3 1446.6h0M793.2 1436h0M731.6 1440.9h0M818.9 1514.8h0M828.3 1435.7h0M748 1445.5h0M781.1 1537.4h0M776.8 1532.4h0M773.9 1504.3h0" stroke="#ff9a00" stroke-width="2.6" stroke-linecap="round" fill="none"/>
</g>
<rect x="727.8" y="1495.3" width="28" height="28" fill="none" stroke="#fff" stroke-width="1.4"/>
<rect x="776" y="1502" width="61" height="62" filter="url(#n28)"/>
<g filter="url(#sb)"><path d="M811.6 1530.6h0M805 1554.1h0M829.5 1519.1h0M802.1 1517.4h0M820.6 1543.2h0M811 1524.4h0M790.9 1516.4h0M803 1522.7h0" stroke="#3fae10" stroke-width="2.5" stroke-linecap="round" fill="none" opacity="0.8"/>
<path d="M805 1512.5h0M810.8 1549.2h0M795.8 1533.6h0M823 1551.1h0M810.3 1544.1h0M811.7 1536.5h0" stroke="#9ad000" stroke-width="3.4" stroke-linecap="round" fill="none" opacity="0.95"/>
<path d="M820.5 1514.9h0M829.7 1525.2h0M827.8 1535.3h0M782 1522.7h0M810.3 1516.4h0M826.9 1545.1h0M799.2 1513.3h0M818.1 1543.3h0" stroke="#e8c800" stroke-width="3.8" stroke-linecap="round" fill="none"/>
<path d="M810.1 1547.2h0M824.5 1555.5h0M801.2 1516.5h0M804.5 1525.8h0" stroke="#ff9a00" stroke-width="4.9" stroke-linecap="round" fill="none"/>
</g>
<path d="M776.8 1564V1502.8H837" fill="none" stroke="#fff" stroke-width="1.7"/>
<line x1="702.6" y1="1559.7" x2="737.6" y2="1559.7" stroke="#fff" stroke-width="1.8"/>
<rect x="847" y="1425" width="138" height="139" filter="url(#n29)"/>
<g filter="url(#sb)"><path d="M864.6 1454h0M868 1450.6h0M920 1516.6h0M860.1 1503.3h0M893.4 1495.2h0M951.5 1476.9h0M889.3 1553.4h0M855 1525.5h0M934.8 1561.5h0M869.2 1556.1h0M876.5 1455h0M868.4 1480.8h0M929.8 1488.8h0M858.4 1503.3h0M951.4 1483.3h0M912.6 1554.5h0M866.4 1467.1h0M937.9 1448.6h0M913.7 1537.5h0M939.7 1438.9h0M939.9 1541h0M869.5 1439.3h0M911.2 1561.3h0M868.4 1463.2h0M924 1446.3h0M916.3 1484.6h0M928.5 1431.8h0M909.9 1499.7h0M863.6 1525.6h0M860 1435.7h0M856.5 1459.5h0M934.9 1469.4h0M869.5 1482.5h0" stroke="#3fae10" stroke-width="1.3" stroke-linecap="round" fill="none" opacity="0.8"/>
<path d="M904.4 1499.1h0M907.1 1478.4h0M861.5 1463.2h0M905.8 1484.3h0M892.8 1448.9h0M884.2 1434.9h0M881.4 1520.1h0M945.9 1442.5h0M951.6 1500.1h0M889.8 1556.6h0M859.9 1468.1h0M920.6 1512.9h0M930.9 1446.7h0M920.6 1435.7h0M946.1 1527.4h0M853.4 1477.4h0M855.3 1445.1h0M927.1 1547.1h0M889.2 1553.3h0M943.7 1552.6h0M895 1467.1h0M910.4 1543.1h0M939.2 1450.5h0M919.2 1488.5h0M916.7 1482.8h0M925.9 1546.4h0M977.8 1538.4h0M868.7 1458.6h0" stroke="#9ad000" stroke-width="1.8" stroke-linecap="round" fill="none" opacity="0.95"/>
<path d="M850 1450h0M851.9 1457.7h0M863.8 1464.3h0M912.9 1516.1h0M873.1 1472.5h0M876.8 1466.1h0M880.9 1458.4h0M850 1506.2h0M850.9 1518.7h0M972.7 1551.7h0M920.9 1518.4h0M862.7 1444.7h0M874.1 1448h0M914.4 1520.9h0M946.7 1552h0M937.3 1544.8h0M923.7 1529.4h0M924.2 1458.6h0M905.8 1499.3h0M890.9 1518.4h0M928.1 1490.4h0M864.3 1479.9h0M939.7 1479.2h0M951.4 1438.7h0M870.5 1546h0M852.9 1462.6h0M884.4 1477.8h0M916.3 1506.2h0M912.7 1522.4h0M867.8 1460.7h0M883.6 1466.6h0M915.7 1495.5h0M932.5 1434.8h0" stroke="#e8c800" stroke-width="2" stroke-linecap="round" fill="none"/>
<path d="M964.9 1482h0M857.7 1451.2h0M856.6 1444.1h0M882.2 1550.2h0M862.6 1512.8h0M940.3 1555.5h0M867.5 1516.9h0M872.5 1446.9h0M951.3 1560.7h0M856.2 1433.5h0M901.6 1491h0M920.2 1450.9h0M889.6 1536.2h0M893.9 1450.3h0M929.6 1451.6h0M939.2 1553.8h0" stroke="#ff9a00" stroke-width="2.6" stroke-linecap="round" fill="none"/>
<circle cx="870.5" cy="1466.4" r="4.2" fill="#f0c000"/><circle cx="958.8" cy="1459.5" r="4.5" fill="#f0a800"/><circle cx="888.4" cy="1543.7" r="2.5" fill="#f0d000"/><circle cx="884.3" cy="1436" r="2.5" fill="#b8d800"/></g>
<rect x="852.7" y="1451" width="28" height="28" fill="none" stroke="#fff" stroke-width="1.4"/>
<rect x="924" y="1502" width="61" height="62" filter="url(#n30)"/>
<g filter="url(#sb)"><path d="M939.2 1549.4h0M953.6 1528.1h0M935.5 1553.5h0M929.8 1558h0M947.7 1551.1h0M944.2 1532.9h0M941.4 1548.3h0" stroke="#3fae10" stroke-width="2.5" stroke-linecap="round" fill="none" opacity="0.8"/>
<path d="M954.1 1545.3h0M938.3 1559.4h0M933.2 1553.1h0M944.3 1538.1h0M935.8 1547.2h0M976.4 1530.2h0" stroke="#9ad000" stroke-width="3.4" stroke-linecap="round" fill="none" opacity="0.95"/>
<path d="M931.6 1549.6h0M936.1 1551h0M978.1 1558.9h0M948.2 1556h0M942.3 1555.8h0M951.6 1551.1h0M952.8 1541.6h0" stroke="#e8c800" stroke-width="3.8" stroke-linecap="round" fill="none"/>
<path d="M933.6 1540.1h0M930.3 1542.5h0M952.5 1553.9h0" stroke="#ff9a00" stroke-width="4.9" stroke-linecap="round" fill="none"/>
<ellipse cx="961.8" cy="1539.2" rx="7.2" ry="8.5" fill="#f0c000"/></g>
<path d="M924.8 1564V1502.8H985" fill="none" stroke="#fff" stroke-width="1.7"/>
<line x1="850.6" y1="1559.7" x2="885.6" y2="1559.7" stroke="#fff" stroke-width="1.8"/>
<rect x="1039" y="1142" width="139" height="138" filter="url(#n31)"/>
<rect x="1187" y="1142" width="139" height="138" filter="url(#n32)"/>
<g filter="url(#sb)"><path d="M1266.1 1230.7h0M1246.4 1149.9h0M1199.4 1246.7h0M1283.4 1253.8h0M1252.8 1143.6h0M1317.5 1225.9h0M1263.6 1191.8h0M1295.1 1213.9h0M1189.4 1263.4h0M1225.7 1234.7h0M1223.6 1180.1h0M1224.6 1213.4h0M1220.6 1222.7h0M1226.7 1205h0M1226.5 1222.1h0M1216.1 1217.9h0M1279.1 1240.4h0M1245.8 1217.8h0M1259.2 1188.5h0M1262.3 1154.7h0M1229.5 1240h0M1209.8 1165.2h0M1232.5 1233.4h0M1230.2 1275.1h0M1188.2 1204.3h0M1217.5 1152.1h0M1282.8 1220.7h0M1291.6 1210.8h0M1233.3 1231.6h0M1251 1172h0M1222.9 1234.1h0M1216.4 1262h0M1306 1146.4h0M1275.9 1206.2h0M1254.9 1212.2h0M1290.7 1223.5h0M1274.5 1162.9h0M1230.4 1236.6h0M1196 1223.4h0M1220.1 1254.2h0M1242.4 1180.3h0M1261.2 1182.8h0M1223.6 1196.8h0M1239.8 1228.3h0M1190 1258h0M1222.4 1258.1h0M1301.3 1233.3h0M1255.3 1234.7h0M1234.6 1217.7h0M1194.4 1206h0M1275.5 1234.6h0M1218.4 1255.5h0M1262.1 1145.6h0M1294.6 1214.1h0M1234.6 1157.7h0M1191.8 1221.3h0M1293.7 1238.2h0M1305.8 1209.5h0M1303.7 1244.6h0M1237.8 1254.4h0M1226.2 1146.9h0M1236.7 1223.2h0M1214.9 1266.4h0M1198.2 1260.7h0M1221.1 1153.8h0M1249.7 1193.8h0M1232 1230.6h0M1250.3 1174.5h0M1209.2 1151.4h0M1230.8 1257.7h0M1207.5 1180.5h0M1227 1272.9h0M1203.5 1243h0M1208.4 1245.2h0M1207.7 1219.5h0M1198.5 1267.3h0M1265.1 1226.7h0M1215.9 1219.8h0M1203.5 1208.6h0M1210.2 1173.6h0M1250.8 1275.3h0M1205.3 1226.2h0" stroke="#bbb" stroke-width="1.2" stroke-linecap="round" fill="none" opacity="0.5"/>
<path d="M1205.3 1254.7h0M1227.7 1274.2h0M1194.1 1231.1h0M1222.9 1173.5h0M1197.5 1249.5h0M1233.7 1168.3h0M1225.6 1224.9h0M1284.1 1237.4h0M1276.7 1200.1h0M1241.2 1261.7h0M1219.5 1168.7h0M1320.3 1275h0M1227.5 1244.9h0M1191.5 1151.4h0M1213.5 1200.5h0M1281 1211.8h0M1231.8 1175.1h0M1214.9 1242.8h0M1243 1217.1h0M1248.3 1223h0M1239.2 1181.9h0M1244.5 1197.2h0M1211.1 1152.3h0M1196.2 1252.6h0M1303.1 1261.7h0M1294 1225.3h0M1214.1 1153.2h0M1312.4 1205.7h0M1242.4 1151.5h0M1220.7 1248.2h0M1213.5 1157.3h0M1251.1 1171.6h0M1200.2 1214.8h0M1221.8 1161.4h0M1228.1 1240.5h0M1246.2 1214.5h0M1211.3 1245.2h0M1234.9 1252.4h0M1287.6 1236.9h0M1204.6 1191.9h0M1291 1215.7h0M1267.5 1185.7h0M1254.9 1215h0M1201.3 1209.6h0M1303.4 1182.1h0" stroke="#e0e0e0" stroke-width="1.7" stroke-linecap="round" fill="none" opacity="0.8"/>
<path d="M1197.2 1248.9h0M1254.8 1172.7h0M1317.8 1210.9h0M1268.3 1180.3h0M1229.9 1253.4h0M1228.6 1198.7h0M1204.9 1265.8h0M1206.2 1276.2h0M1236.1 1225.4h0M1216.9 1255.8h0M1249.9 1181.5h0M1211 1243.4h0M1245.6 1228.5h0M1228 1204.5h0M1218 1229.8h0M1202.9 1224.9h0M1252 1201.8h0M1240.3 1217.8h0M1213.1 1163.6h0M1207.4 1226.6h0M1309.8 1155.5h0M1300.3 1215.6h0" stroke="#fff" stroke-width="2.4" stroke-linecap="round" fill="none" opacity="0.95"/>
</g>
<rect x="1262" y="1218" width="62" height="62" filter="url(#n33)"/>
<g filter="url(#sb)"><path d="M1284.8 1248.4h0M1269.6 1239.5h0M1306 1229.1h0M1284.3 1276.8h0M1295.8 1260.4h0M1292.8 1264.3h0M1287 1268.4h0M1282.6 1260.1h0M1299.9 1263.3h0M1312.8 1228.4h0M1284.5 1266.4h0M1278 1269.9h0M1267.1 1247.4h0M1314.9 1235.7h0" stroke="#bbb" stroke-width="2.3" stroke-linecap="round" fill="none" opacity="0.5"/>
<path d="M1283.9 1265.5h0M1309.1 1227.5h0M1282.8 1257h0M1289.3 1251.1h0M1295.7 1260.6h0M1297.7 1249.2h0M1305.4 1228.6h0M1271.9 1255.4h0" stroke="#e0e0e0" stroke-width="3.2" stroke-linecap="round" fill="none" opacity="0.8"/>
<path d="M1305.7 1238.7h0M1279 1252.9h0M1311.7 1232.4h0M1307.2 1225.6h0" stroke="#fff" stroke-width="4.6" stroke-linecap="round" fill="none" opacity="0.95"/>
</g>
<path d="M1262.8 1280V1218.8H1324V1280" fill="none" stroke="#fff" stroke-width="1.7"/>
<rect x="1336" y="1142" width="139" height="138" filter="url(#n34)"/>
<g filter="url(#sb)"><path d="M1376.2 1181h0M1375 1172.6h0M1373.7 1243.5h0M1390.8 1273.5h0M1340.8 1269.6h0M1367.3 1190h0M1470.1 1200.1h0M1464.6 1218h0M1373.7 1222.8h0M1467.7 1211.6h0M1385.4 1211.9h0M1368.1 1189.3h0M1351.6 1203h0M1403.6 1251.3h0M1452.7 1227h0M1352.3 1181.3h0M1408.9 1205.1h0M1362.6 1208.8h0M1435.5 1276.3h0M1371.3 1241.1h0M1378.8 1221.6h0M1398.4 1170.1h0M1414.5 1218.8h0M1414.7 1206.2h0M1412.6 1206.5h0M1363.4 1188h0M1439.1 1193.1h0M1392.2 1229.1h0M1394 1199.5h0M1386.4 1246.2h0M1357.4 1252.5h0M1374.7 1235.5h0M1377.9 1250.5h0M1455.5 1151h0M1381.2 1242.4h0M1386.5 1215.8h0M1406.2 1220.5h0M1354.1 1204.2h0M1413.9 1213.1h0M1383.8 1212.1h0M1344.3 1160h0M1415.6 1269.8h0M1384 1253.5h0M1470.1 1258.5h0M1382.5 1181.9h0M1356.7 1161.1h0M1349.4 1211.7h0M1443.5 1218.6h0M1399 1175.8h0M1409.8 1175.6h0M1354.3 1180.8h0M1374.6 1179h0M1393.1 1189.4h0M1469.5 1199h0M1399.3 1149.2h0M1399.3 1179.6h0M1366.5 1218.1h0M1387 1279.1h0M1366.8 1160.8h0M1405 1188.5h0M1352.8 1202.8h0M1391.4 1174.7h0M1383 1246.5h0M1402.3 1174.6h0M1398.8 1262.7h0M1364 1181.5h0" stroke="#bbb" stroke-width="1.2" stroke-linecap="round" fill="none" opacity="0.5"/>
<path d="M1370.2 1194.3h0M1364 1194h0M1364.2 1175.5h0M1398.4 1181.2h0M1390.1 1218.8h0M1388.1 1216h0M1376.7 1226.9h0M1342.1 1160.1h0M1365.2 1156.2h0M1391.3 1177.9h0M1390.9 1228.2h0M1409 1269.2h0M1393.5 1199.6h0M1470 1167h0M1354 1210.5h0M1403.2 1179.6h0M1383.5 1257.4h0M1346.9 1227.5h0M1366.9 1228.4h0M1356.5 1178.1h0M1376 1190.5h0M1405.9 1163.7h0M1446.9 1222.2h0M1370.9 1165.9h0M1372.1 1227.5h0M1396.2 1222.4h0M1349.4 1210.4h0M1381.2 1241.6h0M1371.1 1240.4h0M1347.7 1234.9h0M1439.8 1207.3h0M1422.1 1238.3h0M1424 1204.1h0M1364.8 1259h0M1417.6 1201.5h0M1367.2 1223.6h0" stroke="#e0e0e0" stroke-width="1.7" stroke-linecap="round" fill="none" opacity="0.8"/>
<path d="M1348.3 1253.1h0M1441.8 1264.2h0M1408.9 1233.2h0M1374.4 1263.7h0M1380.8 1276.9h0M1434.2 1154h0M1342.3 1168.8h0M1408.6 1258.1h0M1396.6 1193.9h0M1357.9 1179.5h0M1362.9 1217.7h0M1397.9 1215.4h0M1350.5 1172.4h0M1393.1 1208.9h0M1369.6 1177.1h0M1453.5 1161.9h0M1425.7 1144.3h0M1380.7 1222.9h0" stroke="#fff" stroke-width="2.4" stroke-linecap="round" fill="none" opacity="0.95"/>
<circle cx="1455.5" cy="1165.6" r="2.6" fill="#fff"/><circle cx="1368" cy="1211.5" r="3" fill="#fff"/><circle cx="1341.6" cy="1231" r="2.5" fill="#eee"/><circle cx="1379.1" cy="1155.9" r="3" fill="#ddd"/><circle cx="1363.8" cy="1187.9" r="4" fill="#ccc"/></g>
<rect x="1414" y="1218" width="61" height="62" filter="url(#n35)"/>
<g filter="url(#sb)"><path d="M1434.1 1274.1h0M1436.5 1252.9h0M1424.3 1253.8h0M1424.4 1257.5h0M1438.8 1266.5h0M1438.8 1263.8h0M1426.8 1222.4h0M1448.6 1229.6h0M1440.2 1263.6h0M1455.3 1244.9h0M1444.5 1263.7h0M1435.5 1250.8h0M1435.5 1227.4h0M1434.1 1239.7h0" stroke="#bbb" stroke-width="2.3" stroke-linecap="round" fill="none" opacity="0.5"/>
<path d="M1438.9 1223h0M1434.9 1228.6h0M1425 1230.9h0M1425.1 1232.8h0M1434.6 1252.5h0M1463.1 1231.6h0M1433.1 1254.4h0M1429.1 1243.7h0" stroke="#e0e0e0" stroke-width="3.2" stroke-linecap="round" fill="none" opacity="0.8"/>
<path d="M1422.1 1272h0M1449.4 1223.2h0M1431.5 1259.7h0M1436.7 1228.2h0" stroke="#fff" stroke-width="4.6" stroke-linecap="round" fill="none" opacity="0.95"/>
<ellipse cx="1445.7" cy="1273.8" rx="6" ry="7" fill="#fff"/></g>
<path d="M1414.8 1280V1218.8H1475" fill="none" stroke="#fff" stroke-width="1.7"/>
<rect x="1039" y="1284" width="139" height="138" filter="url(#n36)"/>
<ellipse cx="1163.9" cy="1357.6" rx="7.7" ry="7.4" fill="#000" opacity="0.22" filter="url(#sb3)"/>
<ellipse cx="1071.5" cy="1298.4" rx="7.2" ry="7.5" fill="#000" opacity="0.22" filter="url(#sb3)"/>
<ellipse cx="1141.2" cy="1334.1" rx="8.9" ry="6.3" fill="#000" opacity="0.22" filter="url(#sb3)"/>
<ellipse cx="1127.2" cy="1297.4" rx="6.7" ry="6.4" fill="#000" opacity="0.22" filter="url(#sb3)"/>
<ellipse cx="1165.4" cy="1374.1" rx="7.7" ry="8.6" fill="#000" opacity="0.22" filter="url(#sb3)"/>
<ellipse cx="1162.3" cy="1338.5" rx="8.6" ry="6.9" fill="#000" opacity="0.22" filter="url(#sb3)"/>
<ellipse cx="1132.8" cy="1391.7" rx="7.1" ry="8" fill="#000" opacity="0.22" filter="url(#sb3)"/>
<ellipse cx="1135.8" cy="1304.4" rx="8.3" ry="6.6" fill="#000" opacity="0.22" filter="url(#sb3)"/>
<ellipse cx="1083.5" cy="1322.5" rx="6.9" ry="8.8" fill="#000" opacity="0.22" filter="url(#sb3)"/>
<ellipse cx="1100.6" cy="1395.1" rx="6.4" ry="6.7" fill="#000" opacity="0.22" filter="url(#sb3)"/>
<ellipse cx="1050.4" cy="1349.8" rx="8.9" ry="7.6" fill="#000" opacity="0.22" filter="url(#sb3)"/>
<rect x="1187" y="1284" width="139" height="138" filter="url(#n37)"/>
<g filter="url(#sb)"><path d="M1226 1336h0M1295.2 1380.8h0M1228 1327.7h0M1221.7 1386h0M1203.4 1392.2h0M1212.4 1295.4h0M1238 1411.5h0M1207.3 1361.3h0M1236 1374.9h0M1234.1 1335.4h0M1215.2 1365.5h0M1218.4 1414.5h0M1223.3 1365.5h0M1226.5 1323.3h0M1295.7 1383h0M1245 1315.7h0M1214.3 1384.7h0M1240.9 1407.9h0M1227.6 1378.2h0M1223.9 1414.4h0M1195.8 1393.5h0M1198.7 1380.4h0M1247.9 1357.2h0M1286.2 1398.8h0M1199.1 1393.4h0M1219.5 1318.1h0M1300.8 1388.7h0M1229.5 1382h0M1209.8 1307.2h0M1232.9 1326.9h0M1189 1403.8h0M1188.2 1346.3h0M1199.2 1362.9h0M1288.4 1387.1h0M1291.6 1352.8h0M1233.5 1325.4h0" stroke="#aaa" stroke-width="1.2" stroke-linecap="round" fill="none" opacity="0.5"/>
<path d="M1251 1314h0M1222.9 1376.1h0M1216.4 1404h0M1306 1288.4h0M1275.9 1348.2h0M1253.3 1359.9h0M1256.3 1345.1h0M1258.3 1314.4h0M1287.9 1375.1h0M1193.2 1375h0M1229.9 1362.1h0M1220.1 1396.2h0M1211.5 1370.7h0M1222.6 1308.9h0M1238.8 1322.8h0M1196.8 1351.8h0M1222.4 1400.1h0M1252.1 1344.3h0" stroke="#ddd" stroke-width="1.6" stroke-linecap="round" fill="none" opacity="0.75"/>
<path d="M1255.3 1376.7h0M1234.6 1359.7h0M1194.4 1348h0M1284.1 1395.4h0M1239.8 1330.4h0M1300.7 1383.8h0" stroke="#fff" stroke-width="2.2" stroke-linecap="round" fill="none" opacity="0.95"/>
</g>
<rect x="1262" y="1360" width="62" height="62" filter="url(#n38)"/>
<g filter="url(#sb)"><path d="M1284.8 1390.4h0M1269.6 1381.5h0M1306 1371.1h0M1284.3 1418.8h0M1295.8 1402.4h0M1292.8 1406.3h0M1287 1410.4h0M1282.6 1402.1h0" stroke="#aaa" stroke-width="2.3" stroke-linecap="round" fill="none" opacity="0.5"/>
<path d="M1299.9 1405.3h0M1312.8 1370.4h0M1284.5 1408.4h0M1278 1411.9h0" stroke="#ddd" stroke-width="3" stroke-linecap="round" fill="none" opacity="0.75"/>
<path d="M1267.1 1389.4h0" stroke="#fff" stroke-width="4.2" stroke-linecap="round" fill="none" opacity="0.95"/>
</g>
<path d="M1262.8 1422V1360.8H1324V1422" fill="none" stroke="#fff" stroke-width="1.7"/>
<rect x="1336" y="1284" width="139" height="138" filter="url(#n39)"/>
<g filter="url(#sb)"><path d="M1391.5 1312.6h0M1375.9 1397.8h0M1469.7 1324.3h0M1380.7 1330.5h0M1369.1 1328.7h0M1365.9 1337.9h0M1433.7 1330.5h0M1447.8 1340.6h0M1340 1345.7h0M1337.6 1389.5h0M1357.6 1397.1h0M1359.9 1375.5h0M1360.6 1370.9h0M1358 1417.2h0M1368.1 1331.3h0M1351.6 1345h0M1403.6 1393.3h0M1452.7 1369h0M1394.3 1372.3h0M1362.6 1350.8h0M1435.5 1418.3h0M1371.3 1383.1h0M1378.8 1363.6h0M1398.4 1312.1h0" stroke="#aaa" stroke-width="1.2" stroke-linecap="round" fill="none" opacity="0.5"/>
<path d="M1414.5 1360.8h0M1414.7 1348.2h0M1412.6 1348.5h0M1363.4 1330h0M1439.1 1335.1h0M1392.2 1371.1h0M1394 1341.5h0M1386.4 1388.2h0M1357.4 1394.5h0M1374.7 1377.5h0M1377.9 1392.5h0M1455.5 1293h0" stroke="#ddd" stroke-width="1.6" stroke-linecap="round" fill="none" opacity="0.75"/>
<path d="M1381.2 1384.4h0M1386.5 1357.8h0M1406.2 1362.5h0M1354.1 1346.2h0" stroke="#fff" stroke-width="2.2" stroke-linecap="round" fill="none" opacity="0.95"/>
<circle cx="1455.5" cy="1291" r="2.6" fill="#ddd"/><circle cx="1363.8" cy="1329.9" r="4" fill="#ccc"/><circle cx="1379.1" cy="1288.2" r="3" fill="#eee"/></g>
<rect x="1414" y="1360" width="61" height="62" filter="url(#n40)"/>
<g filter="url(#sb)"><path d="M1434.1 1416.1h0M1436.5 1394.9h0M1424.3 1395.8h0M1424.4 1399.5h0M1438.8 1408.5h0" stroke="#aaa" stroke-width="2.3" stroke-linecap="round" fill="none" opacity="0.5"/>
<path d="M1438.8 1405.8h0M1426.8 1364.4h0" stroke="#ddd" stroke-width="3" stroke-linecap="round" fill="none" opacity="0.75"/>
<path d="M1448.6 1371.6h0" stroke="#fff" stroke-width="4.2" stroke-linecap="round" fill="none" opacity="0.95"/>
<ellipse cx="1445.7" cy="1415.8" rx="6" ry="7" fill="#ddd"/></g>
<path d="M1414.8 1422V1360.8H1475" fill="none" stroke="#fff" stroke-width="1.7"/>
<rect x="1039" y="1427" width="139" height="138" filter="url(#n41)"/>
<ellipse cx="1163.9" cy="1500.6" rx="7.7" ry="7.4" fill="#000" opacity="0.22" filter="url(#sb3)"/>
<ellipse cx="1071.5" cy="1441.4" rx="7.2" ry="7.5" fill="#000" opacity="0.22" filter="url(#sb3)"/>
<ellipse cx="1141.2" cy="1477.1" rx="8.9" ry="6.3" fill="#000" opacity="0.22" filter="url(#sb3)"/>
<ellipse cx="1127.2" cy="1440.4" rx="6.7" ry="6.4" fill="#000" opacity="0.22" filter="url(#sb3)"/>
<ellipse cx="1165.4" cy="1517.1" rx="7.7" ry="8.6" fill="#000" opacity="0.22" filter="url(#sb3)"/>
<ellipse cx="1162.3" cy="1481.5" rx="8.6" ry="6.9" fill="#000" opacity="0.22" filter="url(#sb3)"/>
<ellipse cx="1132.8" cy="1534.7" rx="7.1" ry="8" fill="#000" opacity="0.22" filter="url(#sb3)"/>
<ellipse cx="1135.8" cy="1447.4" rx="8.3" ry="6.6" fill="#000" opacity="0.22" filter="url(#sb3)"/>
<ellipse cx="1083.5" cy="1465.5" rx="6.9" ry="8.8" fill="#000" opacity="0.22" filter="url(#sb3)"/>
<ellipse cx="1100.6" cy="1538.1" rx="6.4" ry="6.7" fill="#000" opacity="0.22" filter="url(#sb3)"/>
<ellipse cx="1050.4" cy="1492.8" rx="8.9" ry="7.6" fill="#000" opacity="0.22" filter="url(#sb3)"/>
<line x1="1042.6" y1="1560.7" x2="1077.6" y2="1560.7" stroke="#fff" stroke-width="1.8"/>
<rect x="1187" y="1427" width="139" height="138" filter="url(#n42)"/>
<g filter="url(#sb)"><path d="M1266.1 1515.7h0M1246.4 1434.9h0M1199.4 1531.7h0M1283.4 1538.8h0M1252.8 1428.6h0M1317.5 1510.9h0M1263.6 1476.8h0M1295.1 1498.9h0M1189.4 1548.4h0M1225.7 1519.7h0M1223.6 1465.1h0M1224.6 1498.4h0M1220.6 1507.7h0M1226.7 1490h0M1226.5 1507.1h0M1216.1 1502.9h0M1279.1 1525.4h0M1245.8 1502.8h0M1259.2 1473.5h0M1262.3 1439.7h0M1229.5 1525h0M1209.8 1450.2h0M1232.5 1518.4h0M1230.2 1560.1h0M1188.2 1489.3h0M1217.5 1437.1h0M1282.8 1505.7h0M1291.6 1495.8h0M1233.3 1516.6h0M1251 1457h0M1222.9 1519.1h0M1216.4 1547h0M1306 1431.4h0M1275.9 1491.2h0M1254.9 1497.2h0M1290.7 1508.5h0M1274.5 1447.9h0M1230.4 1521.6h0M1196 1508.4h0M1220.1 1539.2h0M1242.4 1465.3h0M1261.2 1467.8h0M1223.6 1481.8h0M1239.8 1513.3h0M1190 1543h0M1222.4 1543.1h0M1301.3 1518.3h0M1255.3 1519.7h0M1234.6 1502.7h0M1194.4 1491h0M1275.5 1519.6h0M1218.4 1540.5h0M1262.1 1430.6h0M1294.6 1499.1h0M1234.6 1442.7h0M1191.8 1506.3h0M1293.7 1523.2h0M1305.8 1494.5h0M1303.7 1529.6h0M1237.8 1539.4h0M1226.2 1431.9h0M1236.7 1508.2h0M1214.9 1551.4h0" stroke="#2fb010" stroke-width="1.4" stroke-linecap="round" fill="none" opacity="0.85"/>
<path d="M1198.2 1545.7h0M1221.1 1438.8h0M1249.7 1478.8h0M1232 1515.6h0M1250.3 1459.5h0M1209.2 1436.4h0M1230.8 1542.7h0M1207.5 1465.5h0M1227 1557.9h0M1203.5 1528h0M1208.4 1530.2h0M1207.7 1504.5h0M1198.5 1552.3h0M1265.1 1511.7h0M1215.9 1504.8h0M1203.5 1493.6h0M1210.2 1458.6h0M1250.8 1560.3h0M1205.3 1511.2h0M1205.3 1539.7h0M1227.7 1559.2h0M1194.1 1516.1h0M1222.9 1458.5h0M1197.5 1534.5h0M1233.7 1453.3h0M1225.6 1509.9h0M1284.1 1522.4h0M1276.7 1485.1h0M1241.2 1546.7h0M1219.5 1453.7h0M1320.3 1560h0M1227.5 1529.9h0M1191.5 1436.4h0M1213.5 1485.5h0M1281 1496.8h0M1231.8 1460.1h0M1214.9 1527.8h0M1243 1502.1h0M1248.3 1508h0M1239.2 1466.9h0M1244.5 1482.2h0M1211.1 1437.3h0M1196.2 1537.6h0M1303.1 1546.7h0M1294 1510.3h0M1214.1 1438.2h0M1312.4 1490.7h0M1242.4 1436.5h0M1220.7 1533.2h0" stroke="#55e000" stroke-width="2" stroke-linecap="round" fill="none"/>
<path d="M1213.5 1442.3h0M1251.1 1456.6h0M1200.2 1499.8h0M1221.8 1446.4h0M1228.1 1525.5h0M1246.2 1499.5h0M1211.3 1530.2h0M1234.9 1537.4h0M1287.6 1521.9h0M1204.6 1476.9h0M1291 1500.7h0M1267.5 1470.7h0M1254.9 1500h0M1201.3 1494.6h0M1303.4 1467.1h0M1197.2 1533.9h0M1254.8 1457.7h0M1317.8 1495.9h0M1268.3 1465.3h0M1229.9 1538.4h0M1228.6 1483.7h0M1204.9 1550.8h0M1206.2 1561.2h0M1236.1 1510.4h0M1216.9 1540.8h0M1249.9 1466.5h0M1211 1528.4h0M1245.6 1513.5h0" stroke="#c8f000" stroke-width="2.4" stroke-linecap="round" fill="none"/>
</g>
<rect x="1237.8" y="1433" width="28" height="28" fill="none" stroke="#fff" stroke-width="1.4"/>
<rect x="1262" y="1503" width="62" height="62" filter="url(#n43)"/>
<g filter="url(#sb)"><path d="M1284.8 1533.4h0M1269.6 1524.5h0M1306 1514.1h0M1284.3 1561.8h0M1295.8 1545.4h0M1292.8 1549.3h0M1287 1553.4h0M1282.6 1545.1h0M1299.9 1548.3h0M1312.8 1513.4h0M1284.5 1551.4h0M1278 1554.9h0" stroke="#2fb010" stroke-width="2.7" stroke-linecap="round" fill="none" opacity="0.85"/>
<path d="M1267.1 1532.4h0M1314.9 1520.7h0M1283.9 1550.5h0M1309.1 1512.5h0M1282.8 1542h0M1289.3 1536.1h0M1295.7 1545.6h0M1297.7 1534.2h0M1305.4 1513.6h0" stroke="#55e000" stroke-width="3.8" stroke-linecap="round" fill="none"/>
<path d="M1271.9 1540.4h0M1305.7 1523.7h0M1279 1537.9h0M1311.7 1517.4h0M1307.2 1510.6h0" stroke="#c8f000" stroke-width="4.6" stroke-linecap="round" fill="none"/>
</g>
<path d="M1262.8 1565V1503.8H1324V1565" fill="none" stroke="#fff" stroke-width="1.7"/>
<line x1="1190.6" y1="1560.7" x2="1225.6" y2="1560.7" stroke="#fff" stroke-width="1.8"/>
<rect x="1336" y="1427" width="139" height="138" filter="url(#n44)"/>
<g filter="url(#sb)"><path d="M1376.2 1466h0M1375 1457.6h0M1373.7 1528.5h0M1390.8 1558.5h0M1340.8 1554.6h0M1367.3 1475h0M1470.1 1485.1h0M1464.6 1503h0M1373.7 1507.8h0M1467.7 1496.6h0M1385.4 1496.9h0M1368.1 1474.3h0M1351.6 1488h0M1403.6 1536.3h0M1452.7 1512h0M1352.3 1466.3h0M1408.9 1490.1h0M1362.6 1493.8h0M1435.5 1561.3h0M1371.3 1526.1h0M1378.8 1506.6h0M1398.4 1455.1h0M1414.5 1503.8h0M1414.7 1491.2h0M1412.6 1491.5h0M1363.4 1473h0M1439.1 1478.1h0M1392.2 1514.1h0M1394 1484.5h0M1386.4 1531.2h0M1357.4 1537.5h0M1374.7 1520.5h0M1377.9 1535.5h0M1455.5 1436h0M1381.2 1527.4h0M1386.5 1500.8h0M1406.2 1505.5h0M1354.1 1489.2h0M1413.9 1498.1h0M1383.8 1497.1h0M1344.3 1445h0M1415.6 1554.8h0M1384 1538.5h0M1470.1 1543.5h0M1382.5 1466.9h0M1356.7 1446.1h0M1349.4 1496.7h0M1443.5 1503.6h0M1399 1460.8h0M1409.8 1460.6h0M1354.3 1465.8h0M1374.6 1464h0M1393.1 1474.4h0M1469.5 1484h0" stroke="#2fb010" stroke-width="1.4" stroke-linecap="round" fill="none" opacity="0.85"/>
<path d="M1399.3 1434.2h0M1399.3 1464.6h0M1366.5 1503.1h0M1387 1564.1h0M1366.8 1445.8h0M1405 1473.5h0M1352.8 1487.8h0M1391.4 1459.7h0M1383 1531.5h0M1402.3 1459.6h0M1398.8 1547.7h0M1364 1466.5h0M1370.2 1479.3h0M1364 1479h0M1364.2 1460.5h0M1398.4 1466.2h0M1390.1 1503.8h0M1388.1 1501h0M1376.7 1511.9h0M1342.1 1445.1h0M1365.2 1441.2h0M1391.3 1462.9h0M1390.9 1513.2h0M1409 1554.2h0M1393.5 1484.6h0M1470 1452h0M1354 1495.5h0M1403.2 1464.6h0M1383.5 1542.4h0M1346.9 1512.5h0M1366.9 1513.4h0M1356.5 1463.1h0M1376 1475.5h0M1405.9 1448.7h0M1446.9 1507.2h0M1370.9 1450.9h0M1372.1 1512.5h0M1396.2 1507.4h0M1349.4 1495.4h0M1381.2 1526.6h0M1371.1 1525.4h0M1347.7 1519.9h0" stroke="#55e000" stroke-width="2" stroke-linecap="round" fill="none"/>
<path d="M1439.8 1492.3h0M1422.1 1523.3h0M1424 1489.1h0M1364.8 1544h0M1417.6 1486.5h0M1367.2 1508.6h0M1348.3 1538.1h0M1441.8 1549.2h0M1408.9 1518.2h0M1374.4 1548.7h0M1380.8 1561.9h0M1434.2 1439h0M1342.3 1453.8h0M1408.6 1543.1h0M1396.6 1478.9h0M1357.9 1464.5h0M1362.9 1502.7h0M1397.9 1500.4h0M1350.5 1457.4h0M1393.1 1493.9h0M1369.6 1462.1h0M1453.5 1446.9h0M1425.7 1429.3h0M1380.7 1507.9h0" stroke="#c8f000" stroke-width="2.4" stroke-linecap="round" fill="none"/>
<circle cx="1455.5" cy="1453.4" r="2.8" fill="#50f020"/><circle cx="1368" cy="1497.9" r="3" fill="#40e020"/><circle cx="1341.6" cy="1518.7" r="2.6" fill="#c0e800"/><circle cx="1379.1" cy="1446.5" r="3.2" fill="#e0e800"/><circle cx="1363.8" cy="1479.8" r="3.5" fill="#c8d800"/><circle cx="1444.4" cy="1500.7" r="2" fill="#b0e000"/></g>
<rect x="1354.4" y="1473.3" width="28" height="28" fill="none" stroke="#fff" stroke-width="1.4"/>
<rect x="1414" y="1503" width="61" height="62" filter="url(#n45)"/>
<g filter="url(#sb)"><path d="M1434.1 1559.1h0M1436.5 1537.9h0M1424.3 1538.8h0M1424.4 1542.5h0M1438.8 1551.5h0M1438.8 1548.8h0M1426.8 1507.4h0M1448.6 1514.6h0M1440.2 1548.6h0M1455.3 1529.9h0M1444.5 1548.7h0M1435.5 1535.8h0" stroke="#2fb010" stroke-width="2.7" stroke-linecap="round" fill="none" opacity="0.85"/>
<path d="M1435.5 1512.4h0M1434.1 1524.7h0M1438.9 1508h0M1434.9 1513.6h0M1425 1515.9h0M1425.1 1517.8h0M1434.6 1537.5h0M1463.1 1516.6h0M1433.1 1539.4h0" stroke="#55e000" stroke-width="3.8" stroke-linecap="round" fill="none"/>
<path d="M1429.1 1528.7h0M1422.1 1557h0M1449.4 1508.2h0M1431.5 1544.7h0M1436.7 1513.2h0" stroke="#c8f000" stroke-width="4.6" stroke-linecap="round" fill="none"/>
<ellipse cx="1445.7" cy="1558.8" rx="6" ry="7" fill="#50f020"/></g>
<path d="M1414.8 1565V1503.8H1475" fill="none" stroke="#fff" stroke-width="1.7"/>
<line x1="1339.6" y1="1560.7" x2="1374.6" y2="1560.7" stroke="#fff" stroke-width="1.8"/>
<text x="0" y="0" font-size="23.9" transform="translate(102 1133) rotate(-45)"><tspan font-style="italic">HyD-LIR-Venus</tspan><tspan font-style="italic" font-size="14.3" dy="-11.2">f/f</tspan></text>
<text x="0" y="0" font-size="23.9" transform="translate(250 1130.4) rotate(-45)"><tspan font-style="italic">HyD-LIR-Venus</tspan><tspan font-style="italic" font-size="14.3" dy="-11.2">f/f</tspan></text>
<text x="0" y="0" font-size="23.9" transform="translate(292 1127.5) rotate(-45)"><tspan>;Alb-</tspan><tspan font-style="italic">Cre</tspan></text>
<text x="0" y="0" font-size="23.9" transform="translate(402.5 1134) rotate(-45)"><tspan font-style="italic">Atg7</tspan><tspan font-style="italic" font-size="14.3" dy="-11.2">f/f</tspan><tspan dy="11.2">;Alb-</tspan><tspan font-style="italic">Cre</tspan></text>
<text x="0" y="0" font-size="23.9" transform="translate(610 1133) rotate(-45)"><tspan font-style="italic">HyD-LIR-Venus</tspan><tspan font-style="italic" font-size="14.3" dy="-11.2">f/f</tspan></text>
<text x="0" y="0" font-size="23.9" transform="translate(758 1130.4) rotate(-45)"><tspan font-style="italic">HyD-LIR-Venus</tspan><tspan font-style="italic" font-size="14.3" dy="-11.2">f/f</tspan></text>
<text x="0" y="0" font-size="23.9" transform="translate(800 1127.5) rotate(-45)"><tspan>;Alb-</tspan><tspan font-style="italic">Cre</tspan></text>
<text x="0" y="0" font-size="23.9" transform="translate(913.5 1134) rotate(-45)"><tspan font-style="italic">Atg7</tspan><tspan font-style="italic" font-size="14.3" dy="-11.2">f/f</tspan><tspan dy="11.2">;Alb-</tspan><tspan font-style="italic">Cre</tspan></text>
<text x="0" y="0" font-size="23.9" transform="translate(1109 1133) rotate(-45)"><tspan font-style="italic">HyD-LIR-Venus</tspan><tspan font-style="italic" font-size="14.3" dy="-11.2">f/f</tspan></text>
<text x="0" y="0" font-size="23.9" transform="translate(1258 1130.4) rotate(-45)"><tspan font-style="italic">HyD-LIR-Venus</tspan><tspan font-style="italic" font-size="14.3" dy="-11.2">f/f</tspan></text>
<text x="0" y="0" font-size="23.9" transform="translate(1299.5 1127.5) rotate(-45)"><tspan>;Alb-</tspan><tspan font-style="italic">Cre</tspan></text>
<text x="0" y="0" font-size="23.9" transform="translate(1405 1134) rotate(-45)"><tspan font-style="italic">Atg7</tspan><tspan font-style="italic" font-size="14.3" dy="-11.2">f/f</tspan><tspan dy="11.2">;Alb-</tspan><tspan font-style="italic">Cre</tspan></text>
<text x="0" y="0" font-size="23.6" text-anchor="middle" transform="translate(23.4 1211.4) rotate(-90)">p62</text>
<text x="0" y="0" font-size="23.6" text-anchor="middle" transform="translate(23.4 1497.1) rotate(-90)">Merged</text>
<text x="0" y="0" font-size="23.6" text-anchor="middle" transform="translate(23.4 1353.5) rotate(-90)">Ubiquitin</text>
<text x="0" y="0" font-size="23.6" text-anchor="middle" transform="translate(538.6 1211.4) rotate(-90)">p62</text>
<text x="0" y="0" font-size="23.6" text-anchor="middle" transform="translate(538.6 1497.1) rotate(-90)">Merged</text>
<text x="0" y="0" font-size="23.6" text-anchor="middle" transform="translate(1028.6 1211.4) rotate(-90)">p62</text>
<text x="0" y="0" font-size="23.6" text-anchor="middle" transform="translate(1028.6 1497.1) rotate(-90)">Merged</text>
<text x="0" y="0" font-size="23.6" text-anchor="middle" transform="translate(1028.6 1353.5) rotate(-90)">Keap1</text>
<text x="0" y="0" font-size="23.6" text-anchor="middle" transform="translate(514.6 1353) rotate(-90)">p-p62</text>
<text x="0" y="0" font-size="23.6" text-anchor="middle" transform="translate(543 1353) rotate(-90)">(S351)</text>
</g>
<g id="pd">
<text x="1812.3" y="965.9" font-size="43.3" font-weight="bold">d</text>
<text x="1939.8" y="968.4" font-size="23.6" text-anchor="middle" font-style="italic" fill="#231815">p62</text>
<text x="1910.5" y="993.6" font-size="13.6" text-anchor="middle">0.0460</text>
<text x="1965.9" y="993.6" font-size="13.6" text-anchor="middle">0.0048</text>
<text x="1917.5" y="1013" font-size="24.5" text-anchor="middle" fill="#231815" letter-spacing="1.8">*</text>
<text x="1966.9" y="1013" font-size="24.5" text-anchor="middle" fill="#231815" letter-spacing="1.8">**</text>
<rect x="1899.6" y="1173.4" width="10.6" height="71.9" fill="#fff" stroke="#000" stroke-width="1.6"/>
<circle cx="1903.4" cy="1172" r="2.7" fill="#fff" stroke="#000" stroke-width="0.9"/>
<circle cx="1906.4" cy="1172.9" r="2.7" fill="#fff" stroke="#000" stroke-width="0.9"/>
<circle cx="1904.9" cy="1176.6" r="2.7" fill="#fff" stroke="#000" stroke-width="0.9"/>
<rect x="1923.4" y="1086.4" width="10.6" height="158.9" fill="#bdbdbd" stroke="#000" stroke-width="1.6"/>
<line x1="1928.7" y1="1067.1" x2="1928.7" y2="1105.6" stroke="#000" stroke-width="1.6"/>
<line x1="1925.7" y1="1067.1" x2="1931.7" y2="1067.1" stroke="#000" stroke-width="1.6"/>
<line x1="1925.7" y1="1105.6" x2="1931.7" y2="1105.6" stroke="#000" stroke-width="1.6"/>
<circle cx="1928.7" cy="1048.4" r="2.7" fill="#fff" stroke="#000" stroke-width="0.9"/>
<circle cx="1928.7" cy="1104.2" r="2.7" fill="#fff" stroke="#000" stroke-width="0.9"/>
<circle cx="1928.7" cy="1107" r="2.7" fill="#fff" stroke="#000" stroke-width="0.9"/>
<rect x="1946.8" y="1159.7" width="10.6" height="85.6" fill="#6e6e6e" stroke="#000" stroke-width="1.6"/>
<line x1="1952.1" y1="1149.1" x2="1952.1" y2="1170.2" stroke="#000" stroke-width="1.6"/>
<line x1="1949.1" y1="1149.1" x2="1955.1" y2="1149.1" stroke="#000" stroke-width="1.6"/>
<line x1="1949.1" y1="1170.2" x2="1955.1" y2="1170.2" stroke="#000" stroke-width="1.6"/>
<circle cx="1952.1" cy="1137.7" r="2.7" fill="#fff" stroke="#000" stroke-width="0.9"/>
<circle cx="1952.1" cy="1170.6" r="2.7" fill="#fff" stroke="#000" stroke-width="0.9"/>
<circle cx="1952.1" cy="1173.4" r="2.7" fill="#fff" stroke="#000" stroke-width="0.9"/>
<rect x="1970.3" y="1052.9" width="10.6" height="192.4" fill="#000" stroke="#000" stroke-width="1.6"/>
<line x1="1975.6" y1="1039.2" x2="1975.6" y2="1052.9" stroke="#000" stroke-width="1.6"/>
<line x1="1972.6" y1="1039.2" x2="1978.6" y2="1039.2" stroke="#000" stroke-width="1.6"/>
<circle cx="1975.6" cy="1024.1" r="2.7" fill="#fff" stroke="#000" stroke-width="0.9"/>
<circle cx="1975.6" cy="1066.7" r="2.7" fill="#fff" stroke="#000" stroke-width="0.9"/>
<circle cx="1975.6" cy="1069" r="2.7" fill="#fff" stroke="#000" stroke-width="0.9"/>
<line x1="1893.1" y1="1015.3" x2="1893.1" y2="1246.3" stroke="#000" stroke-width="1.8"/>
<line x1="1888.8" y1="1245.3" x2="1987.6" y2="1245.3" stroke="#000" stroke-width="1.8"/>
<line x1="1888.8" y1="1245.3" x2="1893.1" y2="1245.3" stroke="#000" stroke-width="1.8"/>
<text x="1872.9" y="1253.8" font-size="23.6" text-anchor="end">0</text>
<line x1="1888.8" y1="1199.5" x2="1893.1" y2="1199.5" stroke="#000" stroke-width="1.8"/>
<text x="1872.9" y="1208" font-size="23.6" text-anchor="end">1</text>
<line x1="1888.8" y1="1153.7" x2="1893.1" y2="1153.7" stroke="#000" stroke-width="1.8"/>
<text x="1872.9" y="1162.2" font-size="23.6" text-anchor="end">2</text>
<line x1="1888.8" y1="1107.9" x2="1893.1" y2="1107.9" stroke="#000" stroke-width="1.8"/>
<text x="1872.9" y="1116.4" font-size="23.6" text-anchor="end">3</text>
<line x1="1888.8" y1="1062.1" x2="1893.1" y2="1062.1" stroke="#000" stroke-width="1.8"/>
<text x="1872.9" y="1070.6" font-size="23.6" text-anchor="end">4</text>
<line x1="1888.8" y1="1016.3" x2="1893.1" y2="1016.3" stroke="#000" stroke-width="1.8"/>
<text x="1872.9" y="1024.8" font-size="23.6" text-anchor="end">5</text>
<path d="M1901.6 1136.5V1009.4H1928.7V1028.2" fill="none" stroke="#000" stroke-width="1.5"/>
<path d="M1949.1 1126.7V1009.4H1975.4V1016.9" fill="none" stroke="#000" stroke-width="1.5"/>
<text x="0" y="0" font-size="23.6" text-anchor="middle" fill="#231815" transform="translate(1836.4 1130) rotate(-90)">Relative mRNA</text>
<text x="1940.2" y="1278.3" font-size="23.6" text-anchor="middle" font-style="italic" fill="#231815">Nqo1</text>
<text x="1976.8" y="1322.1" font-size="13.6" text-anchor="middle">0.0160</text>
<text x="1979.3" y="1343" font-size="24.5" text-anchor="middle" fill="#231815" letter-spacing="1.8">*</text>
<rect x="1912.7" y="1553.7" width="10.6" height="15.4" fill="#fff" stroke="#000" stroke-width="1.6"/>
<circle cx="1916" cy="1551.8" r="2.7" fill="#fff" stroke="#000" stroke-width="0.9"/>
<circle cx="1920" cy="1549.9" r="2.7" fill="#fff" stroke="#000" stroke-width="0.9"/>
<circle cx="1918" cy="1559.5" r="2.7" fill="#fff" stroke="#000" stroke-width="0.9"/>
<rect x="1936.2" y="1432.8" width="10.6" height="136.3" fill="#bdbdbd" stroke="#000" stroke-width="1.6"/>
<line x1="1941.5" y1="1401.7" x2="1941.5" y2="1463.9" stroke="#000" stroke-width="1.6"/>
<line x1="1938.5" y1="1401.7" x2="1944.5" y2="1401.7" stroke="#000" stroke-width="1.6"/>
<line x1="1938.5" y1="1463.9" x2="1944.5" y2="1463.9" stroke="#000" stroke-width="1.6"/>
<circle cx="1942.5" cy="1384.8" r="2.7" fill="#fff" stroke="#000" stroke-width="0.9"/>
<circle cx="1942.5" cy="1424.1" r="2.7" fill="#fff" stroke="#000" stroke-width="0.9"/>
<circle cx="1942.5" cy="1490.4" r="2.7" fill="#fff" stroke="#000" stroke-width="0.9"/>
<rect x="1960" y="1561.4" width="10.6" height="7.7" fill="#6e6e6e" stroke="#000" stroke-width="1.6"/>
<circle cx="1963.3" cy="1560.5" r="2.7" fill="#fff" stroke="#000" stroke-width="0.9"/>
<circle cx="1967.3" cy="1560.5" r="2.7" fill="#fff" stroke="#000" stroke-width="0.9"/>
<circle cx="1965.3" cy="1562.8" r="2.7" fill="#fff" stroke="#000" stroke-width="0.9"/>
<rect x="1984.5" y="1388.6" width="10.6" height="180.5" fill="#000" stroke="#000" stroke-width="1.6"/>
<line x1="1989.8" y1="1366.5" x2="1989.8" y2="1388.6" stroke="#000" stroke-width="1.6"/>
<line x1="1986.8" y1="1366.5" x2="1992.8" y2="1366.5" stroke="#000" stroke-width="1.6"/>
<circle cx="1989.8" cy="1358.9" r="2.7" fill="#fff" stroke="#000" stroke-width="0.9"/>
<circle cx="1989.8" cy="1375.6" r="2.7" fill="#fff" stroke="#000" stroke-width="0.9"/>
<circle cx="1989.8" cy="1432.2" r="2.7" fill="#fff" stroke="#000" stroke-width="0.9"/>
<line x1="1906.2" y1="1337.7" x2="1906.2" y2="1570.1" stroke="#000" stroke-width="1.8"/>
<line x1="1901.9" y1="1569.1" x2="2001.9" y2="1569.1" stroke="#000" stroke-width="1.8"/>
<line x1="1901.9" y1="1569.1" x2="1906.2" y2="1569.1" stroke="#000" stroke-width="1.8"/>
<text x="1886.2" y="1577.6" font-size="23.6" text-anchor="end">0</text>
<line x1="1901.9" y1="1530.7" x2="1906.2" y2="1530.7" stroke="#000" stroke-width="1.8"/>
<text x="1886.2" y="1539.2" font-size="23.6" text-anchor="end">2</text>
<line x1="1901.9" y1="1492.3" x2="1906.2" y2="1492.3" stroke="#000" stroke-width="1.8"/>
<text x="1886.2" y="1500.8" font-size="23.6" text-anchor="end">4</text>
<line x1="1901.9" y1="1453.9" x2="1906.2" y2="1453.9" stroke="#000" stroke-width="1.8"/>
<text x="1886.2" y="1462.4" font-size="23.6" text-anchor="end">6</text>
<line x1="1901.9" y1="1415.5" x2="1906.2" y2="1415.5" stroke="#000" stroke-width="1.8"/>
<text x="1886.2" y="1424" font-size="23.6" text-anchor="end">8</text>
<line x1="1901.9" y1="1377.1" x2="1906.2" y2="1377.1" stroke="#000" stroke-width="1.8"/>
<text x="1886.2" y="1385.6" font-size="23.6" text-anchor="end">10</text>
<line x1="1901.9" y1="1338.7" x2="1906.2" y2="1338.7" stroke="#000" stroke-width="1.8"/>
<text x="1886.2" y="1347.2" font-size="23.6" text-anchor="end">12</text>
<path d="M1964.9 1515.3V1338.7H1988V1352.2" fill="none" stroke="#000" stroke-width="1.5"/>
<text x="0" y="0" font-size="23.6" text-anchor="middle" fill="#231815" transform="translate(1835 1453.5) rotate(-90)">Relative mRNA</text>
<text x="1955" y="1599.4" font-size="23.6" text-anchor="middle" font-style="italic" fill="#231815">Gstm1</text>
<text x="1925" y="1642.9" font-size="13.6" text-anchor="middle">0.0146</text>
<text x="1980.1" y="1642.9" font-size="13.6" text-anchor="middle">0.0005</text>
<text x="1931.7" y="1665" font-size="24.5" text-anchor="middle" fill="#231815" letter-spacing="1.8">*</text>
<text x="1982.1" y="1665" font-size="24.5" text-anchor="middle" fill="#231815" letter-spacing="1.8">***</text>
<rect x="1912.8" y="1869.1" width="10.6" height="22" fill="#fff" stroke="#000" stroke-width="1.6"/>
<circle cx="1916.6" cy="1869.1" r="2.7" fill="#fff" stroke="#000" stroke-width="0.9"/>
<circle cx="1918.1" cy="1867.2" r="2.7" fill="#fff" stroke="#000" stroke-width="0.9"/>
<circle cx="1920.1" cy="1869.6" r="2.7" fill="#fff" stroke="#000" stroke-width="0.9"/>
<rect x="1936.3" y="1719.6" width="10.6" height="171.5" fill="#bdbdbd" stroke="#000" stroke-width="1.6"/>
<line x1="1941.6" y1="1702" x2="1941.6" y2="1737.3" stroke="#000" stroke-width="1.6"/>
<line x1="1938.6" y1="1702" x2="1944.6" y2="1702" stroke="#000" stroke-width="1.6"/>
<line x1="1938.6" y1="1737.3" x2="1944.6" y2="1737.3" stroke="#000" stroke-width="1.6"/>
<circle cx="1942.1" cy="1690.9" r="2.7" fill="#fff" stroke="#000" stroke-width="0.9"/>
<circle cx="1942.1" cy="1713.9" r="2.7" fill="#fff" stroke="#000" stroke-width="0.9"/>
<circle cx="1942.1" cy="1754.1" r="2.7" fill="#fff" stroke="#000" stroke-width="0.9"/>
<rect x="1959.9" y="1861.4" width="10.6" height="29.7" fill="#6e6e6e" stroke="#000" stroke-width="1.6"/>
<circle cx="1963.7" cy="1861.4" r="2.7" fill="#fff" stroke="#000" stroke-width="0.9"/>
<circle cx="1965.2" cy="1858.5" r="2.7" fill="#fff" stroke="#000" stroke-width="0.9"/>
<circle cx="1967.2" cy="1861.4" r="2.7" fill="#fff" stroke="#000" stroke-width="0.9"/>
<rect x="1983.3" y="1729.2" width="10.6" height="161.9" fill="#000" stroke="#000" stroke-width="1.6"/>
<line x1="1988.6" y1="1725.4" x2="1988.6" y2="1729.2" stroke="#000" stroke-width="1.6"/>
<line x1="1985.6" y1="1725.4" x2="1991.6" y2="1725.4" stroke="#000" stroke-width="1.6"/>
<circle cx="1989.1" cy="1722.5" r="2.7" fill="#fff" stroke="#000" stroke-width="0.9"/>
<circle cx="1989.1" cy="1730.2" r="2.7" fill="#fff" stroke="#000" stroke-width="0.9"/>
<circle cx="1989.1" cy="1735.9" r="2.7" fill="#fff" stroke="#000" stroke-width="0.9"/>
<line x1="1906.6" y1="1660.2" x2="1906.6" y2="1892.1" stroke="#000" stroke-width="1.8"/>
<line x1="1902.3" y1="1891.1" x2="2009" y2="1891.1" stroke="#000" stroke-width="1.8"/>
<line x1="1902.3" y1="1891.1" x2="1906.6" y2="1891.1" stroke="#000" stroke-width="1.8"/>
<text x="1886.2" y="1899.6" font-size="23.6" text-anchor="end">0</text>
<line x1="1902.3" y1="1852.8" x2="1906.6" y2="1852.8" stroke="#000" stroke-width="1.8"/>
<text x="1886.2" y="1861.3" font-size="23.6" text-anchor="end">2</text>
<line x1="1902.3" y1="1814.5" x2="1906.6" y2="1814.5" stroke="#000" stroke-width="1.8"/>
<text x="1886.2" y="1823" font-size="23.6" text-anchor="end">4</text>
<line x1="1902.3" y1="1776.2" x2="1906.6" y2="1776.2" stroke="#000" stroke-width="1.8"/>
<text x="1886.2" y="1784.6" font-size="23.6" text-anchor="end">6</text>
<line x1="1902.3" y1="1737.8" x2="1906.6" y2="1737.8" stroke="#000" stroke-width="1.8"/>
<text x="1886.2" y="1746.3" font-size="23.6" text-anchor="end">8</text>
<line x1="1902.3" y1="1699.5" x2="1906.6" y2="1699.5" stroke="#000" stroke-width="1.8"/>
<text x="1886.2" y="1708" font-size="23.6" text-anchor="end">10</text>
<line x1="1902.3" y1="1661.2" x2="1906.6" y2="1661.2" stroke="#000" stroke-width="1.8"/>
<text x="1886.2" y="1669.7" font-size="23.6" text-anchor="end">12</text>
<path d="M1917.4 1837.4V1661.2H1941V1675.6" fill="none" stroke="#000" stroke-width="1.5"/>
<path d="M1965.3 1838.4V1661.2H1988.6V1693.8" fill="none" stroke="#000" stroke-width="1.5"/>
<text x="0" y="0" font-size="23.6" text-anchor="middle" fill="#231815" transform="translate(1835 1775.9) rotate(-90)">Relative mRNA</text>
</g>
<g id="pe">
<text x="-1" y="1654.4" font-size="43.3" font-weight="bold">e</text>
<text x="208.9" y="1673.3" font-size="13.6" text-anchor="middle">0.0000</text>
<text x="212" y="1695.5" font-size="24.5" text-anchor="middle" fill="#231815" letter-spacing="1.8">***</text>
<path d="M191.4 1886.4V1693.3H225V1726" fill="none" stroke="#000" stroke-width="1.5"/>
<rect x="116.1" y="1943.4" width="11.4" height="111.4" fill="#fff" stroke="#000" stroke-width="1.6"/>
<line x1="121.8" y1="1936.3" x2="121.8" y2="1950.5" stroke="#000" stroke-width="1.6"/>
<line x1="118.8" y1="1936.3" x2="124.8" y2="1936.3" stroke="#000" stroke-width="1.6"/>
<line x1="118.8" y1="1950.5" x2="124.8" y2="1950.5" stroke="#000" stroke-width="1.6"/>
<circle cx="121.8" cy="1928.8" r="2.7" fill="#fff" stroke="#000" stroke-width="0.9"/>
<circle cx="121.8" cy="1938.4" r="2.7" fill="#fff" stroke="#000" stroke-width="0.9"/>
<circle cx="121.8" cy="1949.5" r="2.7" fill="#fff" stroke="#000" stroke-width="0.9"/>
<circle cx="121.8" cy="1961.2" r="2.7" fill="#fff" stroke="#000" stroke-width="0.9"/>
<rect x="149.3" y="1929.2" width="11.4" height="125.6" fill="#a9a9a9" stroke="#000" stroke-width="1.6"/>
<line x1="155" y1="1921.2" x2="155" y2="1937.4" stroke="#000" stroke-width="1.6"/>
<line x1="152" y1="1921.2" x2="158" y2="1921.2" stroke="#000" stroke-width="1.6"/>
<line x1="152" y1="1937.4" x2="158" y2="1937.4" stroke="#000" stroke-width="1.6"/>
<circle cx="155" cy="1909" r="2.7" fill="#fff" stroke="#000" stroke-width="0.9"/>
<circle cx="155" cy="1929.2" r="2.7" fill="#fff" stroke="#000" stroke-width="0.9"/>
<circle cx="155" cy="1942.4" r="2.7" fill="#fff" stroke="#000" stroke-width="0.9"/>
<circle cx="155" cy="1950.5" r="2.7" fill="#fff" stroke="#000" stroke-width="0.9"/>
<rect x="182.5" y="1964.7" width="11.4" height="90.1" fill="#595959" stroke="#000" stroke-width="1.6"/>
<circle cx="184.2" cy="1963.7" r="2.7" fill="#fff" stroke="#000" stroke-width="0.9"/>
<circle cx="192.2" cy="1964.7" r="2.7" fill="#fff" stroke="#000" stroke-width="0.9"/>
<circle cx="186.2" cy="1969.8" r="2.7" fill="#fff" stroke="#000" stroke-width="0.9"/>
<circle cx="190.2" cy="1969.8" r="2.7" fill="#fff" stroke="#000" stroke-width="0.9"/>
<circle cx="188.2" cy="1959.6" r="2.7" fill="#fff" stroke="#000" stroke-width="0.9"/>
<circle cx="188.2" cy="1965.7" r="2.7" fill="#fff" stroke="#000" stroke-width="0.9"/>
<rect x="216.5" y="1828" width="11.4" height="226.8" fill="#000" stroke="#000" stroke-width="1.6"/>
<circle cx="222.2" cy="1763.2" r="2.7" fill="#fff" stroke="#000" stroke-width="0.9"/>
<circle cx="222.2" cy="1776.4" r="2.7" fill="#fff" stroke="#000" stroke-width="0.9"/>
<circle cx="220.2" cy="1789.5" r="2.7" fill="#fff" stroke="#000" stroke-width="0.9"/>
<circle cx="224.2" cy="1790.5" r="2.7" fill="#fff" stroke="#000" stroke-width="0.9"/>
<circle cx="222.2" cy="1804.7" r="2.7" fill="#fff" stroke="#000" stroke-width="0.9"/>
<circle cx="222.2" cy="1811.8" r="2.7" fill="#fff" stroke="#000" stroke-width="0.9"/>
<circle cx="224.2" cy="1820.9" r="2.7" fill="#fff" stroke="#000" stroke-width="0.9"/>
<circle cx="220.2" cy="1822.9" r="2.7" fill="#fff" stroke="#000" stroke-width="0.9"/>
<circle cx="222.2" cy="1830" r="2.7" fill="#fff" stroke="#000" stroke-width="0.9"/>
<circle cx="222.2" cy="1843.2" r="2.7" fill="#fff" stroke="#000" stroke-width="0.9"/>
<circle cx="222.2" cy="1852.3" r="2.7" fill="#fff" stroke="#000" stroke-width="0.9"/>
<circle cx="222.2" cy="1856.3" r="2.7" fill="#fff" stroke="#000" stroke-width="0.9"/>
<circle cx="218.2" cy="1864.5" r="2.7" fill="#fff" stroke="#000" stroke-width="0.9"/>
<circle cx="226.2" cy="1865.5" r="2.7" fill="#fff" stroke="#000" stroke-width="0.9"/>
<circle cx="222.2" cy="1866.5" r="2.7" fill="#fff" stroke="#000" stroke-width="0.9"/>
<circle cx="222.2" cy="1870.5" r="2.7" fill="#fff" stroke="#000" stroke-width="0.9"/>
<circle cx="222.2" cy="1878.6" r="2.7" fill="#fff" stroke="#000" stroke-width="0.9"/>
<line x1="104.2" y1="1729.8" x2="104.2" y2="2055.8" stroke="#000" stroke-width="1.8"/>
<line x1="96.9" y1="2054.8" x2="240.1" y2="2054.8" stroke="#000" stroke-width="1.8"/>
<line x1="96.9" y1="2054.8" x2="104.2" y2="2054.8" stroke="#000" stroke-width="1.8"/>
<text x="81.7" y="2063.3" font-size="23.6" text-anchor="end">0</text>
<line x1="96.9" y1="2014.3" x2="104.2" y2="2014.3" stroke="#000" stroke-width="1.8"/>
<text x="81.7" y="2022.8" font-size="23.6" text-anchor="end">2</text>
<line x1="96.9" y1="1973.8" x2="104.2" y2="1973.8" stroke="#000" stroke-width="1.8"/>
<text x="81.7" y="1982.3" font-size="23.6" text-anchor="end">4</text>
<line x1="96.9" y1="1933.3" x2="104.2" y2="1933.3" stroke="#000" stroke-width="1.8"/>
<text x="81.7" y="1941.8" font-size="23.6" text-anchor="end">6</text>
<line x1="96.9" y1="1892.8" x2="104.2" y2="1892.8" stroke="#000" stroke-width="1.8"/>
<text x="81.7" y="1901.3" font-size="23.6" text-anchor="end">8</text>
<line x1="96.9" y1="1852.3" x2="104.2" y2="1852.3" stroke="#000" stroke-width="1.8"/>
<text x="81.7" y="1860.8" font-size="23.6" text-anchor="end">10</text>
<line x1="96.9" y1="1811.8" x2="104.2" y2="1811.8" stroke="#000" stroke-width="1.8"/>
<text x="81.7" y="1820.3" font-size="23.6" text-anchor="end">12</text>
<line x1="96.9" y1="1771.3" x2="104.2" y2="1771.3" stroke="#000" stroke-width="1.8"/>
<text x="81.7" y="1779.8" font-size="23.6" text-anchor="end">14</text>
<line x1="96.9" y1="1730.8" x2="104.2" y2="1730.8" stroke="#000" stroke-width="1.8"/>
<text x="81.7" y="1739.3" font-size="23.6" text-anchor="end">16</text>
<text x="0" y="0" font-size="23.9" text-anchor="middle" transform="translate(30.3 1892.8) rotate(-90)">Liver weight/body weight (%)</text>
<rect x="31.3" y="2084.2" width="15.5" height="14.7" fill="#fff" stroke="#231815" stroke-width="1.2"/>
<text x="63" y="2099.9" font-size="23.9" font-style="italic">HyD-LIR-Venus</text>
<rect x="31.3" y="2121.1" width="15.5" height="14.7" fill="#b0b0b0" stroke="#8c8c8c" stroke-width="1.2"/>
<text x="63" y="2137.1" font-size="23.9"><tspan font-style="italic">HyD-LIR-Venus</tspan><tspan font-style="italic" font-size="14.3" dy="-11.2">f/f</tspan><tspan dy="11.2">;Alb-</tspan><tspan font-style="italic">Cre</tspan></text>
<rect x="31.3" y="2158" width="15.5" height="14.7" fill="#626262" stroke="#4a4a4a" stroke-width="1.2"/>
<text x="63" y="2174.1" font-size="23.9"><tspan font-style="italic">Atg7</tspan><tspan font-style="italic" font-size="14.3" dy="-11.2">f/f</tspan></text>
<rect x="31.3" y="2194.4" width="15.5" height="14.7" fill="#1e1e1e" stroke="#1e1e1e" stroke-width="1.2"/>
<text x="63" y="2210.4" font-size="23.9"><tspan font-style="italic">Atg7</tspan><tspan font-style="italic" font-size="14.3" dy="-11.2">f/f</tspan><tspan dy="11.2">;Alb-</tspan><tspan font-style="italic">Cre</tspan></text>
</g>
<g id="pf">
<text x="343.7" y="1653.9" font-size="43.3" font-weight="bold">f</text>
<clipPath id="fc0"><rect x="423.6" y="1680.7" width="171.6" height="170.8"/></clipPath>
<g clip-path="url(#fc0)">
<rect x="421.6" y="1678.7" width="175.6" height="174.8" filter="url(#n46)"/>
<g filter="url(#fb2)">
<path d="M436.9 1696h0M434.2 1695.3h0M436 1692h0M441.6 1693.1h0M436.5 1694.6h0M439.6 1692.6h0M438.2 1690.2h0M435.7 1691.6h0M433.2 1688.8h0M432.4 1692.1h0M436.2 1691.9h0M436.8 1689.2h0M436.4 1693.3h0M438.6 1690.5h0M435.6 1687.4h0M435.3 1687h0M443.7 1705.6h0M441.2 1704.6h0M449.2 1701.1h0M449.6 1703.8h0M451.4 1701.4h0M446.3 1700.2h0M445 1702h0M445.7 1705.4h0M442.3 1698.7h0M445.1 1695.5h0M454.1 1694.6h0M447.2 1700.5h0M453.3 1695.9h0M451.5 1699.8h0M447.6 1700h0M450.1 1698.5h0M447.9 1703.2h0M453.9 1694.6h0M452.9 1705.1h0M446.6 1703.1h0M481.1 1705.2h0M483.2 1699.3h0M481.9 1699.4h0M482 1697.3h0M489 1694h0M471.3 1699.6h0M482.1 1701.2h0M481.9 1699.5h0M483.6 1703h0M481.2 1698.8h0M488.7 1701.7h0M479.5 1707.3h0M485 1698.2h0M478.9 1700.9h0M480 1696.7h0M478.5 1698.4h0M486.1 1698.7h0M478 1702.1h0M482.8 1702.7h0M486.3 1699.5h0M438.3 1723.9h0M435.2 1726.1h0M443 1724.6h0M438 1723.2h0M436.3 1721.5h0M437.5 1721.4h0M437.4 1719.1h0M439.8 1724.2h0M435.1 1716.8h0M438.7 1727.5h0M436.4 1722.5h0M437 1726.1h0M435.9 1727.1h0M437.8 1726.9h0M438.8 1723.3h0M434.1 1721.9h0M437.9 1726.1h0M439.5 1721.8h0M440 1727.1h0M438.3 1722.6h0M476.3 1735.5h0M478.8 1731h0M478.3 1732.2h0M475.4 1736.7h0M479.5 1731.5h0M477.6 1734.7h0M475.7 1733.1h0M479.1 1728.7h0M478.2 1735.3h0M478.7 1729.9h0M478.2 1731.2h0M478.9 1735h0M477.9 1731.4h0M475.8 1735.6h0M475 1734.7h0M478.7 1732.7h0M539.6 1722.1h0M538.9 1716.1h0M526.3 1724.8h0M534.5 1721h0M532.5 1716.5h0M530.9 1719h0M532.1 1724.5h0M532.8 1723h0M530.7 1720.7h0M533 1721.1h0M536.3 1719.4h0M538.1 1719.1h0M535.7 1719.7h0M537.4 1722.3h0M533.8 1724.1h0M530.9 1718.9h0M526.9 1725.4h0M530.7 1720.2h0M542 1743.3h0M537.1 1738.3h0M541 1739.1h0M536.9 1736.5h0M544.5 1742.1h0M546.7 1735.1h0M542.2 1737.3h0M538.1 1733.5h0M544.3 1738.3h0M541.7 1741.1h0M539.2 1739.1h0M542.1 1737.4h0M543.5 1738.1h0M542.9 1738.4h0M547.7 1736.7h0M545 1739.3h0M541.1 1739.9h0M539.6 1740.9h0M564 1717.5h0M566.9 1721h0M568.5 1721.1h0M565.6 1716.3h0M567.5 1719.6h0M563.6 1721.3h0M566.6 1716.3h0M567.3 1715.3h0M563.8 1719.9h0M562 1718.9h0M562.6 1720.7h0M564.2 1719.3h0M562.2 1717.9h0M568.6 1720h0M561.3 1721.2h0M568.4 1717.8h0M543.4 1749.9h0M538.7 1756.7h0M543.1 1757.3h0M535.5 1747.7h0M540.2 1748.8h0M538.5 1749.2h0M542.3 1755.8h0M540.7 1753.3h0M539.1 1752.3h0M540.2 1754h0M540.4 1751.9h0M544.9 1754.1h0M543.3 1757.4h0M536.2 1748h0M542.9 1752h0M539.2 1752.4h0M539.4 1749.5h0M538.6 1751.8h0M538.9 1745.9h0M541.5 1754.3h0M467.8 1771.8h0M473.3 1776.1h0M473.2 1778.5h0M473.3 1771h0M471.1 1776.5h0M471.3 1776.8h0M476.4 1776h0M476.4 1773.6h0M473.2 1772.3h0M471.3 1769.2h0M471.4 1770.8h0M468.7 1774.6h0M474.6 1773.1h0M477.5 1777.1h0M476.5 1772.2h0M468.5 1775.9h0M474.2 1776.4h0M474.5 1778.1h0M472.3 1776.2h0M470.4 1766.9h0M494.5 1790h0M490 1788.3h0M493.7 1783.1h0M496.3 1785.3h0M492.6 1785h0M497.8 1787.6h0M493.4 1790.2h0M503.1 1793.4h0M491.3 1785.2h0M489.4 1786h0M498.2 1780.4h0M490.4 1785.3h0M498.4 1781.7h0M495.2 1775.3h0M493.6 1785.1h0M496.7 1790.4h0M492 1776.3h0M497.8 1782.4h0M497.2 1787.2h0M498.3 1789.8h0M501.1 1778.5h0M495.9 1791.9h0M494.7 1788.1h0M557.5 1796.2h0M565.2 1803h0M556.6 1802.4h0M551.6 1794.7h0M562 1798.3h0M552.8 1800.3h0M559.3 1804.2h0M562.2 1796.8h0M555.5 1797.5h0M556.7 1805h0M565.2 1804.5h0M559.5 1797h0M562 1796.5h0M558.9 1790.3h0M555.8 1804.9h0M552.9 1791.1h0M557 1806h0M564.6 1796.5h0M555.5 1797.6h0M553.4 1798.3h0M556.3 1791.2h0M555 1796.9h0M553.7 1792.9h0M562 1807.1h0M556.4 1796.1h0M560.1 1797.1h0M554.1 1804.7h0M552.9 1794.7h0M554.6 1794h0M556.6 1800.8h0M568.2 1810h0M563.1 1803h0M562.7 1804.1h0M562.6 1811.1h0M563.7 1806.8h0M560.2 1807.5h0M563.4 1804.1h0M561.1 1810.8h0M556.9 1805.9h0M558.7 1813.2h0M565.2 1809.4h0M564.4 1808.6h0M564 1801.7h0M563.9 1809.7h0M557.7 1810.6h0M565.4 1802h0M561.2 1806.4h0M561 1809h0M558.3 1806.7h0M563.8 1810.2h0M563.1 1806.7h0M565.5 1800.3h0M566.4 1806.4h0M483.9 1819.8h0M482.1 1814.7h0M486.8 1818.7h0M490.1 1818.3h0M483.7 1818.1h0M493.2 1821.2h0M485.9 1818h0M484.4 1820.6h0M489.1 1824.7h0M491.4 1822h0M485.7 1818.4h0M480.6 1817.9h0M489.1 1820.1h0M489 1816.9h0M490.6 1822h0M487.9 1822.4h0M480.8 1819.4h0M485 1826.8h0M487.2 1819.5h0M490.5 1817.8h0M533.4 1834.9h0M527.2 1834h0M530.8 1828.7h0M530.4 1834.4h0M527.7 1833h0M528.4 1838.6h0M529.9 1839.1h0M530.1 1842h0M525.8 1832.9h0M522.1 1840.7h0M525.9 1842.2h0M527.7 1833.6h0M531.3 1845.9h0M526.7 1833.9h0M523.9 1841.5h0M525 1836.1h0M530.3 1837.9h0M528 1835.5h0M524.8 1838.5h0M528.1 1840.3h0M525.4 1839.3h0M529.5 1838.2h0M529.9 1842h0M528.3 1838.1h0M523.4 1839.2h0M527.1 1836.5h0M581.3 1833.3h0M591.9 1832.9h0M584.1 1832.9h0M582 1831.8h0M581.8 1829.5h0M584.6 1832.3h0M583.5 1829.1h0M584.7 1828.1h0M586.3 1830.5h0M583.8 1834h0M585.6 1827.5h0M583.1 1832.7h0M580.4 1824h0M583.6 1831.4h0M585.2 1831.8h0M584.3 1832.3h0M588.2 1833.1h0M585.5 1830.3h0M587.4 1831h0M586.2 1824.9h0M439.4 1807.3h0M437.5 1810.9h0M439.8 1807.2h0M437.4 1812.4h0M440.7 1809.3h0M436.7 1810.9h0M440.2 1806.8h0M438.5 1803.3h0M440.4 1804.7h0M440.9 1806.4h0M437.1 1808.5h0M439.3 1804.6h0M438.5 1809.1h0M438.1 1804h0M438.1 1805h0M437.2 1807.7h0M463.7 1787.2h0M459.5 1788.6h0M463.3 1786.6h0M464.2 1792.7h0M460.4 1783.5h0M465.8 1785.7h0M467.2 1785.1h0M462.5 1789.9h0M466.2 1788.9h0M465 1787.4h0M462.6 1787.2h0M467.1 1789.5h0M463.8 1788.5h0M465.9 1790.8h0M463.4 1787.5h0M464.7 1794.5h0M521.7 1701.6h0M518 1700.7h0M518.3 1696.7h0M519.9 1698.7h0M521.6 1699.7h0M521.7 1698.1h0M526.6 1699.8h0M522.6 1703.2h0M523.2 1700.2h0M521.9 1702.8h0M519 1697h0M521.5 1694.7h0M519.6 1701.3h0M432.6 1744.2h0M435 1741.4h0M434.1 1742.6h0M431.3 1743.3h0M433.4 1743h0M432.2 1745.8h0M435.9 1745h0M433.3 1741.7h0M431.8 1741.6h0M434 1745.7h0M435.4 1743.8h0M432.7 1744.2h0M433.8 1745.1h0M581.7 1760.2h0M583 1757.3h0M574.9 1758.5h0M576.5 1761.1h0M582.9 1760.2h0M580.9 1760.9h0M578.9 1759.5h0M583.3 1761.5h0M577.4 1766.3h0M579 1762.5h0M578.3 1759.9h0M575.7 1761.2h0M582 1762.5h0" stroke="#f2e0f0" stroke-width="2.6" stroke-linecap="round" fill="none" opacity="0.8"/>
<path d="M571.3 1729.2L558.8 1758.5L543.1 1787.7L524.3 1810.7L508.7 1831.6L498.2 1852.4" fill="none" stroke="#e2d6e0" stroke-width="6.7" stroke-linecap="round" stroke-linejoin="round"/>
<path d="M423.6 1839.9L446 1825.3L469 1818" fill="none" stroke="#e2d6e0" stroke-width="8.4" stroke-linecap="round" stroke-linejoin="round"/>
<path d="M469 1818L462.7 1837.8L454.4 1852.4" fill="none" stroke="#e2d6e0" stroke-width="8" stroke-linecap="round" stroke-linejoin="round"/>
<path d="M518.1 1720.9L519.1 1737.6L508.7 1756.4" fill="none" stroke="#e2d6e0" stroke-width="7.5" stroke-linecap="round" stroke-linejoin="round"/>
<path d="M503.5 1681.2L502.4 1692.7" fill="none" stroke="#e2d6e0" stroke-width="8.4" stroke-linecap="round" stroke-linejoin="round"/>
<path d="M460.7 1748L459.6 1754.3" fill="none" stroke="#e2d6e0" stroke-width="5.3" stroke-linecap="round" stroke-linejoin="round"/>
<path d="M423.6 1800.2L430.4 1792.9L432.5 1779.4" fill="none" stroke="#e2d6e0" stroke-width="2.2" stroke-linecap="round" stroke-linejoin="round"/>
<ellipse cx="535.8" cy="1685.4" rx="7.8" ry="7.3" fill="#7a3a9c"/>
<ellipse cx="522.3" cy="1697.4" rx="8.6" ry="7.8" fill="#7a3a9c"/>
<ellipse cx="560.9" cy="1710.5" rx="8.6" ry="7.8" fill="#7a3a9c"/>
<ellipse cx="549.4" cy="1724.5" rx="8.4" ry="7.5" fill="#7a3a9c"/>
<ellipse cx="460.7" cy="1729.2" rx="8.1" ry="7.5" fill="#7a3a9c"/>
<ellipse cx="438.2" cy="1756.4" rx="8.4" ry="8.1" fill="#7a3a9c"/>
<ellipse cx="477.4" cy="1763.2" rx="8.9" ry="8.4" fill="#7a3a9c"/>
<ellipse cx="519.1" cy="1774.1" rx="8.1" ry="7.5" fill="#7a3a9c"/>
<ellipse cx="570.3" cy="1779.4" rx="6.3" ry="6.1" fill="#7a3a9c"/>
<ellipse cx="587" cy="1758.5" rx="8.4" ry="8.9" fill="#9250aa"/>
<ellipse cx="489.9" cy="1810.1" rx="6.5" ry="6.1" fill="#7a3a9c"/>
<ellipse cx="458.1" cy="1705.2" rx="6.3" ry="5.7" fill="#b264b4"/>
<ellipse cx="427.8" cy="1693.7" rx="6.3" ry="7.3" fill="#9250aa"/>
<ellipse cx="510.8" cy="1723" rx="3.1" ry="5.7" fill="#7a3a9c" transform="rotate(20 510.8 1723)"/>
<ellipse cx="544.2" cy="1782.5" rx="4.7" ry="3.7" fill="#7a3a9c" transform="rotate(-40 544.2 1782.5)"/>
<ellipse cx="585.9" cy="1810.7" rx="5.7" ry="3.7" fill="#7a3a9c"/>
<ellipse cx="430.4" cy="1840.9" rx="5.7" ry="3.7" fill="#7a3a9c" transform="rotate(-30 430.4 1840.9)"/>
<ellipse cx="587" cy="1736.6" rx="5.2" ry="2.6" fill="#7a3a9c" transform="rotate(10 587 1736.6)"/>
<ellipse cx="486.8" cy="1777.3" rx="5.2" ry="4.7" fill="#b264b4"/>
<ellipse cx="511.8" cy="1758" rx="4.7" ry="1.9" fill="#7040b0" transform="rotate(-30 511.8 1758)"/>
<ellipse cx="566.1" cy="1684.4" rx="4.7" ry="3.1" fill="#7a3a9c" transform="rotate(20 566.1 1684.4)"/>
<ellipse cx="456.5" cy="1788.7" rx="4.7" ry="4.7" fill="#b264b4"/>
<ellipse cx="515.5" cy="1739.7" rx="4.4" ry="3.7" fill="#e8a0c0" stroke="#d070a8" stroke-width="1.2"/>
<ellipse cx="512.9" cy="1750.1" rx="4.2" ry="2.3" fill="#e8a0c0" stroke="#d070a8" stroke-width="1.2"/>
<ellipse cx="556.7" cy="1759.5" rx="4.4" ry="4.2" fill="#e8a0c0" stroke="#d070a8" stroke-width="1.2"/>
<ellipse cx="519.1" cy="1811.7" rx="5.7" ry="5.2" fill="#e8a0c0" stroke="#d070a8" stroke-width="1.2"/>
<ellipse cx="512.9" cy="1823.2" rx="4.2" ry="4.7" fill="#e8a0c0" stroke="#d070a8" stroke-width="1.2"/>
<ellipse cx="506.6" cy="1832.6" rx="4.7" ry="4.4" fill="#e8a0c0" stroke="#d070a8" stroke-width="1.2"/>
<ellipse cx="567.1" cy="1823.2" rx="4.7" ry="3.7" fill="#e8a0c0" stroke="#d070a8" stroke-width="1.2"/>
<ellipse cx="500.3" cy="1846.2" rx="5.2" ry="3.7" fill="#e8a0c0" stroke="#d070a8" stroke-width="1.2"/>
</g>
</g>
<line x1="566.2" y1="1845" x2="587.6" y2="1845" stroke="#000" stroke-width="2.2"/>
<clipPath id="fc1"><rect x="423.6" y="1870.1" width="171.6" height="170.8"/></clipPath>
<g clip-path="url(#fc1)">
<rect x="421.6" y="1868.1" width="175.6" height="174.8" filter="url(#n47)"/>
<g filter="url(#fb2)">
<path d="M471.2 1887.2h0M469.9 1886.9h0M473.5 1887h0M475.2 1883.7h0M471.3 1884.1h0M469.1 1885.5h0M471.7 1887.1h0M472.4 1891.8h0M473.4 1881.8h0M471.6 1884.3h0M469.8 1889.4h0M470.5 1880.9h0M471.9 1885.2h0M468 1883.6h0M469.5 1885.9h0M470 1886.2h0M510.3 1890.8h0M502 1892.5h0M507.9 1891.1h0M509 1889.2h0M501.3 1893.1h0M501.8 1891.3h0M505.9 1895.5h0M504.9 1892.4h0M508.7 1894.5h0M503.8 1897.1h0M501.7 1893.8h0M506.6 1893.2h0M502.7 1894.4h0M502.8 1891.4h0M501.3 1897.4h0M502.8 1896.9h0M505.7 1892.5h0M506.6 1894.1h0M504.9 1889h0M504.7 1896.1h0M436.8 1917.5h0M439.1 1916.2h0M440.2 1911.6h0M435 1909.3h0M437.5 1915.4h0M439.6 1914.3h0M430.8 1918.2h0M432.5 1912.2h0M435.2 1916.7h0M434.4 1915.6h0M431.2 1919.3h0M435.4 1915.5h0M437 1915.6h0M436.1 1913h0M435.3 1916.2h0M453.7 1927.4h0M451.5 1928.5h0M452.6 1928.2h0M450.7 1926.5h0M453.9 1928.4h0M451.3 1935.9h0M453.3 1929.7h0M451.6 1925.3h0M453.9 1927.5h0M451.4 1930.1h0M453.7 1928.3h0M451.3 1932.7h0M452.6 1925.3h0M453 1928.1h0M451.3 1929.3h0M440.3 1961.7h0M440.3 1957.5h0M442.5 1955.6h0M442.2 1956.8h0M442.6 1955h0M440.8 1953.2h0M438.7 1957h0M440.9 1961.6h0M444.1 1953.8h0M438 1959.9h0M440.8 1953.7h0M440.9 1954.3h0M437.8 1954h0M439.2 1962.2h0M440.7 1956.7h0M526.1 1938.1h0M519.8 1938.6h0M521.2 1938.5h0M523.6 1938.5h0M521.5 1939.7h0M518.2 1936.9h0M520 1933.8h0M520.2 1939.4h0M520.5 1939h0M521 1938.4h0M521.7 1935.4h0M522.3 1937.1h0M521.3 1938.1h0M519.2 1937.4h0M523.3 1936.7h0M539.8 1953.6h0M545.1 1952.9h0M540.7 1950.4h0M547.5 1949h0M546.4 1955.4h0M544.7 1948.4h0M551.1 1953.2h0M544.9 1951.4h0M540.7 1951.8h0M544.9 1949.7h0M544.6 1957h0M545.8 1952.4h0M548 1956.1h0M547.5 1949.9h0M537.6 1955.7h0M544.4 1951.4h0M545.9 1951.1h0M541.9 1959.4h0M538.4 1955.8h0M547.9 1959.2h0M545.1 1954.6h0M540.9 1952.9h0M536.5 1950.7h0M519.1 1951.5h0M518 1954.5h0M515.4 1952.1h0M518.2 1951.8h0M519.3 1956.3h0M516.6 1954.9h0M522.4 1951.4h0M517.7 1948.9h0M517.1 1956.5h0M514.1 1952.8h0M517.5 1956.2h0M519.9 1948.6h0M517.9 1952.2h0M519.4 1949.5h0M518.5 1950.7h0M588.5 1909.8h0M587.7 1907.1h0M589.4 1907.2h0M584.4 1907.6h0M586 1908h0M581 1913.2h0M588.9 1913.1h0M585.8 1911.3h0M587.6 1909h0M592.6 1907.1h0M588.8 1903.5h0M588.7 1908.4h0M583.8 1907.1h0M580.4 1905.6h0M587.5 1900.7h0M590.4 1912h0M584.6 1904.3h0M582.6 1904.9h0M584.6 1915.7h0M583.5 1911.3h0M579 2013h0M573.5 2018.9h0M572.1 2021h0M582.3 2016.3h0M571.5 2018.6h0M575.7 2013.7h0M573.9 2016.8h0M576.3 2020.6h0M572.7 2011.7h0M568.5 2023.2h0M572.9 2015h0M583.4 2020.5h0M582.6 2015.8h0M571.9 2014.5h0M576.8 2018h0M575.9 2024.7h0M579.4 2012.5h0M576.1 2018.6h0M571.7 2024.9h0M577.8 2022h0M572.5 2012.3h0M577.2 2015.7h0M572.3 2016.1h0M517.5 2025.2h0M516.5 2025.9h0M523.8 2027.6h0M515.8 2029.6h0M515.9 2021.2h0M513.8 2020h0M519.7 2022.2h0M513.7 2023.5h0M516.5 2021.9h0M515.7 2024.8h0M518.5 2022.6h0M518.3 2025.4h0M518.3 2023.5h0M514.3 2027.1h0M518.4 2023.2h0M524.8 1898.9h0M530.6 1898.2h0M531.7 1898.1h0M527.1 1898.4h0M528.7 1894.3h0M526.7 1900.1h0M523.1 1897.9h0M528 1901h0M529.7 1897.4h0M530.8 1895.1h0M523.5 1900.2h0M527.8 1895h0M528.7 1899.3h0M428.8 1995.7h0M424.6 1993.1h0M426.8 1996.3h0M426.2 1995.4h0M429.2 1994.2h0M425.7 2000.8h0M425.9 1995.3h0M429.5 1992.8h0M430.6 1993.9h0M425.5 1993.9h0M425.2 1995.1h0M429.2 1996.5h0M430.1 1998.2h0" stroke="#f2e0f0" stroke-width="2.6" stroke-linecap="round" fill="none" opacity="0.8"/>
<path d="M534.8 1870.1L537.9 1884.9L541 1897.5" fill="none" stroke="#e2d6e0" stroke-width="4" stroke-linecap="round" stroke-linejoin="round"/>
<path d="M572.4 1870.1L571.3 1888.1L569.2 1899.5" fill="none" stroke="#e2d6e0" stroke-width="5.8" stroke-linecap="round" stroke-linejoin="round"/>
<path d="M547.3 1905.8L549.4 1929.8" fill="none" stroke="#e2d6e0" stroke-width="4.4" stroke-linecap="round" stroke-linejoin="round"/>
<path d="M490.9 1990.4L488.8 2008.1L473.2 2024.8L459.6 2039.4" fill="none" stroke="#e2d6e0" stroke-width="5.8" stroke-linecap="round" stroke-linejoin="round"/>
<path d="M594.3 1939.2L585.9 1961.1L577.6 1979.9" fill="none" stroke="#e2d6e0" stroke-width="4.9" stroke-linecap="round" stroke-linejoin="round"/>
<path d="M547.3 2011.2L537.9 2029L529.6 2040.5" fill="none" stroke="#e2d6e0" stroke-width="9.8" stroke-linecap="round" stroke-linejoin="round"/>
<path d="M461.7 1966.4L461.7 1969.5" fill="none" stroke="#e2d6e0" stroke-width="4.9" stroke-linecap="round" stroke-linejoin="round"/>
<path d="M513.9 1971.6L514.9 1972.6" fill="none" stroke="#e2d6e0" stroke-width="2.7" stroke-linecap="round" stroke-linejoin="round"/>
<path d="M441.9 1989.3L435.6 1997.7" fill="none" stroke="#e2d6e0" stroke-width="3.1" stroke-linecap="round" stroke-linejoin="round"/>
<ellipse cx="483.6" cy="1879.7" rx="8.4" ry="8.4" fill="#9250aa"/>
<ellipse cx="505.6" cy="1917.3" rx="6.8" ry="6.8" fill="#b264b4"/>
<ellipse cx="448.1" cy="1902.7" rx="7.3" ry="6.8" fill="#b264b4"/>
<ellipse cx="449.2" cy="1944.4" rx="9.4" ry="8.9" fill="#b264b4"/>
<ellipse cx="490.4" cy="1958" rx="8.1" ry="8.1" fill="#7a3a9c"/>
<ellipse cx="531.6" cy="1951.7" rx="6.5" ry="6.8" fill="#9250aa"/>
<ellipse cx="542.6" cy="1941.3" rx="7.3" ry="5.7" fill="#b264b4"/>
<ellipse cx="572.4" cy="1934" rx="7.3" ry="7.3" fill="#b264b4"/>
<ellipse cx="432.5" cy="1982" rx="8.4" ry="8.4" fill="#b264b4"/>
<ellipse cx="521.2" cy="2005" rx="7.8" ry="7.8" fill="#b264b4"/>
<ellipse cx="549.4" cy="2024.8" rx="7.1" ry="6.8" fill="#7a3a9c"/>
<ellipse cx="492.5" cy="2035.3" rx="6.8" ry="5.7" fill="#9250aa"/>
<ellipse cx="509.7" cy="1981.5" rx="4.4" ry="6.8" fill="#7a3a9c" transform="rotate(25 509.7 1981.5)"/>
<ellipse cx="564" cy="1990.4" rx="2.9" ry="7.8" fill="#7a3a9c" transform="rotate(40 564 1990.4)"/>
<ellipse cx="480" cy="1926.7" rx="3.4" ry="5.7" fill="#7a3a9c"/>
<ellipse cx="566.6" cy="1888.1" rx="2.6" ry="8.4" fill="#7a3a9c" transform="rotate(5 566.6 1888.1)"/>
<ellipse cx="521.2" cy="1884.9" rx="5.2" ry="5.7" fill="#b264b4"/>
<ellipse cx="465.9" cy="1994.5" rx="5.2" ry="4.7" fill="#b264b4"/>
<ellipse cx="593.2" cy="1880.7" rx="3.1" ry="6.3" fill="#b264b4"/>
<ellipse cx="548.4" cy="1923.6" rx="4" ry="3.7" fill="#e8a0c0" stroke="#d070a8" stroke-width="1.2"/>
<ellipse cx="580.7" cy="1970.5" rx="3.7" ry="5.7" fill="#e8a0c0" stroke="#d070a8" stroke-width="1.2"/>
<ellipse cx="590.1" cy="1955.9" rx="3.7" ry="5.2" fill="#e8a0c0" stroke="#d070a8" stroke-width="1.2"/>
<ellipse cx="461.7" cy="2034.2" rx="5.2" ry="3.1" fill="#e8a0c0" stroke="#d070a8" stroke-width="1.2"/>
</g>
</g>
<line x1="566.2" y1="2035.7" x2="587.6" y2="2035.7" stroke="#000" stroke-width="2.2"/>
<clipPath id="fc2"><rect x="423.6" y="2060.9" width="171.6" height="171.1"/></clipPath>
<g clip-path="url(#fc2)">
<rect x="421.6" y="2058.9" width="175.6" height="175.1" filter="url(#n48)"/>
<g filter="url(#fb2)">
<path d="M507 2174.8h0M511.3 2172.1h0M509.4 2172.2h0M512.3 2178h0M512.9 2176.3h0M510.7 2176.8h0M508 2177.9h0M506.8 2176.7h0M511.4 2177.6h0M508.8 2182.7h0M509.9 2176.1h0M510.1 2176.3h0M508.8 2176.7h0M514.5 2177.6h0M510.1 2179.1h0M522.3 2156.2h0M516.8 2161.8h0M515 2155.9h0M519.5 2161.4h0M516.1 2151.6h0M519.5 2155.5h0M517.3 2157.6h0M518.5 2157.2h0M517.2 2159.3h0M521.2 2156.7h0M517.1 2158.2h0M519.1 2154.5h0M517.1 2158.8h0M549.2 2186.4h0M549.7 2186.9h0M549.4 2183.9h0M552.1 2187.2h0M548 2188.4h0M549.9 2186.9h0M551 2190.4h0M550.3 2189.4h0M552.8 2185.3h0M548.6 2188.1h0M447.5 2088.4h0M452.2 2090.4h0M451.1 2085.8h0M453.9 2089.6h0M451.4 2089.5h0M447.5 2086.5h0M448.3 2091.8h0M448.9 2088.4h0M449.8 2089.7h0M451 2089.2h0" stroke="#f2e0f0" stroke-width="2.6" stroke-linecap="round" fill="none" opacity="0.8"/>
<path d="M483.6 2077.3L498.2 2081.5L519.1 2083.6L545.2 2078.3L569.2 2072.1L585.9 2067.9" fill="none" stroke="#e2d6e0" stroke-width="9.8" stroke-linecap="round" stroke-linejoin="round"/>
<path d="M501.4 2061.6L501.4 2078.3" fill="none" stroke="#e2d6e0" stroke-width="6.2" stroke-linecap="round" stroke-linejoin="round"/>
<path d="M583.8 2078.3L577.6 2097.1L569.2 2113.8" fill="none" stroke="#e2d6e0" stroke-width="3.5" stroke-linecap="round" stroke-linejoin="round"/>
<path d="M569.2 2113.8L545.2 2118L522.3 2125.3L517 2130.5" fill="none" stroke="#e2d6e0" stroke-width="4.9" stroke-linecap="round" stroke-linejoin="round"/>
<path d="M514.9 2133.7L506.6 2143.1L497.2 2152.5" fill="none" stroke="#e2d6e0" stroke-width="2" stroke-linecap="round" stroke-linejoin="round"/>
<path d="M425.2 2166L435.6 2154.5L449.2 2156.6L464.8 2163.9L466.9 2169.2" fill="none" stroke="#e2d6e0" stroke-width="4.4" stroke-linecap="round" stroke-linejoin="round"/>
<path d="M450.2 2230.8L466.9 2219.3L479.5 2207.8L492 2203.6" fill="none" stroke="#e2d6e0" stroke-width="2.5" stroke-linecap="round" stroke-linejoin="round"/>
<path d="M566.1 2210.9L573.4 2212" fill="none" stroke="#e2d6e0" stroke-width="5.3" stroke-linecap="round" stroke-linejoin="round"/>
<path d="M549.4 2219.3L553.6 2226.6" fill="none" stroke="#e2d6e0" stroke-width="4" stroke-linecap="round" stroke-linejoin="round"/>
<path d="M577.6 2218.2L594.3 2204.7" fill="none" stroke="#e2d6e0" stroke-width="1.2" stroke-linecap="round" stroke-linejoin="round"/>
<path d="M449.2 2061.6L450.2 2064.8" fill="none" stroke="#e2d6e0" stroke-width="6.2" stroke-linecap="round" stroke-linejoin="round"/>
<path d="M437.7 2088.8L446 2081.5" fill="none" stroke="#e2d6e0" stroke-width="1.6" stroke-linecap="round" stroke-linejoin="round"/>
<path d="M458.6 2172.3L460.7 2193.2" fill="none" stroke="#e2d6e0" stroke-width="0.9" stroke-linecap="round" stroke-linejoin="round"/>
<path d="M493 2154.5L494.1 2156.6" fill="none" stroke="#e2d6e0" stroke-width="4.4" stroke-linecap="round" stroke-linejoin="round"/>
<path d="M592.2 2061.6L588 2073.1" fill="none" stroke="#e2d6e0" stroke-width="4.4" stroke-linecap="round" stroke-linejoin="round"/>
<ellipse cx="470.1" cy="2120.1" rx="7.8" ry="9.9" fill="#b860b0"/>
<ellipse cx="486.8" cy="2123.7" rx="5.7" ry="7.5" fill="#c268ae"/>
<ellipse cx="560.9" cy="2160.3" rx="7.3" ry="8.9" fill="#b860b0"/>
<ellipse cx="573.4" cy="2165" rx="4.4" ry="5.7" fill="#c268ae"/>
<ellipse cx="481.5" cy="2182.2" rx="6.8" ry="8.6" fill="#b860b0"/>
<ellipse cx="428.3" cy="2183.8" rx="5.2" ry="8.4" fill="#c268ae"/>
<ellipse cx="518.1" cy="2174.4" rx="7.3" ry="6.3" fill="#c860a8"/>
<ellipse cx="432.5" cy="2072.1" rx="9.4" ry="11.5" fill="#cc5890"/>
<ellipse cx="456.5" cy="2073.1" rx="3.3" ry="4.2" fill="#9250aa"/>
<ellipse cx="578.6" cy="2064.2" rx="5" ry="3.1" fill="#7a3a9c" transform="rotate(-15 578.6 2064.2)"/>
<ellipse cx="545.2" cy="2071.5" rx="3.3" ry="2.1" fill="#7a3a9c" transform="rotate(-20 545.2 2071.5)"/>
<ellipse cx="564" cy="2109.7" rx="3.7" ry="3.3" fill="#7a40a0"/>
<ellipse cx="469" cy="2156.6" rx="4.7" ry="3.1" fill="#7a3a9c" transform="rotate(-25 469 2156.6)"/>
<ellipse cx="568.2" cy="2216.7" rx="5.4" ry="3.7" fill="#7a3a9c" transform="rotate(-20 568.2 2216.7)"/>
<ellipse cx="592.2" cy="2207.8" rx="3.1" ry="3.7" fill="#7a3a9c"/>
<ellipse cx="425.7" cy="2110.7" rx="2.1" ry="4.7" fill="#9250aa"/>
<ellipse cx="450.2" cy="2070.5" rx="1" ry="5.2" fill="#301040"/>
<ellipse cx="559.8" cy="2219.3" rx="2.6" ry="3.7" fill="#9250aa"/>
<ellipse cx="461.7" cy="2186.9" rx="1.6" ry="5.2" fill="#a050a8" transform="rotate(10 461.7 2186.9)"/>
</g>
</g>
<line x1="566.2" y1="2226.5" x2="587.6" y2="2226.5" stroke="#000" stroke-width="2.2"/>
<text x="0" y="0" font-size="23.9" transform="translate(405.7 1853.5) rotate(-90)"><tspan font-style="italic">HyD-LIR-Venus</tspan><tspan font-style="italic" font-size="14.3" dy="-11.2">f/f</tspan></text>
<text x="0" y="0" font-size="23.9" transform="translate(376.9 2042.4) rotate(-90)"><tspan font-style="italic">HyD-LIR-Venus</tspan><tspan font-style="italic" font-size="14.3" dy="-11.2">f/f</tspan></text>
<text x="0" y="0" font-size="23.9" transform="translate(405.7 1998.5) rotate(-90)"><tspan>;Alb-</tspan><tspan font-style="italic">Cre</tspan></text>
<text x="0" y="0" font-size="23.9" transform="translate(405.7 2219.5) rotate(-90)"><tspan font-style="italic">Atg7</tspan><tspan font-style="italic" font-size="14.3" dy="-11.2">f/f</tspan><tspan dy="11.2">;Alb-</tspan><tspan font-style="italic">Cre</tspan></text>
</g>
<g id="pg">
<text x="645.9" y="1653.3" font-size="43.3" font-weight="bold">g</text>
<text x="811" y="1731.4" font-size="29.8" text-anchor="middle">AST</text>
<text x="1009.2" y="1731.4" font-size="29.8" text-anchor="middle">ALT</text>
<text x="848.8" y="1755.6" font-size="13.6" text-anchor="middle">0.0183</text>
<text x="1047.1" y="1755.6" font-size="13.6" text-anchor="middle">0.0181</text>
<text x="852.5" y="1778.5" font-size="24.5" text-anchor="middle" fill="#231815">*</text>
<text x="1053" y="1778.5" font-size="24.5" text-anchor="middle" fill="#231815">*</text>
<rect x="772.6" y="2044.5" width="12" height="7.4" fill="#fff" stroke="#000" stroke-width="1.6"/>
<line x1="778.6" y1="2043.1" x2="778.6" y2="2045.8" stroke="#000" stroke-width="1.6"/>
<line x1="775.6" y1="2043.1" x2="781.6" y2="2043.1" stroke="#000" stroke-width="1.6"/>
<line x1="775.6" y1="2045.8" x2="781.6" y2="2045.8" stroke="#000" stroke-width="1.6"/>
<circle cx="776.6" cy="2042.2" r="2.7" fill="#fff" stroke="#000" stroke-width="0.9"/>
<circle cx="780.6" cy="2042.7" r="2.7" fill="#fff" stroke="#000" stroke-width="0.9"/>
<circle cx="783.1" cy="2041.8" r="2.7" fill="#fff" stroke="#000" stroke-width="0.9"/>
<rect x="800.5" y="2040.5" width="12" height="11.5" fill="#d4d4d4" stroke="#000" stroke-width="1.6"/>
<line x1="806.5" y1="2036.4" x2="806.5" y2="2044.5" stroke="#000" stroke-width="1.6"/>
<line x1="803.5" y1="2036.4" x2="809.5" y2="2036.4" stroke="#000" stroke-width="1.6"/>
<line x1="803.5" y1="2044.5" x2="809.5" y2="2044.5" stroke="#000" stroke-width="1.6"/>
<circle cx="806.5" cy="2030.7" r="2.7" fill="#fff" stroke="#000" stroke-width="0.9"/>
<circle cx="805.5" cy="2041" r="2.7" fill="#fff" stroke="#000" stroke-width="0.9"/>
<circle cx="808.5" cy="2042.7" r="2.7" fill="#fff" stroke="#000" stroke-width="0.9"/>
<rect x="829.2" y="2045.6" width="12" height="6.3" fill="#222" stroke="#000" stroke-width="1.6"/>
<circle cx="829.2" cy="2044.1" r="2.7" fill="#fff" stroke="#000" stroke-width="0.9"/>
<circle cx="835.2" cy="2044.5" r="2.7" fill="#fff" stroke="#000" stroke-width="0.9"/>
<circle cx="841.2" cy="2044.1" r="2.7" fill="#fff" stroke="#000" stroke-width="0.9"/>
<circle cx="838.2" cy="2045" r="2.7" fill="#fff" stroke="#000" stroke-width="0.9"/>
<rect x="857.2" y="1926.5" width="12" height="125.4" fill="#000" stroke="#000" stroke-width="1.6"/>
<line x1="863.2" y1="1896.2" x2="863.2" y2="1926.5" stroke="#000" stroke-width="1.6"/>
<line x1="860.2" y1="1896.2" x2="866.2" y2="1896.2" stroke="#000" stroke-width="1.6"/>
<circle cx="863.2" cy="1820" r="2.7" fill="#fff" stroke="#000" stroke-width="0.9"/>
<circle cx="863.2" cy="1902.5" r="2.7" fill="#fff" stroke="#000" stroke-width="0.9"/>
<circle cx="863.2" cy="1922.5" r="2.7" fill="#fff" stroke="#000" stroke-width="0.9"/>
<circle cx="863.2" cy="1980.9" r="2.7" fill="#fff" stroke="#000" stroke-width="0.9"/>
<circle cx="863.2" cy="1996.9" r="2.7" fill="#fff" stroke="#000" stroke-width="0.9"/>
<line x1="764.4" y1="1776.1" x2="764.4" y2="2052.9" stroke="#000" stroke-width="1.8"/>
<line x1="757.4" y1="2051.9" x2="877" y2="2051.9" stroke="#000" stroke-width="1.8"/>
<line x1="757.4" y1="2051.9" x2="764.4" y2="2051.9" stroke="#000" stroke-width="1.8"/>
<text x="742.3" y="2060.4" font-size="23.6" text-anchor="end">0</text>
<line x1="757.4" y1="2006.1" x2="764.4" y2="2006.1" stroke="#000" stroke-width="1.8"/>
<text x="742.3" y="2014.6" font-size="23.6" text-anchor="end">400</text>
<line x1="757.4" y1="1960.3" x2="764.4" y2="1960.3" stroke="#000" stroke-width="1.8"/>
<text x="742.3" y="1968.8" font-size="23.6" text-anchor="end">800</text>
<line x1="757.4" y1="1914.5" x2="764.4" y2="1914.5" stroke="#000" stroke-width="1.8"/>
<text x="742.3" y="1923" font-size="23.6" text-anchor="end">1200</text>
<line x1="757.4" y1="1868.7" x2="764.4" y2="1868.7" stroke="#000" stroke-width="1.8"/>
<text x="742.3" y="1877.2" font-size="23.6" text-anchor="end">1600</text>
<line x1="757.4" y1="1822.9" x2="764.4" y2="1822.9" stroke="#000" stroke-width="1.8"/>
<text x="742.3" y="1831.4" font-size="23.6" text-anchor="end">2000</text>
<line x1="757.4" y1="1777.1" x2="764.4" y2="1777.1" stroke="#000" stroke-width="1.8"/>
<text x="742.3" y="1785.6" font-size="23.6" text-anchor="end">2400</text>
<line x1="764.4" y1="2051.9" x2="764.4" y2="2056.9" stroke="#000" stroke-width="1.8"/>
<line x1="793.4" y1="2051.9" x2="793.4" y2="2056.9" stroke="#000" stroke-width="1.8"/>
<line x1="820.1" y1="2051.9" x2="820.1" y2="2056.9" stroke="#000" stroke-width="1.8"/>
<line x1="848.8" y1="2051.9" x2="848.8" y2="2056.9" stroke="#000" stroke-width="1.8"/>
<line x1="877" y1="2051.9" x2="877" y2="2056.9" stroke="#000" stroke-width="1.8"/>
<path d="M839.1 1998.9V1776.5H863V1788.6" fill="none" stroke="#000" stroke-width="1.5"/>
<rect x="975" y="2047.3" width="13" height="5.5" fill="#fff" stroke="#000" stroke-width="1.6"/>
<circle cx="978.5" cy="2046.6" r="2.7" fill="#fff" stroke="#000" stroke-width="0.9"/>
<circle cx="984.5" cy="2046.2" r="2.7" fill="#fff" stroke="#000" stroke-width="0.9"/>
<circle cx="981.5" cy="2043.9" r="2.7" fill="#fff" stroke="#000" stroke-width="0.9"/>
<rect x="1003" y="2044.6" width="13" height="8.2" fill="#d4d4d4" stroke="#000" stroke-width="1.6"/>
<circle cx="1009.5" cy="2040.5" r="2.7" fill="#fff" stroke="#000" stroke-width="0.9"/>
<circle cx="1009.5" cy="2043.2" r="2.7" fill="#fff" stroke="#000" stroke-width="0.9"/>
<circle cx="1009.5" cy="2045.3" r="2.7" fill="#fff" stroke="#000" stroke-width="0.9"/>
<rect x="1029.5" y="2052.5" width="13" height="0.3" fill="#222" stroke="#000" stroke-width="1.6"/>
<circle cx="1031" cy="2048" r="2.7" fill="#fff" stroke="#000" stroke-width="0.9"/>
<circle cx="1034" cy="2049.4" r="2.7" fill="#fff" stroke="#000" stroke-width="0.9"/>
<circle cx="1041" cy="2048" r="2.7" fill="#fff" stroke="#000" stroke-width="0.9"/>
<circle cx="1039" cy="2051.2" r="2.7" fill="#fff" stroke="#000" stroke-width="0.9"/>
<rect x="1059.9" y="1866.5" width="13" height="186.3" fill="#000" stroke="#000" stroke-width="1.6"/>
<line x1="1066.4" y1="1819.3" x2="1066.4" y2="1866.5" stroke="#000" stroke-width="1.6"/>
<line x1="1063.4" y1="1819.3" x2="1069.4" y2="1819.3" stroke="#000" stroke-width="1.6"/>
<circle cx="1066.4" cy="1856.3" r="2.7" fill="#fff" stroke="#000" stroke-width="0.9"/>
<circle cx="1066.4" cy="1887.1" r="2.7" fill="#fff" stroke="#000" stroke-width="0.9"/>
<circle cx="1066.4" cy="1943.9" r="2.7" fill="#fff" stroke="#000" stroke-width="0.9"/>
<circle cx="1066.4" cy="1950.8" r="2.7" fill="#fff" stroke="#000" stroke-width="0.9"/>
<line x1="967.2" y1="1777.9" x2="967.2" y2="2053.8" stroke="#000" stroke-width="1.8"/>
<line x1="960.7" y1="2052.8" x2="1080.7" y2="2052.8" stroke="#000" stroke-width="1.8"/>
<line x1="960.7" y1="2052.8" x2="967.2" y2="2052.8" stroke="#000" stroke-width="1.8"/>
<text x="945.1" y="2061.3" font-size="23.6" text-anchor="end">0</text>
<line x1="960.7" y1="1984.3" x2="967.2" y2="1984.3" stroke="#000" stroke-width="1.8"/>
<text x="945.1" y="1992.8" font-size="23.6" text-anchor="end">500</text>
<line x1="960.7" y1="1915.9" x2="967.2" y2="1915.9" stroke="#000" stroke-width="1.8"/>
<text x="945.1" y="1924.3" font-size="23.6" text-anchor="end">1000</text>
<line x1="960.7" y1="1847.4" x2="967.2" y2="1847.4" stroke="#000" stroke-width="1.8"/>
<text x="945.1" y="1855.9" font-size="23.6" text-anchor="end">1500</text>
<line x1="960.7" y1="1778.9" x2="967.2" y2="1778.9" stroke="#000" stroke-width="1.8"/>
<text x="945.1" y="1787.4" font-size="23.6" text-anchor="end">2000</text>
<line x1="967.2" y1="2052.8" x2="967.2" y2="2057.8" stroke="#000" stroke-width="1.8"/>
<line x1="996.5" y1="2052.8" x2="996.5" y2="2057.8" stroke="#000" stroke-width="1.8"/>
<line x1="1025" y1="2052.8" x2="1025" y2="2057.8" stroke="#000" stroke-width="1.8"/>
<line x1="1052.2" y1="2052.8" x2="1052.2" y2="2057.8" stroke="#000" stroke-width="1.8"/>
<line x1="1080.7" y1="2052.8" x2="1080.7" y2="2057.8" stroke="#000" stroke-width="1.8"/>
<path d="M1040.4 1998.9V1776.5H1065.2V1788.6" fill="none" stroke="#000" stroke-width="1.5"/>
<text x="0" y="0" font-size="23.6" text-anchor="middle" transform="translate(666.6 1914.2) rotate(-90)">IU/I</text>
<rect x="757" y="2087.3" width="15.5" height="14.7" fill="#fff" stroke="#231815" stroke-width="1.2"/>
<text x="789.2" y="2102.1" font-size="23.9" font-style="italic">HyD-LIR-Venus</text>
<rect x="757" y="2123.9" width="15.5" height="14.7" fill="#b0b0b0" stroke="#8c8c8c" stroke-width="1.2"/>
<text x="789.2" y="2139" font-size="23.9"><tspan font-style="italic">HyD-LIR-Venus</tspan><tspan font-style="italic" font-size="14.3" dy="-11.2">f/f</tspan><tspan dy="11.2">;Alb-</tspan><tspan font-style="italic">Cre</tspan></text>
<rect x="757" y="2160.5" width="15.5" height="14.7" fill="#626262" stroke="#4a4a4a" stroke-width="1.2"/>
<text x="789.2" y="2176.9" font-size="23.9"><tspan font-style="italic">Atg7</tspan><tspan font-style="italic" font-size="14.3" dy="-11.2">f/f</tspan></text>
<rect x="757" y="2197.4" width="15.5" height="14.7" fill="#1e1e1e" stroke="#1e1e1e" stroke-width="1.2"/>
<text x="789.2" y="2212.3" font-size="23.9"><tspan font-style="italic">Atg7</tspan><tspan font-style="italic" font-size="14.3" dy="-11.2">f/f</tspan><tspan dy="11.2">;Alb-</tspan><tspan font-style="italic">Cre</tspan></text>
</g>
<g id="ph">
<text x="1132.6" y="1653.8" font-size="43.3" font-weight="bold">h</text>
<rect x="1308" y="1634.6" width="12.6" height="11.8" fill="#fff" stroke="#231815" stroke-width="1.2"/>
<text x="1333.8" y="1648.1" font-size="23.9" font-style="italic">HyD-LIR-Venus</text>
<rect x="1308" y="1663.5" width="12.6" height="11.8" fill="#b0b0b0" stroke="#8c8c8c" stroke-width="1.2"/>
<text x="1333.8" y="1677.7" font-size="23.9"><tspan font-style="italic">HyD-LIR-Venus</tspan><tspan font-style="italic" font-size="14.3" dy="-11.2">f/f</tspan><tspan dy="11.2">;Alb-</tspan><tspan font-style="italic">Cre</tspan></text>
<rect x="1308" y="1694.2" width="12.6" height="11.8" fill="#626262" stroke="#4a4a4a" stroke-width="1.2"/>
<text x="1333.8" y="1707.7" font-size="23.9"><tspan font-style="italic">Atg7</tspan><tspan font-style="italic" font-size="14.3" dy="-11.2">f/f</tspan></text>
<rect x="1308" y="1723.1" width="12.6" height="11.8" fill="#1e1e1e" stroke="#1e1e1e" stroke-width="1.2"/>
<text x="1333.8" y="1737.3" font-size="23.9"><tspan font-style="italic">Atg7</tspan><tspan font-style="italic" font-size="14.3" dy="-11.2">f/f</tspan><tspan dy="11.2">;Alb-</tspan><tspan font-style="italic">Cre</tspan></text>
<rect x="1181.9" y="1789.2" width="197.3" height="37" fill="#c9c9c9"/>
<rect x="1521.9" y="1789.2" width="197.7" height="37.5" fill="#c9c9c9"/>
<rect x="1521.9" y="2046.9" width="197.7" height="37.5" fill="#c9c9c9"/>
<rect x="1181.9" y="2121.2" width="197.3" height="37.6" fill="#c9c9c9"/>
<rect x="1134.1" y="1826.9" width="293.4" height="72.5" fill="#fff" stroke="#000" stroke-width="2"/>
<rect x="1474.1" y="1827.7" width="293.4" height="72.1" fill="#fff" stroke="#000" stroke-width="2"/>
<rect x="1134.1" y="2046.9" width="293.4" height="72.5" fill="#fff" stroke="#000" stroke-width="2"/>
<rect x="1474.1" y="2086.9" width="293.4" height="72.1" fill="#fff" stroke="#000" stroke-width="2"/>
<text x="1280.8" y="1858.5" font-size="21.6" text-anchor="middle">Persistent activation of Nrf2</text>
<text x="1280.8" y="1884.6" font-size="21.6" text-anchor="middle">Intact bulk autophagy</text>
<text x="1621.2" y="1859.2" font-size="21.6" text-anchor="middle">Persistent activation of Nrf2</text>
<text x="1621.2" y="1885.4" font-size="21.6" text-anchor="middle">Defective autophagy</text>
<text x="1280.8" y="2078.5" font-size="21.6" text-anchor="middle">Persistent activation of Nrf2</text>
<text x="1280.8" y="2104.6" font-size="21.6" text-anchor="middle">Intact autophagy</text>
<text x="1621.2" y="2118.5" font-size="21.6" text-anchor="middle">Inactivation of Nrf2</text>
<text x="1621.2" y="2144.2" font-size="21.6" text-anchor="middle">Defective autophagy</text>
<text x="1282.7" y="1816.2" font-size="21.6" text-anchor="middle"><tspan font-style="italic" font-weight="bold">HyD-LIR</tspan><tspan font-style="italic" font-weight="bold" font-size="13" dy="-10.2">f/f</tspan><tspan font-weight="bold" dy="10.2">;Alb-</tspan><tspan font-style="italic" font-weight="bold">Cre</tspan></text>
<text x="1623.1" y="1816.2" font-size="21.6" text-anchor="middle"><tspan font-style="italic" font-weight="bold">Atg7</tspan><tspan font-style="italic" font-weight="bold" font-size="13" dy="-10.2">f/f</tspan><tspan font-weight="bold" dy="10.2">;Alb-</tspan><tspan font-style="italic" font-weight="bold">Cre</tspan></text>
<text x="1621.9" y="2070.8" font-size="20.8" text-anchor="middle" font-style="italic" font-weight="bold">Loss of p62 or Nrf2</text>
<text x="1282.7" y="2148.8" font-size="21.6" text-anchor="middle"><tspan font-style="italic" font-weight="bold">Keap1</tspan><tspan font-style="italic" font-weight="bold" font-size="13" dy="-10.2">f/f</tspan><tspan font-weight="bold" dy="10.2">;Alb-</tspan><tspan font-style="italic" font-weight="bold">Cre</tspan></text>
<path d="M1275 1910.8H1286.5V1923.8H1293.3L1280.8 1938.1L1268.3 1923.8H1275Z"/>
<path d="M1615 1910.8H1626.5V1923.8H1633.3L1620.8 1938.1L1608.3 1923.8H1615Z"/>
<path d="M1275 2034.6H1286.5V2021.6H1293.3L1280.8 2007.3L1268.3 2021.6H1275Z"/>
<path d="M1615 2007.3H1626.5V2020.3H1633.3L1620.8 2034.6L1608.3 2020.3H1615Z"/>
<path d="M1615 2166.5H1626.5V2179.5H1633.3L1620.8 2193.8L1608.3 2179.5H1615Z"/>
<text x="1277.3" y="1965.4" font-size="25.2" text-anchor="middle" font-weight="bold">Mild or no liver</text>
<text x="1280.4" y="1995" font-size="25.2" text-anchor="middle" font-weight="bold">dysfunction</text>
<text x="1617.3" y="1965.4" font-size="25.2" text-anchor="middle" font-weight="bold">Severe liver</text>
<text x="1620.4" y="1995" font-size="25.2" text-anchor="middle" font-weight="bold">dysfunction</text>
<text x="1620.8" y="2220" font-size="27.7" text-anchor="middle" font-weight="bold">Mild phenotypes</text>
</g>
</svg>
</body></html>
